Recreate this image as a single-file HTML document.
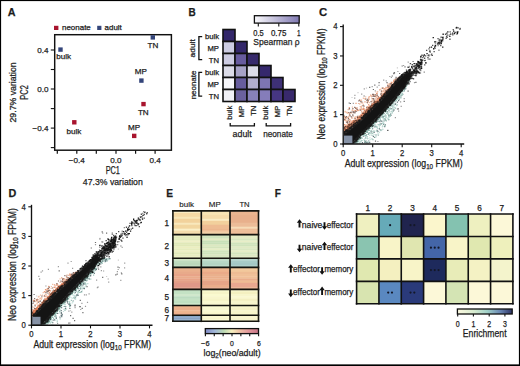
<!DOCTYPE html>
<html><head><meta charset="utf-8"><style>
html,body{margin:0;padding:0;background:#fff;}
#wrap{position:relative;width:520px;height:366px;overflow:hidden;background:#fff;}
canvas,svg{position:absolute;left:0;top:0;}
svg text{font-family:"Liberation Sans", sans-serif;fill:#1c1c1c;stroke:#1c1c1c;stroke-width:0.25px;}
</style></head><body><div id="wrap">
<svg width="520" height="366" viewBox="0 0 520 366">
<clipPath id="clipC"><rect x="343.8" y="18" width="126.2" height="125.5"/></clipPath>
<g clip-path="url(#clipC)">
<path fill="#3c3c3c" fill-opacity="0.5" d="M393.5 72.1h1.2v1.2h-1.2zM383.1 79.6h1.2v1.2h-1.2zM363.7 88.3h1.2v1.2h-1.2zM389.2 75.9h1.2v1.2h-1.2zM367.3 156.2h1.2v1.2h-1.2zM397.3 70.9h1.2v1.2h-1.2zM390.8 76.8h1.2v1.2h-1.2zM385.6 80.2h1.2v1.2h-1.2zM378.4 84.8h1.2v1.2h-1.2zM346.0 161.0h1.2v1.2h-1.2zM400.6 105.7h1.2v1.2h-1.2zM377.3 140.9h1.2v1.2h-1.2zM403.0 64.9h1.2v1.2h-1.2zM354.1 97.6h1.2v1.2h-1.2zM400.0 101.3h1.2v1.2h-1.2zM394.8 117.1h1.2v1.2h-1.2zM354.4 167.3h1.2v1.2h-1.2zM361.1 93.6h1.2v1.2h-1.2zM403.6 98.0h1.2v1.2h-1.2zM374.7 90.2h1.2v1.2h-1.2zM398.0 110.5h1.2v1.2h-1.2zM407.6 61.5h1.2v1.2h-1.2zM352.7 102.7h1.2v1.2h-1.2zM413.9 82.1h1.2v1.2h-1.2zM354.3 94.7h1.2v1.2h-1.2zM408.8 65.8h1.2v1.2h-1.2zM354.0 159.8h1.2v1.2h-1.2zM374.6 149.1h1.2v1.2h-1.2zM387.1 129.9h1.2v1.2h-1.2zM345.5 163.9h1.2v1.2h-1.2zM376.6 86.6h1.2v1.2h-1.2zM371.6 86.1h1.2v1.2h-1.2z"/>
<path fill="#3c3c3c" fill-opacity="0.75" d="M366.7 156.2h1.2v1.2h-1.2zM404.4 66.3h1.2v1.2h-1.2zM363.1 158.1h1.2v1.2h-1.2zM369.1 86.7h1.2v1.2h-1.2zM374.2 84.5h1.2v1.2h-1.2zM396.9 108.4h1.2v1.2h-1.2zM386.4 82.0h1.2v1.2h-1.2zM349.8 102.9h1.2v1.2h-1.2zM415.3 81.7h1.2v1.2h-1.2zM362.5 153.0h1.2v1.2h-1.2zM372.8 88.9h1.2v1.2h-1.2zM387.2 129.8h1.2v1.2h-1.2zM378.5 82.0h1.2v1.2h-1.2zM403.6 100.8h1.2v1.2h-1.2zM393.9 72.3h1.2v1.2h-1.2zM348.6 102.4h1.2v1.2h-1.2zM393.2 73.1h1.2v1.2h-1.2zM352.3 168.3h1.2v1.2h-1.2zM412.5 60.9h1.2v1.2h-1.2zM345.5 166.2h1.2v1.2h-1.2zM391.7 75.4h1.2v1.2h-1.2zM363.5 95.4h1.2v1.2h-1.2zM401.6 65.4h1.2v1.2h-1.2zM372.4 146.4h1.2v1.2h-1.2zM395.5 76.8h1.2v1.2h-1.2zM408.3 66.9h1.2v1.2h-1.2zM374.9 140.5h1.2v1.2h-1.2zM399.0 72.9h1.2v1.2h-1.2zM345.6 168.4h1.2v1.2h-1.2zM407.5 90.6h1.2v1.2h-1.2zM358.1 159.8h1.2v1.2h-1.2zM372.8 144.4h1.2v1.2h-1.2zM397.7 108.2h1.2v1.2h-1.2z"/>
<path fill="#3c3c3c" fill-opacity="0.25" d="M357.4 92.1h1.2v1.2h-1.2zM396.8 67.2h1.2v1.2h-1.2zM356.4 162.7h1.2v1.2h-1.2zM351.4 96.9h1.2v1.2h-1.2zM365.9 87.5h1.2v1.2h-1.2z"/>
<path fill="#e69a78" d="M342.9 127.6h1.2v1.2h-1.2zM368.2 98.2h1.2v1.2h-1.2zM395.7 80.9h1.2v1.2h-1.2zM393.0 80.9h1.2v1.2h-1.2zM343.4 127.9h1.2v1.2h-1.2zM394.7 80.5h1.2v1.2h-1.2zM373.2 94.4h1.2v1.2h-1.2zM352.5 121.5h1.2v1.2h-1.2zM389.2 83.4h1.2v1.2h-1.2zM378.9 100.2h1.2v1.2h-1.2zM366.0 107.0h1.2v1.2h-1.2zM374.9 98.4h1.2v1.2h-1.2zM346.3 129.4h1.2v1.2h-1.2zM351.8 109.5h1.2v1.2h-1.2zM355.1 109.9h1.2v1.2h-1.2zM372.6 94.7h1.2v1.2h-1.2zM383.3 90.8h1.2v1.2h-1.2zM381.9 96.8h1.2v1.2h-1.2zM360.8 106.3h1.2v1.2h-1.2zM354.3 124.0h1.2v1.2h-1.2zM368.3 106.5h1.2v1.2h-1.2zM362.5 108.7h1.2v1.2h-1.2zM344.1 119.6h1.2v1.2h-1.2zM396.8 80.1h1.2v1.2h-1.2zM367.5 106.9h1.2v1.2h-1.2zM396.6 80.1h1.2v1.2h-1.2zM365.6 113.5h1.2v1.2h-1.2zM385.3 90.3h1.2v1.2h-1.2zM385.4 93.1h1.2v1.2h-1.2zM363.4 110.7h1.2v1.2h-1.2zM359.3 120.2h1.2v1.2h-1.2zM368.4 105.3h1.2v1.2h-1.2zM346.8 120.7h1.2v1.2h-1.2zM363.5 108.2h1.2v1.2h-1.2zM375.0 103.3h1.2v1.2h-1.2zM343.2 117.0h1.2v1.2h-1.2zM362.9 113.1h1.2v1.2h-1.2zM368.1 103.9h1.2v1.2h-1.2zM351.3 124.1h1.2v1.2h-1.2zM371.4 100.4h1.2v1.2h-1.2zM354.9 107.3h1.2v1.2h-1.2zM384.7 92.7h1.2v1.2h-1.2zM361.0 118.4h1.2v1.2h-1.2zM359.8 106.0h1.2v1.2h-1.2zM371.2 105.6h1.2v1.2h-1.2zM379.8 98.8h1.2v1.2h-1.2zM384.8 88.2h1.2v1.2h-1.2zM345.2 119.6h1.2v1.2h-1.2zM358.3 102.9h1.2v1.2h-1.2zM385.4 86.8h1.2v1.2h-1.2zM384.9 90.5h1.2v1.2h-1.2zM354.5 110.3h1.2v1.2h-1.2zM360.5 109.3h1.2v1.2h-1.2zM376.0 94.6h1.2v1.2h-1.2zM362.0 108.5h1.2v1.2h-1.2zM389.8 86.9h1.2v1.2h-1.2zM390.3 87.2h1.2v1.2h-1.2zM394.8 79.2h1.2v1.2h-1.2zM348.7 107.1h1.2v1.2h-1.2zM354.8 121.4h1.2v1.2h-1.2zM367.1 107.8h1.2v1.2h-1.2zM357.1 110.1h1.2v1.2h-1.2zM350.9 125.5h1.2v1.2h-1.2zM352.7 122.1h1.2v1.2h-1.2zM389.5 86.1h1.2v1.2h-1.2zM367.0 101.6h1.2v1.2h-1.2zM364.7 109.5h1.2v1.2h-1.2zM352.7 124.2h1.2v1.2h-1.2zM347.2 116.8h1.2v1.2h-1.2zM390.9 85.6h1.2v1.2h-1.2zM372.0 103.4h1.2v1.2h-1.2zM346.7 127.4h1.2v1.2h-1.2zM376.0 92.9h1.2v1.2h-1.2zM348.9 126.8h1.2v1.2h-1.2zM375.2 103.4h1.2v1.2h-1.2zM353.6 124.6h1.2v1.2h-1.2zM359.5 108.4h1.2v1.2h-1.2zM390.8 81.8h1.2v1.2h-1.2zM363.2 116.5h1.2v1.2h-1.2zM384.2 88.8h1.2v1.2h-1.2zM349.1 115.0h1.2v1.2h-1.2zM376.6 95.4h1.2v1.2h-1.2zM393.0 79.8h1.2v1.2h-1.2zM387.5 91.1h1.2v1.2h-1.2zM392.5 84.7h1.2v1.2h-1.2zM352.1 124.4h1.2v1.2h-1.2zM387.1 86.6h1.2v1.2h-1.2zM349.1 119.0h1.2v1.2h-1.2zM364.4 101.3h1.2v1.2h-1.2zM345.4 124.5h1.2v1.2h-1.2zM343.9 124.0h1.2v1.2h-1.2zM376.8 100.3h1.2v1.2h-1.2zM343.9 116.1h1.2v1.2h-1.2zM345.6 126.8h1.2v1.2h-1.2zM374.7 96.0h1.2v1.2h-1.2zM387.0 89.1h1.2v1.2h-1.2zM388.5 87.1h1.2v1.2h-1.2zM387.6 84.9h1.2v1.2h-1.2zM381.5 90.6h1.2v1.2h-1.2zM355.9 108.5h1.2v1.2h-1.2zM378.9 99.1h1.2v1.2h-1.2zM347.0 126.3h1.2v1.2h-1.2zM394.7 81.7h1.2v1.2h-1.2zM351.5 120.5h1.2v1.2h-1.2zM395.7 80.0h1.2v1.2h-1.2zM383.6 88.0h1.2v1.2h-1.2zM350.4 122.7h1.2v1.2h-1.2zM358.0 119.5h1.2v1.2h-1.2zM348.4 112.5h1.2v1.2h-1.2zM354.5 111.0h1.2v1.2h-1.2zM388.4 85.1h1.2v1.2h-1.2zM363.7 109.3h1.2v1.2h-1.2zM387.4 83.6h1.2v1.2h-1.2zM382.4 93.3h1.2v1.2h-1.2zM394.7 79.4h1.2v1.2h-1.2zM397.8 78.4h1.2v1.2h-1.2zM345.5 126.2h1.2v1.2h-1.2zM356.6 120.0h1.2v1.2h-1.2zM386.9 90.2h1.2v1.2h-1.2zM370.9 95.6h1.2v1.2h-1.2zM364.3 112.0h1.2v1.2h-1.2zM357.5 121.0h1.2v1.2h-1.2zM387.7 87.9h1.2v1.2h-1.2zM354.4 119.7h1.2v1.2h-1.2zM393.2 80.8h1.2v1.2h-1.2zM360.3 99.7h1.2v1.2h-1.2zM349.6 119.7h1.2v1.2h-1.2zM376.5 98.7h1.2v1.2h-1.2zM393.2 81.6h1.2v1.2h-1.2zM358.7 115.5h1.2v1.2h-1.2zM344.8 117.6h1.2v1.2h-1.2zM376.7 92.5h1.2v1.2h-1.2zM364.7 112.5h1.2v1.2h-1.2zM360.9 108.5h1.2v1.2h-1.2zM389.2 88.2h1.2v1.2h-1.2zM356.5 107.2h1.2v1.2h-1.2zM349.2 121.0h1.2v1.2h-1.2zM381.6 93.6h1.2v1.2h-1.2zM351.3 117.5h1.2v1.2h-1.2zM395.2 81.4h1.2v1.2h-1.2zM361.1 111.3h1.2v1.2h-1.2zM382.7 87.4h1.2v1.2h-1.2zM358.2 109.5h1.2v1.2h-1.2zM391.0 84.4h1.2v1.2h-1.2zM357.6 116.5h1.2v1.2h-1.2zM394.2 82.1h1.2v1.2h-1.2zM397.3 79.0h1.2v1.2h-1.2zM382.4 94.9h1.2v1.2h-1.2zM343.1 131.2h1.2v1.2h-1.2zM355.5 116.3h1.2v1.2h-1.2zM390.2 84.4h1.2v1.2h-1.2zM343.4 117.6h1.2v1.2h-1.2zM395.5 80.9h1.2v1.2h-1.2zM362.1 102.4h1.2v1.2h-1.2zM345.6 116.3h1.2v1.2h-1.2zM387.2 86.9h1.2v1.2h-1.2zM369.1 105.6h1.2v1.2h-1.2zM346.8 123.4h1.2v1.2h-1.2zM363.0 107.5h1.2v1.2h-1.2zM374.5 104.7h1.2v1.2h-1.2zM354.1 121.8h1.2v1.2h-1.2zM383.3 89.7h1.2v1.2h-1.2zM368.7 96.2h1.2v1.2h-1.2zM362.0 114.5h1.2v1.2h-1.2zM369.4 109.9h1.2v1.2h-1.2zM348.9 122.8h1.2v1.2h-1.2zM366.6 106.0h1.2v1.2h-1.2zM379.1 89.2h1.2v1.2h-1.2zM386.8 87.1h1.2v1.2h-1.2zM378.1 101.4h1.2v1.2h-1.2zM398.7 76.7h1.2v1.2h-1.2zM370.6 108.1h1.2v1.2h-1.2zM370.7 108.5h1.2v1.2h-1.2zM378.5 99.8h1.2v1.2h-1.2z"/>
<path fill="#f2c0a6" d="M384.1 92.8h1.2v1.2h-1.2zM386.7 91.1h1.2v1.2h-1.2zM388.3 90.0h1.2v1.2h-1.2zM389.1 83.8h1.2v1.2h-1.2zM346.2 117.9h1.2v1.2h-1.2zM357.2 118.2h1.2v1.2h-1.2zM366.9 100.8h1.2v1.2h-1.2zM392.5 81.9h1.2v1.2h-1.2zM370.1 94.3h1.2v1.2h-1.2zM360.9 99.6h1.2v1.2h-1.2zM342.9 130.5h1.2v1.2h-1.2zM371.1 97.6h1.2v1.2h-1.2zM395.5 79.9h1.2v1.2h-1.2zM362.7 103.9h1.2v1.2h-1.2zM380.5 96.4h1.2v1.2h-1.2zM389.7 82.7h1.2v1.2h-1.2zM377.4 101.7h1.2v1.2h-1.2zM397.8 77.3h1.2v1.2h-1.2zM343.3 114.4h1.2v1.2h-1.2zM377.1 91.0h1.2v1.2h-1.2zM384.5 93.9h1.2v1.2h-1.2zM344.7 124.8h1.2v1.2h-1.2zM343.8 127.6h1.2v1.2h-1.2zM390.6 83.0h1.2v1.2h-1.2zM347.4 119.6h1.2v1.2h-1.2zM345.8 111.7h1.2v1.2h-1.2zM383.4 89.7h1.2v1.2h-1.2zM346.3 129.8h1.2v1.2h-1.2zM377.8 99.3h1.2v1.2h-1.2zM344.5 127.7h1.2v1.2h-1.2zM390.2 83.2h1.2v1.2h-1.2zM373.2 101.5h1.2v1.2h-1.2zM365.1 96.3h1.2v1.2h-1.2zM350.1 120.0h1.2v1.2h-1.2zM381.9 93.2h1.2v1.2h-1.2zM371.6 98.6h1.2v1.2h-1.2zM363.8 115.8h1.2v1.2h-1.2zM353.7 118.4h1.2v1.2h-1.2zM377.7 98.1h1.2v1.2h-1.2zM386.5 91.7h1.2v1.2h-1.2zM373.9 93.9h1.2v1.2h-1.2zM360.6 115.4h1.2v1.2h-1.2zM386.7 91.5h1.2v1.2h-1.2zM352.0 117.3h1.2v1.2h-1.2zM385.3 90.6h1.2v1.2h-1.2zM393.5 80.0h1.2v1.2h-1.2zM378.8 100.7h1.2v1.2h-1.2zM398.4 77.6h1.2v1.2h-1.2zM394.7 79.9h1.2v1.2h-1.2zM376.2 100.9h1.2v1.2h-1.2zM348.6 114.5h1.2v1.2h-1.2zM361.2 109.3h1.2v1.2h-1.2zM356.2 122.6h1.2v1.2h-1.2zM359.9 106.0h1.2v1.2h-1.2zM394.5 80.8h1.2v1.2h-1.2zM396.2 80.5h1.2v1.2h-1.2zM358.0 120.9h1.2v1.2h-1.2zM382.2 94.1h1.2v1.2h-1.2zM380.0 98.5h1.2v1.2h-1.2zM373.6 106.1h1.2v1.2h-1.2zM355.9 102.7h1.2v1.2h-1.2zM376.1 99.1h1.2v1.2h-1.2zM395.4 78.4h1.2v1.2h-1.2zM353.0 121.7h1.2v1.2h-1.2zM362.3 113.7h1.2v1.2h-1.2zM360.0 115.4h1.2v1.2h-1.2zM367.9 110.2h1.2v1.2h-1.2zM394.2 81.9h1.2v1.2h-1.2zM346.4 121.3h1.2v1.2h-1.2zM390.8 83.7h1.2v1.2h-1.2zM384.3 94.0h1.2v1.2h-1.2zM364.7 109.5h1.2v1.2h-1.2zM367.7 108.2h1.2v1.2h-1.2zM382.8 94.8h1.2v1.2h-1.2zM373.6 104.5h1.2v1.2h-1.2zM375.7 101.8h1.2v1.2h-1.2zM371.2 103.9h1.2v1.2h-1.2zM388.3 89.9h1.2v1.2h-1.2zM372.2 101.3h1.2v1.2h-1.2zM375.4 91.4h1.2v1.2h-1.2zM387.7 85.0h1.2v1.2h-1.2zM370.0 95.2h1.2v1.2h-1.2zM383.9 95.1h1.2v1.2h-1.2zM372.6 104.0h1.2v1.2h-1.2zM351.9 121.9h1.2v1.2h-1.2zM374.2 100.3h1.2v1.2h-1.2zM353.5 109.8h1.2v1.2h-1.2zM367.6 101.1h1.2v1.2h-1.2zM343.0 125.3h1.2v1.2h-1.2zM389.9 85.2h1.2v1.2h-1.2zM392.1 81.8h1.2v1.2h-1.2zM343.4 125.9h1.2v1.2h-1.2zM351.8 106.6h1.2v1.2h-1.2zM355.1 102.8h1.2v1.2h-1.2zM348.4 128.2h1.2v1.2h-1.2zM380.0 93.5h1.2v1.2h-1.2zM384.0 94.6h1.2v1.2h-1.2zM346.2 120.3h1.2v1.2h-1.2zM366.9 102.6h1.2v1.2h-1.2zM392.9 83.4h1.2v1.2h-1.2zM356.6 120.6h1.2v1.2h-1.2zM385.6 88.2h1.2v1.2h-1.2zM344.3 126.2h1.2v1.2h-1.2zM347.7 116.0h1.2v1.2h-1.2zM388.3 88.6h1.2v1.2h-1.2zM361.0 107.7h1.2v1.2h-1.2zM361.1 105.4h1.2v1.2h-1.2zM344.7 110.7h1.2v1.2h-1.2zM391.3 86.2h1.2v1.2h-1.2zM356.9 117.4h1.2v1.2h-1.2zM344.7 119.3h1.2v1.2h-1.2zM359.2 103.5h1.2v1.2h-1.2zM351.1 112.6h1.2v1.2h-1.2zM369.8 105.8h1.2v1.2h-1.2zM381.1 98.1h1.2v1.2h-1.2zM376.0 101.4h1.2v1.2h-1.2zM394.8 79.3h1.2v1.2h-1.2zM395.1 80.3h1.2v1.2h-1.2zM364.0 115.0h1.2v1.2h-1.2zM346.4 120.4h1.2v1.2h-1.2zM348.4 121.1h1.2v1.2h-1.2zM378.9 96.8h1.2v1.2h-1.2zM371.4 105.8h1.2v1.2h-1.2zM370.8 101.2h1.2v1.2h-1.2zM395.9 79.0h1.2v1.2h-1.2zM347.5 109.0h1.2v1.2h-1.2zM344.3 111.2h1.2v1.2h-1.2zM392.1 83.2h1.2v1.2h-1.2zM377.8 97.2h1.2v1.2h-1.2zM397.1 77.6h1.2v1.2h-1.2zM362.7 97.6h1.2v1.2h-1.2zM393.1 83.9h1.2v1.2h-1.2zM364.5 108.7h1.2v1.2h-1.2zM364.8 98.2h1.2v1.2h-1.2zM346.7 112.7h1.2v1.2h-1.2zM372.1 99.5h1.2v1.2h-1.2zM380.8 91.9h1.2v1.2h-1.2zM383.2 93.5h1.2v1.2h-1.2zM391.0 85.4h1.2v1.2h-1.2zM354.4 116.6h1.2v1.2h-1.2zM376.0 96.1h1.2v1.2h-1.2zM391.6 84.4h1.2v1.2h-1.2zM385.3 87.4h1.2v1.2h-1.2zM355.2 120.8h1.2v1.2h-1.2zM388.8 88.4h1.2v1.2h-1.2zM343.2 131.2h1.2v1.2h-1.2zM360.9 106.8h1.2v1.2h-1.2zM351.7 109.8h1.2v1.2h-1.2zM389.7 84.1h1.2v1.2h-1.2zM383.6 88.6h1.2v1.2h-1.2zM376.2 97.1h1.2v1.2h-1.2zM370.1 107.7h1.2v1.2h-1.2zM343.7 125.8h1.2v1.2h-1.2zM347.1 123.2h1.2v1.2h-1.2zM343.6 119.4h1.2v1.2h-1.2zM382.1 91.2h1.2v1.2h-1.2zM363.1 97.8h1.2v1.2h-1.2zM345.4 111.4h1.2v1.2h-1.2zM376.5 101.0h1.2v1.2h-1.2zM377.5 95.8h1.2v1.2h-1.2zM398.9 77.9h1.2v1.2h-1.2zM368.6 106.2h1.2v1.2h-1.2zM359.3 120.0h1.2v1.2h-1.2zM394.2 82.8h1.2v1.2h-1.2zM388.2 84.7h1.2v1.2h-1.2zM387.9 85.0h1.2v1.2h-1.2zM387.9 86.5h1.2v1.2h-1.2zM344.5 129.2h1.2v1.2h-1.2zM350.0 121.6h1.2v1.2h-1.2zM367.3 108.9h1.2v1.2h-1.2zM371.2 105.1h1.2v1.2h-1.2zM389.6 83.4h1.2v1.2h-1.2zM347.0 111.7h1.2v1.2h-1.2zM392.1 84.7h1.2v1.2h-1.2zM347.8 109.0h1.2v1.2h-1.2zM392.3 84.7h1.2v1.2h-1.2zM380.9 96.6h1.2v1.2h-1.2zM354.1 117.0h1.2v1.2h-1.2zM354.5 117.6h1.2v1.2h-1.2zM361.7 112.7h1.2v1.2h-1.2zM394.1 79.1h1.2v1.2h-1.2zM355.2 116.9h1.2v1.2h-1.2zM368.5 98.8h1.2v1.2h-1.2zM350.5 124.1h1.2v1.2h-1.2zM380.1 88.8h1.2v1.2h-1.2zM383.3 92.8h1.2v1.2h-1.2zM368.0 96.7h1.2v1.2h-1.2zM398.9 77.2h1.2v1.2h-1.2zM345.5 121.2h1.2v1.2h-1.2zM383.4 93.7h1.2v1.2h-1.2zM375.6 97.5h1.2v1.2h-1.2zM351.2 126.5h1.2v1.2h-1.2zM349.6 112.4h1.2v1.2h-1.2zM394.1 82.2h1.2v1.2h-1.2zM344.1 116.9h1.2v1.2h-1.2zM364.4 113.1h1.2v1.2h-1.2zM391.3 85.8h1.2v1.2h-1.2zM385.7 89.2h1.2v1.2h-1.2zM361.1 116.8h1.2v1.2h-1.2zM382.3 93.1h1.2v1.2h-1.2zM391.5 85.3h1.2v1.2h-1.2zM379.1 98.4h1.2v1.2h-1.2zM381.2 87.6h1.2v1.2h-1.2zM349.2 120.5h1.2v1.2h-1.2zM348.2 117.4h1.2v1.2h-1.2zM348.5 124.3h1.2v1.2h-1.2zM345.3 116.3h1.2v1.2h-1.2zM392.8 82.2h1.2v1.2h-1.2zM371.8 107.5h1.2v1.2h-1.2zM345.4 127.0h1.2v1.2h-1.2zM360.7 102.3h1.2v1.2h-1.2zM377.2 101.5h1.2v1.2h-1.2zM368.9 102.0h1.2v1.2h-1.2zM364.1 98.2h1.2v1.2h-1.2zM398.5 76.9h1.2v1.2h-1.2zM344.8 119.2h1.2v1.2h-1.2zM370.0 109.8h1.2v1.2h-1.2zM343.8 118.3h1.2v1.2h-1.2z"/>
<path fill="#8a7068" d="M378.0 98.3h1.2v1.2h-1.2zM385.6 90.1h1.2v1.2h-1.2zM357.1 115.7h1.2v1.2h-1.2zM354.5 117.9h1.2v1.2h-1.2zM372.9 101.7h1.2v1.2h-1.2zM352.2 114.2h1.2v1.2h-1.2zM343.2 115.1h1.2v1.2h-1.2zM384.7 94.2h1.2v1.2h-1.2zM349.2 113.6h1.2v1.2h-1.2zM375.2 102.1h1.2v1.2h-1.2zM366.2 107.3h1.2v1.2h-1.2zM344.8 127.4h1.2v1.2h-1.2zM365.3 98.5h1.2v1.2h-1.2zM352.3 108.1h1.2v1.2h-1.2zM353.0 112.1h1.2v1.2h-1.2zM342.9 115.7h1.2v1.2h-1.2zM372.0 93.8h1.2v1.2h-1.2zM348.2 111.9h1.2v1.2h-1.2zM351.3 111.5h1.2v1.2h-1.2zM380.8 93.3h1.2v1.2h-1.2zM354.0 120.3h1.2v1.2h-1.2zM395.6 80.8h1.2v1.2h-1.2zM372.3 97.9h1.2v1.2h-1.2zM348.9 108.4h1.2v1.2h-1.2zM366.3 99.9h1.2v1.2h-1.2zM389.5 87.0h1.2v1.2h-1.2zM367.4 108.8h1.2v1.2h-1.2zM377.3 97.9h1.2v1.2h-1.2zM373.6 95.6h1.2v1.2h-1.2zM354.4 111.5h1.2v1.2h-1.2zM382.0 87.6h1.2v1.2h-1.2zM388.2 86.4h1.2v1.2h-1.2zM394.8 78.6h1.2v1.2h-1.2zM397.7 77.2h1.2v1.2h-1.2zM366.6 101.8h1.2v1.2h-1.2zM380.3 93.6h1.2v1.2h-1.2zM373.3 99.2h1.2v1.2h-1.2zM389.8 87.1h1.2v1.2h-1.2zM375.0 94.3h1.2v1.2h-1.2zM345.1 117.0h1.2v1.2h-1.2zM370.9 103.6h1.2v1.2h-1.2zM347.9 117.7h1.2v1.2h-1.2zM352.4 115.4h1.2v1.2h-1.2zM386.4 89.8h1.2v1.2h-1.2zM376.8 94.5h1.2v1.2h-1.2zM394.5 82.6h1.2v1.2h-1.2zM390.6 83.0h1.2v1.2h-1.2zM364.4 110.0h1.2v1.2h-1.2zM360.2 101.0h1.2v1.2h-1.2zM387.0 85.2h1.2v1.2h-1.2zM363.7 115.9h1.2v1.2h-1.2zM373.0 94.1h1.2v1.2h-1.2zM348.8 121.2h1.2v1.2h-1.2zM353.6 124.6h1.2v1.2h-1.2zM367.6 100.1h1.2v1.2h-1.2zM370.5 101.1h1.2v1.2h-1.2zM394.1 82.8h1.2v1.2h-1.2zM361.6 116.9h1.2v1.2h-1.2zM394.1 80.7h1.2v1.2h-1.2zM380.8 90.6h1.2v1.2h-1.2zM360.0 119.1h1.2v1.2h-1.2zM373.1 98.1h1.2v1.2h-1.2zM355.2 107.7h1.2v1.2h-1.2zM369.7 109.7h1.2v1.2h-1.2zM396.1 78.3h1.2v1.2h-1.2zM396.0 80.5h1.2v1.2h-1.2zM397.0 79.7h1.2v1.2h-1.2zM346.2 121.7h1.2v1.2h-1.2zM374.3 95.8h1.2v1.2h-1.2zM360.6 117.4h1.2v1.2h-1.2zM354.5 121.9h1.2v1.2h-1.2zM358.3 100.3h1.2v1.2h-1.2zM388.6 87.7h1.2v1.2h-1.2zM347.1 122.2h1.2v1.2h-1.2zM351.3 125.8h1.2v1.2h-1.2zM399.1 76.6h1.2v1.2h-1.2zM354.3 112.4h1.2v1.2h-1.2zM387.1 90.9h1.2v1.2h-1.2zM396.8 78.5h1.2v1.2h-1.2zM355.6 110.8h1.2v1.2h-1.2zM348.7 108.1h1.2v1.2h-1.2zM368.4 110.7h1.2v1.2h-1.2zM372.4 95.8h1.2v1.2h-1.2zM375.7 101.6h1.2v1.2h-1.2zM389.4 87.8h1.2v1.2h-1.2zM385.1 90.3h1.2v1.2h-1.2zM373.7 100.3h1.2v1.2h-1.2zM391.0 84.6h1.2v1.2h-1.2zM389.6 83.4h1.2v1.2h-1.2zM375.9 103.5h1.2v1.2h-1.2zM356.7 108.8h1.2v1.2h-1.2zM379.4 97.8h1.2v1.2h-1.2zM366.8 109.1h1.2v1.2h-1.2zM350.0 111.8h1.2v1.2h-1.2zM352.7 111.1h1.2v1.2h-1.2zM398.4 78.0h1.2v1.2h-1.2zM344.1 118.9h1.2v1.2h-1.2zM358.9 99.5h1.2v1.2h-1.2zM349.5 115.2h1.2v1.2h-1.2zM384.7 91.7h1.2v1.2h-1.2zM362.4 105.0h1.2v1.2h-1.2zM359.7 109.6h1.2v1.2h-1.2zM363.4 105.6h1.2v1.2h-1.2zM388.1 88.8h1.2v1.2h-1.2zM371.6 107.4h1.2v1.2h-1.2zM372.7 93.7h1.2v1.2h-1.2zM347.8 119.4h1.2v1.2h-1.2zM350.8 116.3h1.2v1.2h-1.2zM357.0 119.4h1.2v1.2h-1.2zM396.3 78.6h1.2v1.2h-1.2zM346.8 121.2h1.2v1.2h-1.2zM382.7 95.9h1.2v1.2h-1.2zM371.7 103.9h1.2v1.2h-1.2zM394.7 80.1h1.2v1.2h-1.2zM369.8 108.4h1.2v1.2h-1.2zM392.7 84.0h1.2v1.2h-1.2zM345.8 127.7h1.2v1.2h-1.2zM397.9 77.9h1.2v1.2h-1.2zM377.8 96.2h1.2v1.2h-1.2zM388.4 85.4h1.2v1.2h-1.2zM361.3 101.4h1.2v1.2h-1.2zM345.8 116.0h1.2v1.2h-1.2zM354.3 111.2h1.2v1.2h-1.2zM397.3 78.0h1.2v1.2h-1.2zM374.5 102.3h1.2v1.2h-1.2zM367.1 98.7h1.2v1.2h-1.2zM354.1 106.8h1.2v1.2h-1.2zM366.7 112.0h1.2v1.2h-1.2z"/>
<path fill="#de7c56" d="M358.2 116.8h1.3v1.3h-1.3zM381.8 96.3h1.3v1.3h-1.3zM379.0 97.7h1.3v1.3h-1.3zM363.3 112.1h1.3v1.3h-1.3zM392.3 85.1h1.3v1.3h-1.3zM350.9 124.5h1.3v1.3h-1.3zM362.7 112.7h1.3v1.3h-1.3zM351.0 121.9h1.3v1.3h-1.3zM352.5 121.4h1.3v1.3h-1.3zM350.3 126.2h1.3v1.3h-1.3zM383.0 93.7h1.3v1.3h-1.3zM344.1 129.5h1.3v1.3h-1.3zM384.5 94.1h1.3v1.3h-1.3zM350.0 127.2h1.3v1.3h-1.3zM384.6 92.0h1.3v1.3h-1.3zM392.0 84.8h1.3v1.3h-1.3zM350.9 126.9h1.3v1.3h-1.3zM357.2 118.0h1.3v1.3h-1.3zM371.1 107.1h1.3v1.3h-1.3zM374.5 103.4h1.3v1.3h-1.3zM345.7 127.4h1.3v1.3h-1.3zM361.0 114.9h1.3v1.3h-1.3zM365.9 111.2h1.3v1.3h-1.3zM387.7 89.4h1.3v1.3h-1.3zM352.0 122.2h1.3v1.3h-1.3zM382.9 94.0h1.3v1.3h-1.3zM350.5 126.7h1.3v1.3h-1.3zM352.2 125.8h1.3v1.3h-1.3zM375.7 102.4h1.3v1.3h-1.3zM343.3 128.4h1.3v1.3h-1.3zM367.1 112.0h1.3v1.3h-1.3zM357.7 121.0h1.3v1.3h-1.3zM355.3 120.5h1.3v1.3h-1.3zM377.8 98.2h1.3v1.3h-1.3zM366.2 112.0h1.3v1.3h-1.3zM374.8 102.6h1.3v1.3h-1.3zM365.5 111.5h1.3v1.3h-1.3zM379.5 97.7h1.3v1.3h-1.3zM352.1 121.3h1.3v1.3h-1.3zM346.8 125.3h1.3v1.3h-1.3zM375.1 100.4h1.3v1.3h-1.3zM370.8 106.1h1.3v1.3h-1.3zM386.4 91.4h1.3v1.3h-1.3zM371.3 104.2h1.3v1.3h-1.3zM389.5 87.4h1.3v1.3h-1.3zM385.8 92.5h1.3v1.3h-1.3zM364.7 114.8h1.3v1.3h-1.3zM349.4 124.5h1.3v1.3h-1.3zM386.5 91.4h1.3v1.3h-1.3zM354.6 123.6h1.3v1.3h-1.3zM386.1 92.5h1.3v1.3h-1.3zM385.1 92.6h1.3v1.3h-1.3zM353.2 120.3h1.3v1.3h-1.3zM358.0 117.4h1.3v1.3h-1.3zM369.6 107.3h1.3v1.3h-1.3zM372.2 104.1h1.3v1.3h-1.3zM359.9 118.7h1.3v1.3h-1.3zM354.2 123.4h1.3v1.3h-1.3zM381.2 97.5h1.3v1.3h-1.3zM390.1 87.5h1.3v1.3h-1.3zM369.8 110.0h1.3v1.3h-1.3zM360.7 118.2h1.3v1.3h-1.3zM352.2 124.8h1.3v1.3h-1.3zM374.4 103.6h1.3v1.3h-1.3zM377.7 100.8h1.3v1.3h-1.3zM355.1 122.7h1.3v1.3h-1.3zM353.2 123.7h1.3v1.3h-1.3zM347.7 128.7h1.3v1.3h-1.3zM388.4 89.8h1.3v1.3h-1.3zM368.0 107.5h1.3v1.3h-1.3zM367.2 108.7h1.3v1.3h-1.3zM383.1 94.4h1.3v1.3h-1.3zM352.9 121.6h1.3v1.3h-1.3zM360.9 116.3h1.3v1.3h-1.3zM382.6 95.0h1.3v1.3h-1.3zM377.4 100.3h1.3v1.3h-1.3zM368.0 110.8h1.3v1.3h-1.3zM362.4 116.3h1.3v1.3h-1.3zM386.2 91.1h1.3v1.3h-1.3zM344.4 131.8h1.3v1.3h-1.3zM369.6 109.0h1.3v1.3h-1.3zM393.3 83.9h1.3v1.3h-1.3zM372.0 107.6h1.3v1.3h-1.3zM360.8 118.5h1.3v1.3h-1.3zM354.5 121.7h1.3v1.3h-1.3zM371.5 108.1h1.3v1.3h-1.3zM377.8 98.7h1.3v1.3h-1.3zM343.7 131.4h1.3v1.3h-1.3zM348.0 123.8h1.3v1.3h-1.3zM391.7 85.4h1.3v1.3h-1.3zM361.2 117.8h1.3v1.3h-1.3zM361.8 113.3h1.3v1.3h-1.3zM348.3 125.5h1.3v1.3h-1.3zM345.7 128.1h1.3v1.3h-1.3zM353.4 123.9h1.3v1.3h-1.3zM358.6 117.2h1.3v1.3h-1.3zM348.7 125.8h1.3v1.3h-1.3zM352.3 120.7h1.3v1.3h-1.3zM372.3 105.1h1.3v1.3h-1.3zM345.7 128.4h1.3v1.3h-1.3zM348.0 124.1h1.3v1.3h-1.3zM348.3 127.4h1.3v1.3h-1.3zM394.5 82.5h1.3v1.3h-1.3zM389.2 87.5h1.3v1.3h-1.3zM378.1 98.5h1.3v1.3h-1.3zM347.6 126.3h1.3v1.3h-1.3zM367.5 108.8h1.3v1.3h-1.3zM393.4 83.7h1.3v1.3h-1.3zM358.3 118.6h1.3v1.3h-1.3zM357.4 118.6h1.3v1.3h-1.3zM376.7 101.9h1.3v1.3h-1.3zM362.4 114.1h1.3v1.3h-1.3zM351.7 125.5h1.3v1.3h-1.3zM390.9 85.9h1.3v1.3h-1.3zM374.6 105.0h1.3v1.3h-1.3zM355.5 122.2h1.3v1.3h-1.3zM389.3 88.0h1.3v1.3h-1.3zM394.4 82.7h1.3v1.3h-1.3zM364.5 112.5h1.3v1.3h-1.3zM343.8 129.6h1.3v1.3h-1.3zM379.5 97.6h1.3v1.3h-1.3zM375.1 100.9h1.3v1.3h-1.3zM352.4 121.0h1.3v1.3h-1.3zM343.0 130.6h1.3v1.3h-1.3zM353.6 122.4h1.3v1.3h-1.3zM366.8 110.2h1.3v1.3h-1.3zM369.1 108.5h1.3v1.3h-1.3zM366.3 109.6h1.3v1.3h-1.3zM352.8 123.7h1.3v1.3h-1.3zM365.9 111.2h1.3v1.3h-1.3zM385.9 92.9h1.3v1.3h-1.3zM371.9 107.2h1.3v1.3h-1.3zM365.7 110.8h1.3v1.3h-1.3zM363.9 115.6h1.3v1.3h-1.3zM388.3 88.3h1.3v1.3h-1.3zM346.7 129.1h1.3v1.3h-1.3zM386.5 91.0h1.3v1.3h-1.3zM370.2 107.2h1.3v1.3h-1.3zM369.8 108.8h1.3v1.3h-1.3zM375.3 104.4h1.3v1.3h-1.3zM357.7 118.0h1.3v1.3h-1.3zM364.1 111.4h1.3v1.3h-1.3zM386.0 91.4h1.3v1.3h-1.3zM345.3 130.0h1.3v1.3h-1.3zM361.9 113.3h1.3v1.3h-1.3zM392.5 84.5h1.3v1.3h-1.3zM371.3 108.0h1.3v1.3h-1.3zM375.9 100.6h1.3v1.3h-1.3zM383.7 94.1h1.3v1.3h-1.3zM357.7 116.9h1.3v1.3h-1.3zM389.5 88.3h1.3v1.3h-1.3zM360.4 118.1h1.3v1.3h-1.3zM379.3 100.2h1.3v1.3h-1.3zM364.4 110.6h1.3v1.3h-1.3zM354.0 124.5h1.3v1.3h-1.3zM382.3 95.0h1.3v1.3h-1.3zM367.8 110.2h1.3v1.3h-1.3zM357.9 119.2h1.3v1.3h-1.3zM353.1 120.1h1.3v1.3h-1.3zM362.9 116.8h1.3v1.3h-1.3zM347.8 124.3h1.3v1.3h-1.3zM380.6 95.5h1.3v1.3h-1.3zM375.0 101.8h1.3v1.3h-1.3zM357.7 121.3h1.3v1.3h-1.3zM345.3 130.6h1.3v1.3h-1.3zM366.9 111.2h1.3v1.3h-1.3zM347.0 125.9h1.3v1.3h-1.3zM387.8 90.4h1.3v1.3h-1.3zM365.5 111.4h1.3v1.3h-1.3zM343.0 131.2h1.3v1.3h-1.3zM366.1 109.1h1.3v1.3h-1.3zM357.8 119.3h1.3v1.3h-1.3zM382.3 95.6h1.3v1.3h-1.3zM360.6 117.8h1.3v1.3h-1.3zM344.3 129.8h1.3v1.3h-1.3zM386.1 91.4h1.3v1.3h-1.3zM373.4 105.7h1.3v1.3h-1.3zM377.5 102.1h1.3v1.3h-1.3zM360.4 117.5h1.3v1.3h-1.3zM366.1 111.9h1.3v1.3h-1.3zM343.7 130.1h1.3v1.3h-1.3zM368.6 109.0h1.3v1.3h-1.3zM377.7 99.6h1.3v1.3h-1.3zM362.4 113.5h1.3v1.3h-1.3zM391.7 85.9h1.3v1.3h-1.3zM355.2 120.9h1.3v1.3h-1.3zM382.3 95.4h1.3v1.3h-1.3zM376.3 101.9h1.3v1.3h-1.3zM357.8 118.5h1.3v1.3h-1.3zM345.0 130.8h1.3v1.3h-1.3zM380.7 97.1h1.3v1.3h-1.3zM364.2 115.2h1.3v1.3h-1.3zM393.6 83.4h1.3v1.3h-1.3zM360.3 114.9h1.3v1.3h-1.3zM360.9 113.8h1.3v1.3h-1.3zM374.7 103.8h1.3v1.3h-1.3zM343.9 129.8h1.3v1.3h-1.3zM381.2 98.1h1.3v1.3h-1.3zM379.4 99.1h1.3v1.3h-1.3zM387.9 89.2h1.3v1.3h-1.3zM389.5 88.0h1.3v1.3h-1.3zM386.3 90.9h1.3v1.3h-1.3zM379.5 96.9h1.3v1.3h-1.3zM389.5 87.9h1.3v1.3h-1.3zM370.0 107.2h1.3v1.3h-1.3zM395.1 82.0h1.3v1.3h-1.3zM370.4 107.2h1.3v1.3h-1.3zM342.9 127.2h1.3v1.3h-1.3zM376.9 101.3h1.3v1.3h-1.3zM393.8 83.2h1.3v1.3h-1.3zM381.4 95.2h1.3v1.3h-1.3zM378.8 97.4h1.3v1.3h-1.3zM392.6 84.4h1.3v1.3h-1.3zM388.7 89.6h1.3v1.3h-1.3zM360.9 117.6h1.3v1.3h-1.3zM387.5 89.9h1.3v1.3h-1.3zM391.6 85.2h1.3v1.3h-1.3zM353.2 122.6h1.3v1.3h-1.3zM343.6 132.4h1.3v1.3h-1.3zM377.3 100.4h1.3v1.3h-1.3zM347.9 129.3h1.3v1.3h-1.3zM378.6 100.9h1.3v1.3h-1.3zM362.6 112.8h1.3v1.3h-1.3zM358.9 117.8h1.3v1.3h-1.3zM359.8 118.1h1.3v1.3h-1.3zM365.3 110.7h1.3v1.3h-1.3zM377.5 98.5h1.3v1.3h-1.3zM364.4 112.6h1.3v1.3h-1.3zM358.8 117.9h1.3v1.3h-1.3zM343.0 128.3h1.3v1.3h-1.3zM343.0 130.7h1.3v1.3h-1.3zM389.4 88.9h1.3v1.3h-1.3zM362.1 117.5h1.3v1.3h-1.3zM383.8 94.3h1.3v1.3h-1.3zM391.6 86.0h1.3v1.3h-1.3zM367.4 109.3h1.3v1.3h-1.3zM372.2 107.0h1.3v1.3h-1.3zM369.3 109.8h1.3v1.3h-1.3zM345.0 125.8h1.3v1.3h-1.3zM383.8 92.8h1.3v1.3h-1.3zM385.7 92.1h1.3v1.3h-1.3zM382.2 95.4h1.3v1.3h-1.3zM349.6 127.5h1.3v1.3h-1.3zM390.9 86.5h1.3v1.3h-1.3zM363.1 115.2h1.3v1.3h-1.3zM385.4 91.5h1.3v1.3h-1.3zM386.5 92.0h1.3v1.3h-1.3zM379.3 98.7h1.3v1.3h-1.3zM347.6 126.4h1.3v1.3h-1.3zM384.9 92.8h1.3v1.3h-1.3zM344.0 128.8h1.3v1.3h-1.3zM375.8 101.5h1.3v1.3h-1.3zM345.6 129.2h1.3v1.3h-1.3zM343.1 127.6h1.3v1.3h-1.3zM365.7 111.4h1.3v1.3h-1.3zM366.2 111.4h1.3v1.3h-1.3zM392.1 85.5h1.3v1.3h-1.3zM380.4 97.5h1.3v1.3h-1.3zM364.4 111.8h1.3v1.3h-1.3zM372.9 102.9h1.3v1.3h-1.3zM383.5 95.1h1.3v1.3h-1.3zM358.0 120.8h1.3v1.3h-1.3zM379.8 99.4h1.3v1.3h-1.3zM374.7 102.0h1.3v1.3h-1.3zM355.3 119.5h1.3v1.3h-1.3zM352.9 122.8h1.3v1.3h-1.3zM347.1 128.2h1.3v1.3h-1.3zM360.7 114.8h1.3v1.3h-1.3zM352.9 120.6h1.3v1.3h-1.3zM359.2 117.2h1.3v1.3h-1.3zM382.8 94.5h1.3v1.3h-1.3zM378.6 97.6h1.3v1.3h-1.3zM350.6 122.7h1.3v1.3h-1.3zM347.1 129.4h1.3v1.3h-1.3zM353.5 121.8h1.3v1.3h-1.3zM356.7 120.2h1.3v1.3h-1.3zM342.9 130.3h1.3v1.3h-1.3zM370.0 109.1h1.3v1.3h-1.3zM380.9 96.0h1.3v1.3h-1.3zM346.9 126.4h1.3v1.3h-1.3zM384.4 92.4h1.3v1.3h-1.3zM371.7 103.7h1.3v1.3h-1.3zM375.4 102.4h1.3v1.3h-1.3zM394.8 82.3h1.3v1.3h-1.3zM347.2 125.2h1.3v1.3h-1.3zM386.1 92.2h1.3v1.3h-1.3zM364.8 112.5h1.3v1.3h-1.3zM343.0 130.0h1.3v1.3h-1.3zM362.1 116.4h1.3v1.3h-1.3zM391.4 86.0h1.3v1.3h-1.3zM361.8 114.8h1.3v1.3h-1.3zM358.7 118.4h1.3v1.3h-1.3z"/>
<path fill="#ea9a78" d="M348.3 129.0h1.3v1.3h-1.3zM374.5 103.6h1.3v1.3h-1.3zM362.3 116.3h1.3v1.3h-1.3zM374.9 104.0h1.3v1.3h-1.3zM353.0 124.0h1.3v1.3h-1.3zM346.8 127.7h1.3v1.3h-1.3zM352.7 123.8h1.3v1.3h-1.3zM373.4 103.3h1.3v1.3h-1.3zM352.4 120.5h1.3v1.3h-1.3zM391.3 85.4h1.3v1.3h-1.3zM366.9 109.6h1.3v1.3h-1.3zM347.9 125.8h1.3v1.3h-1.3zM345.5 125.6h1.3v1.3h-1.3zM389.9 87.7h1.3v1.3h-1.3zM361.5 115.7h1.3v1.3h-1.3zM352.7 123.6h1.3v1.3h-1.3zM365.6 111.0h1.3v1.3h-1.3zM357.8 118.3h1.3v1.3h-1.3zM348.7 127.8h1.3v1.3h-1.3zM378.1 99.5h1.3v1.3h-1.3zM363.7 111.5h1.3v1.3h-1.3zM348.9 128.5h1.3v1.3h-1.3zM355.2 119.4h1.3v1.3h-1.3zM369.4 107.0h1.3v1.3h-1.3zM358.7 117.3h1.3v1.3h-1.3zM374.8 102.4h1.3v1.3h-1.3zM392.3 84.7h1.3v1.3h-1.3zM353.3 120.8h1.3v1.3h-1.3zM350.0 125.8h1.3v1.3h-1.3zM390.8 86.1h1.3v1.3h-1.3zM357.2 117.5h1.3v1.3h-1.3zM382.5 94.0h1.3v1.3h-1.3zM345.6 125.4h1.3v1.3h-1.3zM376.6 100.0h1.3v1.3h-1.3zM355.3 120.5h1.3v1.3h-1.3zM381.6 95.8h1.3v1.3h-1.3zM357.6 119.7h1.3v1.3h-1.3zM367.4 109.0h1.3v1.3h-1.3zM373.6 102.5h1.3v1.3h-1.3zM366.1 113.2h1.3v1.3h-1.3zM372.3 103.2h1.3v1.3h-1.3zM394.2 83.0h1.3v1.3h-1.3zM369.1 106.7h1.3v1.3h-1.3zM347.1 125.6h1.3v1.3h-1.3zM358.9 119.2h1.3v1.3h-1.3zM382.5 94.6h1.3v1.3h-1.3zM390.7 86.6h1.3v1.3h-1.3zM381.2 95.4h1.3v1.3h-1.3zM362.3 116.0h1.3v1.3h-1.3zM372.6 103.4h1.3v1.3h-1.3zM381.3 97.0h1.3v1.3h-1.3zM345.4 127.4h1.3v1.3h-1.3zM383.9 94.2h1.3v1.3h-1.3zM343.6 127.0h1.3v1.3h-1.3zM389.4 86.8h1.3v1.3h-1.3zM348.1 129.0h1.3v1.3h-1.3zM360.9 117.7h1.3v1.3h-1.3zM368.9 110.4h1.3v1.3h-1.3zM359.1 116.3h1.3v1.3h-1.3zM382.2 96.8h1.3v1.3h-1.3zM351.2 121.5h1.3v1.3h-1.3zM345.5 128.4h1.3v1.3h-1.3zM373.6 103.1h1.3v1.3h-1.3zM383.6 93.7h1.3v1.3h-1.3zM376.4 102.0h1.3v1.3h-1.3zM390.4 86.3h1.3v1.3h-1.3zM354.4 124.0h1.3v1.3h-1.3zM357.1 119.0h1.3v1.3h-1.3zM385.7 91.8h1.3v1.3h-1.3zM353.9 123.6h1.3v1.3h-1.3zM345.0 130.1h1.3v1.3h-1.3zM383.4 94.3h1.3v1.3h-1.3zM362.4 115.7h1.3v1.3h-1.3zM346.9 124.9h1.3v1.3h-1.3zM356.6 120.4h1.3v1.3h-1.3zM354.2 119.7h1.3v1.3h-1.3zM373.8 105.6h1.3v1.3h-1.3zM369.2 106.0h1.3v1.3h-1.3zM389.6 86.7h1.3v1.3h-1.3zM381.7 95.2h1.3v1.3h-1.3zM371.9 107.9h1.3v1.3h-1.3zM352.7 122.8h1.3v1.3h-1.3zM344.6 129.5h1.3v1.3h-1.3zM351.2 125.2h1.3v1.3h-1.3zM346.8 125.6h1.3v1.3h-1.3zM387.2 90.4h1.3v1.3h-1.3zM384.0 94.2h1.3v1.3h-1.3zM367.7 109.0h1.3v1.3h-1.3zM382.5 95.6h1.3v1.3h-1.3zM372.0 103.5h1.3v1.3h-1.3zM356.7 117.8h1.3v1.3h-1.3zM389.3 87.9h1.3v1.3h-1.3zM371.5 105.2h1.3v1.3h-1.3zM364.2 111.0h1.3v1.3h-1.3zM391.6 86.0h1.3v1.3h-1.3zM360.6 116.0h1.3v1.3h-1.3zM366.6 108.7h1.3v1.3h-1.3zM373.3 102.8h1.3v1.3h-1.3zM382.4 95.4h1.3v1.3h-1.3zM377.4 98.5h1.3v1.3h-1.3zM348.8 123.9h1.3v1.3h-1.3zM343.1 132.5h1.3v1.3h-1.3zM381.0 97.6h1.3v1.3h-1.3zM351.7 123.5h1.3v1.3h-1.3zM357.9 120.0h1.3v1.3h-1.3zM383.2 94.2h1.3v1.3h-1.3zM361.8 114.8h1.3v1.3h-1.3zM391.8 85.5h1.3v1.3h-1.3zM353.4 122.5h1.3v1.3h-1.3zM383.5 93.2h1.3v1.3h-1.3zM354.8 119.5h1.3v1.3h-1.3zM386.5 91.9h1.3v1.3h-1.3zM362.0 113.0h1.3v1.3h-1.3zM350.9 122.4h1.3v1.3h-1.3zM394.1 83.0h1.3v1.3h-1.3zM358.7 115.8h1.3v1.3h-1.3zM360.5 114.0h1.3v1.3h-1.3zM367.5 108.6h1.3v1.3h-1.3zM391.3 86.3h1.3v1.3h-1.3zM391.5 85.6h1.3v1.3h-1.3z"/>
<path fill="#6e4434" d="M386.1 91.0h1.3v1.3h-1.3zM350.8 124.7h1.3v1.3h-1.3zM368.2 107.1h1.3v1.3h-1.3zM368.8 108.0h1.3v1.3h-1.3zM361.3 117.6h1.3v1.3h-1.3zM385.8 91.5h1.3v1.3h-1.3zM374.2 101.1h1.3v1.3h-1.3zM381.7 96.3h1.3v1.3h-1.3zM370.4 108.8h1.3v1.3h-1.3zM349.4 126.8h1.3v1.3h-1.3zM357.4 119.5h1.3v1.3h-1.3zM353.4 122.4h1.3v1.3h-1.3zM347.1 127.8h1.3v1.3h-1.3zM387.7 90.8h1.3v1.3h-1.3zM366.2 109.4h1.3v1.3h-1.3zM348.5 125.2h1.3v1.3h-1.3zM364.7 112.3h1.3v1.3h-1.3zM368.1 110.8h1.3v1.3h-1.3zM388.5 88.6h1.3v1.3h-1.3zM349.4 124.1h1.3v1.3h-1.3zM350.9 123.0h1.3v1.3h-1.3zM372.7 103.8h1.3v1.3h-1.3zM354.9 120.0h1.3v1.3h-1.3zM379.1 99.6h1.3v1.3h-1.3zM380.3 97.0h1.3v1.3h-1.3zM343.9 131.2h1.3v1.3h-1.3zM344.8 126.0h1.3v1.3h-1.3zM344.5 128.5h1.3v1.3h-1.3zM382.6 94.6h1.3v1.3h-1.3zM367.5 109.9h1.3v1.3h-1.3zM369.1 106.8h1.3v1.3h-1.3zM389.2 88.3h1.3v1.3h-1.3zM380.9 95.2h1.3v1.3h-1.3zM383.1 94.7h1.3v1.3h-1.3zM359.5 116.7h1.3v1.3h-1.3zM347.2 125.7h1.3v1.3h-1.3zM358.1 119.5h1.3v1.3h-1.3zM387.0 90.1h1.3v1.3h-1.3zM343.2 132.3h1.3v1.3h-1.3zM353.5 120.4h1.3v1.3h-1.3zM367.9 110.8h1.3v1.3h-1.3zM386.8 90.4h1.3v1.3h-1.3zM350.2 124.0h1.3v1.3h-1.3zM360.9 115.2h1.3v1.3h-1.3zM357.7 121.2h1.3v1.3h-1.3zM353.0 121.8h1.3v1.3h-1.3zM365.2 110.9h1.3v1.3h-1.3zM366.5 112.3h1.3v1.3h-1.3zM362.2 112.8h1.3v1.3h-1.3zM383.6 92.9h1.3v1.3h-1.3zM383.9 94.0h1.3v1.3h-1.3zM368.0 110.4h1.3v1.3h-1.3zM358.0 120.6h1.3v1.3h-1.3zM376.4 101.1h1.3v1.3h-1.3zM384.0 93.6h1.3v1.3h-1.3zM370.0 106.9h1.3v1.3h-1.3zM384.2 93.5h1.3v1.3h-1.3zM343.8 126.7h1.3v1.3h-1.3zM391.0 86.5h1.3v1.3h-1.3zM357.0 116.9h1.3v1.3h-1.3zM367.9 110.0h1.3v1.3h-1.3zM372.9 106.1h1.3v1.3h-1.3zM347.5 126.4h1.3v1.3h-1.3zM391.7 85.1h1.3v1.3h-1.3zM362.4 112.6h1.3v1.3h-1.3zM370.5 105.0h1.3v1.3h-1.3zM346.1 128.9h1.3v1.3h-1.3zM348.4 127.8h1.3v1.3h-1.3zM374.0 102.7h1.3v1.3h-1.3zM394.8 82.3h1.3v1.3h-1.3zM355.4 121.7h1.3v1.3h-1.3zM343.1 132.6h1.3v1.3h-1.3zM390.5 86.8h1.3v1.3h-1.3zM355.7 119.8h1.3v1.3h-1.3zM350.7 123.6h1.3v1.3h-1.3zM385.3 91.4h1.3v1.3h-1.3zM390.9 85.8h1.3v1.3h-1.3zM368.4 109.2h1.3v1.3h-1.3zM352.4 122.2h1.3v1.3h-1.3zM377.3 100.8h1.3v1.3h-1.3zM374.8 104.6h1.3v1.3h-1.3zM388.3 88.9h1.3v1.3h-1.3zM363.2 114.7h1.3v1.3h-1.3zM353.5 121.1h1.3v1.3h-1.3zM374.1 101.4h1.3v1.3h-1.3zM382.3 96.0h1.3v1.3h-1.3zM372.5 104.6h1.3v1.3h-1.3zM390.8 85.7h1.3v1.3h-1.3zM386.2 92.0h1.3v1.3h-1.3zM384.1 92.8h1.3v1.3h-1.3zM368.3 107.5h1.3v1.3h-1.3zM373.0 105.8h1.3v1.3h-1.3zM394.9 82.1h1.3v1.3h-1.3zM363.4 113.0h1.3v1.3h-1.3zM376.6 102.8h1.3v1.3h-1.3zM367.4 109.2h1.3v1.3h-1.3zM375.4 103.4h1.3v1.3h-1.3zM353.5 122.7h1.3v1.3h-1.3zM386.8 90.7h1.3v1.3h-1.3zM369.9 106.0h1.3v1.3h-1.3zM372.6 106.5h1.3v1.3h-1.3zM342.9 132.9h1.3v1.3h-1.3zM343.4 127.7h1.3v1.3h-1.3zM348.2 123.9h1.3v1.3h-1.3zM375.8 102.5h1.3v1.3h-1.3zM359.4 116.3h1.3v1.3h-1.3zM388.4 89.8h1.3v1.3h-1.3zM363.5 116.1h1.3v1.3h-1.3zM346.5 126.2h1.3v1.3h-1.3zM364.0 114.0h1.3v1.3h-1.3zM379.2 99.5h1.3v1.3h-1.3zM363.0 115.0h1.3v1.3h-1.3zM387.1 89.3h1.3v1.3h-1.3zM371.5 104.9h1.3v1.3h-1.3z"/>
<path fill="#62767a" d="M403.5 90.4h1.2v1.2h-1.2zM398.8 98.6h1.2v1.2h-1.2zM395.0 103.2h1.2v1.2h-1.2zM397.0 97.5h1.2v1.2h-1.2zM388.4 110.1h1.2v1.2h-1.2zM361.9 142.1h1.2v1.2h-1.2zM353.9 143.9h1.2v1.2h-1.2zM364.7 141.1h1.2v1.2h-1.2zM374.3 126.2h1.2v1.2h-1.2zM389.9 114.4h1.2v1.2h-1.2zM406.2 83.7h1.2v1.2h-1.2zM373.9 136.9h1.2v1.2h-1.2zM352.6 154.0h1.2v1.2h-1.2zM398.4 95.2h1.2v1.2h-1.2zM359.3 152.4h1.2v1.2h-1.2zM383.9 119.0h1.2v1.2h-1.2zM403.7 88.2h1.2v1.2h-1.2zM367.9 133.7h1.2v1.2h-1.2zM380.5 123.4h1.2v1.2h-1.2zM382.9 116.0h1.2v1.2h-1.2zM408.3 79.7h1.2v1.2h-1.2zM403.4 87.0h1.2v1.2h-1.2zM352.5 145.2h1.2v1.2h-1.2zM407.0 82.7h1.2v1.2h-1.2zM390.3 114.7h1.2v1.2h-1.2zM392.5 110.5h1.2v1.2h-1.2zM368.7 132.0h1.2v1.2h-1.2zM408.7 78.6h1.2v1.2h-1.2zM383.4 120.4h1.2v1.2h-1.2zM352.8 154.5h1.2v1.2h-1.2zM401.8 93.3h1.2v1.2h-1.2zM365.4 140.4h1.2v1.2h-1.2zM364.2 141.8h1.2v1.2h-1.2zM359.1 144.0h1.2v1.2h-1.2zM391.3 105.4h1.2v1.2h-1.2zM404.2 88.6h1.2v1.2h-1.2zM365.6 142.0h1.2v1.2h-1.2zM408.2 79.6h1.2v1.2h-1.2zM381.3 120.9h1.2v1.2h-1.2zM407.9 79.8h1.2v1.2h-1.2zM371.7 124.6h1.2v1.2h-1.2zM372.8 135.8h1.2v1.2h-1.2zM387.1 106.2h1.2v1.2h-1.2zM391.2 104.4h1.2v1.2h-1.2zM392.4 102.6h1.2v1.2h-1.2zM396.8 101.6h1.2v1.2h-1.2zM358.8 146.3h1.2v1.2h-1.2zM381.4 116.4h1.2v1.2h-1.2zM400.4 91.0h1.2v1.2h-1.2zM409.0 77.4h1.2v1.2h-1.2zM385.0 109.3h1.2v1.2h-1.2zM384.8 110.0h1.2v1.2h-1.2zM358.1 151.4h1.2v1.2h-1.2zM399.6 96.0h1.2v1.2h-1.2zM368.0 140.2h1.2v1.2h-1.2zM401.8 88.5h1.2v1.2h-1.2zM376.4 129.8h1.2v1.2h-1.2zM377.8 118.0h1.2v1.2h-1.2zM406.4 82.3h1.2v1.2h-1.2zM397.7 96.4h1.2v1.2h-1.2zM365.7 129.5h1.2v1.2h-1.2zM364.6 135.2h1.2v1.2h-1.2zM401.7 90.8h1.2v1.2h-1.2zM356.9 143.2h1.2v1.2h-1.2zM407.9 81.4h1.2v1.2h-1.2zM386.9 111.3h1.2v1.2h-1.2zM362.4 132.4h1.2v1.2h-1.2zM379.6 123.6h1.2v1.2h-1.2zM375.4 134.4h1.2v1.2h-1.2zM393.1 99.1h1.2v1.2h-1.2zM387.3 108.2h1.2v1.2h-1.2zM363.5 148.7h1.2v1.2h-1.2zM408.3 79.6h1.2v1.2h-1.2zM397.8 96.2h1.2v1.2h-1.2zM379.9 129.5h1.2v1.2h-1.2zM369.1 141.7h1.2v1.2h-1.2zM381.2 120.4h1.2v1.2h-1.2zM376.7 118.5h1.2v1.2h-1.2zM400.1 96.3h1.2v1.2h-1.2zM366.4 130.1h1.2v1.2h-1.2zM407.7 81.6h1.2v1.2h-1.2zM371.9 127.0h1.2v1.2h-1.2zM368.2 129.8h1.2v1.2h-1.2zM354.6 154.1h1.2v1.2h-1.2zM395.8 97.5h1.2v1.2h-1.2zM397.4 95.0h1.2v1.2h-1.2zM383.3 112.8h1.2v1.2h-1.2zM356.3 147.7h1.2v1.2h-1.2zM354.1 155.2h1.2v1.2h-1.2zM383.0 123.7h1.2v1.2h-1.2zM363.8 131.5h1.2v1.2h-1.2zM397.7 94.8h1.2v1.2h-1.2zM360.6 134.3h1.2v1.2h-1.2zM404.2 87.0h1.2v1.2h-1.2zM400.1 95.6h1.2v1.2h-1.2zM360.8 149.8h1.2v1.2h-1.2zM392.0 106.6h1.2v1.2h-1.2zM354.3 149.7h1.2v1.2h-1.2zM358.8 143.3h1.2v1.2h-1.2zM359.8 137.3h1.2v1.2h-1.2zM372.0 128.1h1.2v1.2h-1.2zM378.0 116.0h1.2v1.2h-1.2zM366.4 142.2h1.2v1.2h-1.2zM370.4 130.3h1.2v1.2h-1.2zM377.3 130.8h1.2v1.2h-1.2zM365.0 137.4h1.2v1.2h-1.2zM403.7 89.3h1.2v1.2h-1.2zM408.2 80.8h1.2v1.2h-1.2zM357.3 139.4h1.2v1.2h-1.2zM356.6 149.8h1.2v1.2h-1.2zM365.3 144.3h1.2v1.2h-1.2zM384.4 118.4h1.2v1.2h-1.2zM384.3 115.5h1.2v1.2h-1.2zM370.4 131.6h1.2v1.2h-1.2zM396.8 95.3h1.2v1.2h-1.2zM391.3 108.0h1.2v1.2h-1.2zM377.3 116.6h1.2v1.2h-1.2zM399.6 96.2h1.2v1.2h-1.2zM402.1 93.7h1.2v1.2h-1.2zM373.5 131.7h1.2v1.2h-1.2zM398.0 99.9h1.2v1.2h-1.2zM355.1 149.5h1.2v1.2h-1.2zM372.8 121.6h1.2v1.2h-1.2zM355.8 143.2h1.2v1.2h-1.2zM374.4 124.4h1.2v1.2h-1.2zM406.4 82.5h1.2v1.2h-1.2zM384.7 124.2h1.2v1.2h-1.2zM363.9 131.9h1.2v1.2h-1.2zM354.5 152.8h1.2v1.2h-1.2zM377.8 134.3h1.2v1.2h-1.2zM359.9 141.6h1.2v1.2h-1.2zM351.5 144.7h1.2v1.2h-1.2zM369.0 125.7h1.2v1.2h-1.2zM377.6 120.7h1.2v1.2h-1.2zM381.8 116.3h1.2v1.2h-1.2zM406.1 84.2h1.2v1.2h-1.2zM384.1 126.0h1.2v1.2h-1.2zM384.5 119.6h1.2v1.2h-1.2zM390.5 105.0h1.2v1.2h-1.2zM381.7 122.9h1.2v1.2h-1.2zM366.8 130.5h1.2v1.2h-1.2zM408.4 79.5h1.2v1.2h-1.2zM356.6 144.2h1.2v1.2h-1.2zM365.4 134.7h1.2v1.2h-1.2zM378.8 128.2h1.2v1.2h-1.2zM354.6 154.0h1.2v1.2h-1.2zM389.7 107.7h1.2v1.2h-1.2zM405.7 84.3h1.2v1.2h-1.2zM376.7 120.2h1.2v1.2h-1.2zM375.4 125.9h1.2v1.2h-1.2zM379.9 119.9h1.2v1.2h-1.2zM388.1 119.1h1.2v1.2h-1.2zM389.2 108.7h1.2v1.2h-1.2zM400.3 94.4h1.2v1.2h-1.2zM398.4 92.6h1.2v1.2h-1.2zM405.1 88.1h1.2v1.2h-1.2zM354.8 143.1h1.2v1.2h-1.2zM368.2 132.6h1.2v1.2h-1.2zM357.2 140.3h1.2v1.2h-1.2zM362.7 135.6h1.2v1.2h-1.2zM405.1 84.8h1.2v1.2h-1.2zM396.6 97.0h1.2v1.2h-1.2zM371.2 125.3h1.2v1.2h-1.2zM400.5 94.7h1.2v1.2h-1.2zM353.6 157.0h1.2v1.2h-1.2zM406.0 84.7h1.2v1.2h-1.2zM355.9 140.1h1.2v1.2h-1.2zM366.4 145.9h1.2v1.2h-1.2zM367.5 142.5h1.2v1.2h-1.2zM394.6 100.2h1.2v1.2h-1.2zM390.0 113.3h1.2v1.2h-1.2zM359.9 152.3h1.2v1.2h-1.2zM379.3 121.0h1.2v1.2h-1.2zM398.3 96.9h1.2v1.2h-1.2zM389.3 115.2h1.2v1.2h-1.2zM400.5 90.5h1.2v1.2h-1.2zM393.2 100.3h1.2v1.2h-1.2zM408.5 78.6h1.2v1.2h-1.2zM379.6 117.5h1.2v1.2h-1.2zM358.3 143.2h1.2v1.2h-1.2zM359.6 152.5h1.2v1.2h-1.2zM355.9 153.3h1.2v1.2h-1.2zM389.5 105.1h1.2v1.2h-1.2zM366.5 131.8h1.2v1.2h-1.2zM394.4 98.8h1.2v1.2h-1.2zM354.4 142.5h1.2v1.2h-1.2zM357.2 144.0h1.2v1.2h-1.2zM394.6 103.9h1.2v1.2h-1.2zM354.4 153.8h1.2v1.2h-1.2zM393.3 109.5h1.2v1.2h-1.2zM393.1 108.9h1.2v1.2h-1.2zM378.7 115.5h1.2v1.2h-1.2zM361.4 134.4h1.2v1.2h-1.2zM398.1 100.1h1.2v1.2h-1.2zM390.3 105.3h1.2v1.2h-1.2zM386.7 108.3h1.2v1.2h-1.2zM380.2 129.7h1.2v1.2h-1.2zM388.1 114.5h1.2v1.2h-1.2zM402.0 90.4h1.2v1.2h-1.2zM399.4 91.9h1.2v1.2h-1.2zM360.5 134.4h1.2v1.2h-1.2zM380.0 113.7h1.2v1.2h-1.2zM356.1 153.4h1.2v1.2h-1.2zM367.4 141.9h1.2v1.2h-1.2z"/>
<path fill="#9cc4ba" d="M389.1 115.1h1.2v1.2h-1.2zM399.2 97.1h1.2v1.2h-1.2zM385.4 117.0h1.2v1.2h-1.2zM394.2 98.6h1.2v1.2h-1.2zM384.3 125.1h1.2v1.2h-1.2zM360.9 140.1h1.2v1.2h-1.2zM389.1 105.6h1.2v1.2h-1.2zM385.7 115.4h1.2v1.2h-1.2zM361.6 134.1h1.2v1.2h-1.2zM365.1 147.1h1.2v1.2h-1.2zM403.1 90.2h1.2v1.2h-1.2zM356.9 151.8h1.2v1.2h-1.2zM353.4 143.0h1.2v1.2h-1.2zM353.1 157.2h1.2v1.2h-1.2zM372.1 132.7h1.2v1.2h-1.2zM377.9 120.7h1.2v1.2h-1.2zM390.4 102.1h1.2v1.2h-1.2zM393.3 104.3h1.2v1.2h-1.2zM389.8 115.3h1.2v1.2h-1.2zM399.6 97.1h1.2v1.2h-1.2zM394.8 100.1h1.2v1.2h-1.2zM352.1 157.3h1.2v1.2h-1.2zM373.2 123.9h1.2v1.2h-1.2zM353.3 153.9h1.2v1.2h-1.2zM394.8 97.8h1.2v1.2h-1.2zM376.9 127.7h1.2v1.2h-1.2zM386.2 112.8h1.2v1.2h-1.2zM397.9 96.8h1.2v1.2h-1.2zM371.4 138.3h1.2v1.2h-1.2zM400.4 91.9h1.2v1.2h-1.2zM356.4 138.1h1.2v1.2h-1.2zM367.2 130.0h1.2v1.2h-1.2zM407.3 82.0h1.2v1.2h-1.2zM406.5 82.3h1.2v1.2h-1.2zM388.9 108.0h1.2v1.2h-1.2zM370.7 143.6h1.2v1.2h-1.2zM384.6 125.4h1.2v1.2h-1.2zM382.9 116.7h1.2v1.2h-1.2zM366.5 131.1h1.2v1.2h-1.2zM404.3 87.4h1.2v1.2h-1.2zM367.1 138.0h1.2v1.2h-1.2zM352.8 152.9h1.2v1.2h-1.2zM356.7 141.7h1.2v1.2h-1.2zM360.8 140.4h1.2v1.2h-1.2zM393.8 107.1h1.2v1.2h-1.2zM400.8 90.4h1.2v1.2h-1.2zM352.7 151.5h1.2v1.2h-1.2zM366.5 141.2h1.2v1.2h-1.2zM387.4 118.3h1.2v1.2h-1.2zM398.7 92.3h1.2v1.2h-1.2zM369.9 127.5h1.2v1.2h-1.2zM387.8 105.9h1.2v1.2h-1.2zM357.6 150.4h1.2v1.2h-1.2zM362.5 145.9h1.2v1.2h-1.2zM382.0 125.6h1.2v1.2h-1.2zM403.2 89.3h1.2v1.2h-1.2zM395.2 97.8h1.2v1.2h-1.2zM400.3 97.3h1.2v1.2h-1.2zM376.3 126.7h1.2v1.2h-1.2zM367.6 133.9h1.2v1.2h-1.2zM389.7 108.4h1.2v1.2h-1.2zM375.8 130.6h1.2v1.2h-1.2zM358.8 153.6h1.2v1.2h-1.2zM360.6 150.6h1.2v1.2h-1.2zM406.4 82.6h1.2v1.2h-1.2zM385.4 108.2h1.2v1.2h-1.2zM396.6 104.2h1.2v1.2h-1.2zM395.7 100.1h1.2v1.2h-1.2zM395.7 98.9h1.2v1.2h-1.2zM357.4 152.6h1.2v1.2h-1.2zM365.5 135.4h1.2v1.2h-1.2zM388.7 108.8h1.2v1.2h-1.2zM375.8 120.6h1.2v1.2h-1.2zM379.8 119.1h1.2v1.2h-1.2zM383.0 122.7h1.2v1.2h-1.2zM379.3 123.9h1.2v1.2h-1.2zM351.9 153.2h1.2v1.2h-1.2zM354.8 141.0h1.2v1.2h-1.2zM405.6 85.5h1.2v1.2h-1.2zM401.8 94.1h1.2v1.2h-1.2zM384.1 118.1h1.2v1.2h-1.2zM405.4 85.5h1.2v1.2h-1.2zM353.1 150.4h1.2v1.2h-1.2zM401.6 90.8h1.2v1.2h-1.2zM352.0 156.6h1.2v1.2h-1.2zM353.9 140.6h1.2v1.2h-1.2zM359.4 142.0h1.2v1.2h-1.2zM372.4 139.0h1.2v1.2h-1.2zM359.2 135.8h1.2v1.2h-1.2zM406.8 82.5h1.2v1.2h-1.2zM394.9 107.6h1.2v1.2h-1.2zM401.2 90.0h1.2v1.2h-1.2zM374.4 136.6h1.2v1.2h-1.2zM401.4 88.9h1.2v1.2h-1.2zM369.1 129.7h1.2v1.2h-1.2zM358.0 151.1h1.2v1.2h-1.2zM389.1 106.0h1.2v1.2h-1.2zM388.2 116.1h1.2v1.2h-1.2zM405.7 84.2h1.2v1.2h-1.2zM387.5 113.2h1.2v1.2h-1.2zM355.4 143.4h1.2v1.2h-1.2zM363.6 132.1h1.2v1.2h-1.2zM358.9 151.0h1.2v1.2h-1.2zM382.2 125.6h1.2v1.2h-1.2zM386.9 113.2h1.2v1.2h-1.2zM362.2 134.0h1.2v1.2h-1.2zM359.0 135.9h1.2v1.2h-1.2zM355.7 153.7h1.2v1.2h-1.2zM356.0 154.8h1.2v1.2h-1.2zM396.6 96.6h1.2v1.2h-1.2zM388.6 109.2h1.2v1.2h-1.2zM377.6 124.0h1.2v1.2h-1.2zM397.8 94.1h1.2v1.2h-1.2zM404.3 87.2h1.2v1.2h-1.2zM373.4 121.6h1.2v1.2h-1.2zM370.5 133.0h1.2v1.2h-1.2zM391.3 105.4h1.2v1.2h-1.2zM365.7 146.5h1.2v1.2h-1.2zM380.1 123.8h1.2v1.2h-1.2zM409.1 77.6h1.2v1.2h-1.2zM352.9 143.3h1.2v1.2h-1.2zM380.6 129.4h1.2v1.2h-1.2zM373.6 130.5h1.2v1.2h-1.2zM384.6 115.0h1.2v1.2h-1.2zM369.5 125.8h1.2v1.2h-1.2zM390.9 101.5h1.2v1.2h-1.2zM382.1 128.8h1.2v1.2h-1.2zM364.8 135.2h1.2v1.2h-1.2zM385.7 120.4h1.2v1.2h-1.2zM354.5 153.6h1.2v1.2h-1.2zM391.7 112.2h1.2v1.2h-1.2zM365.9 134.1h1.2v1.2h-1.2zM408.5 80.2h1.2v1.2h-1.2zM401.6 90.9h1.2v1.2h-1.2zM366.7 136.3h1.2v1.2h-1.2zM371.7 126.9h1.2v1.2h-1.2zM374.3 125.5h1.2v1.2h-1.2zM373.6 123.1h1.2v1.2h-1.2zM406.5 84.0h1.2v1.2h-1.2zM369.0 132.6h1.2v1.2h-1.2zM381.8 116.7h1.2v1.2h-1.2zM356.8 137.7h1.2v1.2h-1.2zM407.4 82.5h1.2v1.2h-1.2zM404.6 86.4h1.2v1.2h-1.2zM376.5 126.6h1.2v1.2h-1.2zM356.8 142.6h1.2v1.2h-1.2zM382.6 117.6h1.2v1.2h-1.2zM353.2 144.2h1.2v1.2h-1.2zM391.1 110.8h1.2v1.2h-1.2zM371.2 123.4h1.2v1.2h-1.2zM359.4 145.3h1.2v1.2h-1.2zM408.7 77.9h1.2v1.2h-1.2zM383.0 122.6h1.2v1.2h-1.2zM384.7 114.2h1.2v1.2h-1.2zM402.4 88.2h1.2v1.2h-1.2zM362.2 134.3h1.2v1.2h-1.2zM398.1 94.0h1.2v1.2h-1.2zM403.7 88.0h1.2v1.2h-1.2zM407.7 80.5h1.2v1.2h-1.2zM360.7 147.7h1.2v1.2h-1.2zM394.3 102.5h1.2v1.2h-1.2zM373.2 130.5h1.2v1.2h-1.2zM351.5 150.6h1.2v1.2h-1.2zM364.2 145.1h1.2v1.2h-1.2zM396.9 94.6h1.2v1.2h-1.2zM403.0 87.0h1.2v1.2h-1.2zM363.9 140.0h1.2v1.2h-1.2zM389.6 114.0h1.2v1.2h-1.2zM370.1 130.0h1.2v1.2h-1.2zM361.6 137.6h1.2v1.2h-1.2zM408.4 79.5h1.2v1.2h-1.2zM391.6 102.8h1.2v1.2h-1.2zM385.7 119.7h1.2v1.2h-1.2zM364.4 141.3h1.2v1.2h-1.2zM397.2 98.5h1.2v1.2h-1.2zM373.9 120.3h1.2v1.2h-1.2zM351.8 146.5h1.2v1.2h-1.2zM360.9 137.2h1.2v1.2h-1.2zM355.5 149.4h1.2v1.2h-1.2zM393.8 99.5h1.2v1.2h-1.2zM360.1 147.8h1.2v1.2h-1.2zM372.3 131.1h1.2v1.2h-1.2zM372.1 122.5h1.2v1.2h-1.2zM371.5 134.8h1.2v1.2h-1.2zM400.3 93.3h1.2v1.2h-1.2zM401.3 94.8h1.2v1.2h-1.2z"/>
<path fill="#c4e0da" d="M376.0 121.5h1.2v1.2h-1.2zM367.9 140.3h1.2v1.2h-1.2zM357.2 141.7h1.2v1.2h-1.2zM352.9 157.4h1.2v1.2h-1.2zM371.7 127.1h1.2v1.2h-1.2zM398.8 98.2h1.2v1.2h-1.2zM401.0 89.9h1.2v1.2h-1.2zM392.6 108.0h1.2v1.2h-1.2zM402.9 87.2h1.2v1.2h-1.2zM360.7 147.8h1.2v1.2h-1.2zM370.1 130.1h1.2v1.2h-1.2zM390.3 105.8h1.2v1.2h-1.2zM360.4 150.5h1.2v1.2h-1.2zM366.4 137.7h1.2v1.2h-1.2zM377.7 134.2h1.2v1.2h-1.2zM393.0 105.9h1.2v1.2h-1.2zM397.1 96.5h1.2v1.2h-1.2zM358.2 146.9h1.2v1.2h-1.2zM392.3 107.6h1.2v1.2h-1.2zM383.5 123.4h1.2v1.2h-1.2zM406.5 82.7h1.2v1.2h-1.2zM359.5 142.2h1.2v1.2h-1.2zM388.8 103.9h1.2v1.2h-1.2zM355.9 152.7h1.2v1.2h-1.2zM356.3 145.4h1.2v1.2h-1.2zM379.4 124.8h1.2v1.2h-1.2zM363.4 138.9h1.2v1.2h-1.2zM396.5 96.7h1.2v1.2h-1.2zM382.4 115.2h1.2v1.2h-1.2zM379.2 119.9h1.2v1.2h-1.2zM365.3 143.1h1.2v1.2h-1.2zM382.1 123.0h1.2v1.2h-1.2zM392.3 103.6h1.2v1.2h-1.2zM356.1 150.9h1.2v1.2h-1.2zM383.6 118.7h1.2v1.2h-1.2zM356.8 144.9h1.2v1.2h-1.2zM368.3 132.4h1.2v1.2h-1.2zM399.5 96.2h1.2v1.2h-1.2zM354.6 148.7h1.2v1.2h-1.2zM364.4 138.1h1.2v1.2h-1.2zM359.4 138.9h1.2v1.2h-1.2zM403.6 86.1h1.2v1.2h-1.2zM375.5 135.8h1.2v1.2h-1.2zM386.8 108.3h1.2v1.2h-1.2zM369.9 130.3h1.2v1.2h-1.2zM383.8 120.3h1.2v1.2h-1.2zM407.8 82.0h1.2v1.2h-1.2zM394.1 106.8h1.2v1.2h-1.2zM390.5 103.9h1.2v1.2h-1.2zM407.8 80.9h1.2v1.2h-1.2zM357.9 141.3h1.2v1.2h-1.2zM393.0 105.9h1.2v1.2h-1.2zM378.0 133.6h1.2v1.2h-1.2zM386.0 111.1h1.2v1.2h-1.2zM369.7 132.1h1.2v1.2h-1.2zM399.9 95.3h1.2v1.2h-1.2zM372.5 130.5h1.2v1.2h-1.2zM368.0 132.0h1.2v1.2h-1.2zM381.9 129.0h1.2v1.2h-1.2zM377.1 132.2h1.2v1.2h-1.2zM368.7 126.8h1.2v1.2h-1.2zM357.6 153.3h1.2v1.2h-1.2zM406.5 84.9h1.2v1.2h-1.2zM359.7 135.8h1.2v1.2h-1.2zM406.8 81.7h1.2v1.2h-1.2zM378.6 125.1h1.2v1.2h-1.2zM363.8 131.9h1.2v1.2h-1.2zM360.0 142.0h1.2v1.2h-1.2zM381.7 126.3h1.2v1.2h-1.2zM362.6 150.7h1.2v1.2h-1.2zM388.6 109.3h1.2v1.2h-1.2zM386.0 107.8h1.2v1.2h-1.2zM396.0 105.0h1.2v1.2h-1.2zM371.7 128.8h1.2v1.2h-1.2zM375.9 130.5h1.2v1.2h-1.2zM373.7 122.8h1.2v1.2h-1.2zM400.8 92.3h1.2v1.2h-1.2zM365.3 136.1h1.2v1.2h-1.2zM359.5 152.0h1.2v1.2h-1.2zM351.9 144.1h1.2v1.2h-1.2zM391.9 107.3h1.2v1.2h-1.2zM380.3 130.0h1.2v1.2h-1.2zM367.6 141.2h1.2v1.2h-1.2zM392.1 110.6h1.2v1.2h-1.2zM388.5 118.7h1.2v1.2h-1.2zM384.0 115.3h1.2v1.2h-1.2zM390.4 112.8h1.2v1.2h-1.2zM375.3 126.4h1.2v1.2h-1.2zM408.1 80.8h1.2v1.2h-1.2zM402.7 87.5h1.2v1.2h-1.2zM389.7 108.6h1.2v1.2h-1.2zM399.7 93.6h1.2v1.2h-1.2zM358.6 140.0h1.2v1.2h-1.2zM351.7 142.9h1.2v1.2h-1.2zM358.2 144.5h1.2v1.2h-1.2zM360.4 139.6h1.2v1.2h-1.2zM362.2 144.8h1.2v1.2h-1.2zM355.0 140.9h1.2v1.2h-1.2zM406.7 84.1h1.2v1.2h-1.2zM357.6 139.5h1.2v1.2h-1.2zM364.1 130.6h1.2v1.2h-1.2zM385.5 115.5h1.2v1.2h-1.2zM360.7 149.7h1.2v1.2h-1.2zM379.5 118.0h1.2v1.2h-1.2zM367.9 146.4h1.2v1.2h-1.2zM376.2 121.5h1.2v1.2h-1.2zM388.5 116.7h1.2v1.2h-1.2zM407.7 81.3h1.2v1.2h-1.2zM391.4 105.6h1.2v1.2h-1.2zM405.3 86.9h1.2v1.2h-1.2zM369.4 145.3h1.2v1.2h-1.2zM408.1 80.2h1.2v1.2h-1.2zM396.6 98.6h1.2v1.2h-1.2zM378.9 126.5h1.2v1.2h-1.2zM367.7 126.5h1.2v1.2h-1.2zM389.1 106.6h1.2v1.2h-1.2zM359.5 141.0h1.2v1.2h-1.2zM362.0 133.3h1.2v1.2h-1.2zM358.0 144.4h1.2v1.2h-1.2zM390.4 111.0h1.2v1.2h-1.2zM388.3 111.6h1.2v1.2h-1.2zM352.6 150.9h1.2v1.2h-1.2zM392.3 106.4h1.2v1.2h-1.2zM405.5 84.8h1.2v1.2h-1.2zM401.1 93.3h1.2v1.2h-1.2zM390.9 108.9h1.2v1.2h-1.2zM402.7 88.8h1.2v1.2h-1.2zM388.9 111.2h1.2v1.2h-1.2zM379.8 124.7h1.2v1.2h-1.2zM369.9 130.1h1.2v1.2h-1.2zM393.3 104.9h1.2v1.2h-1.2zM375.3 124.7h1.2v1.2h-1.2zM377.3 127.9h1.2v1.2h-1.2zM402.2 90.7h1.2v1.2h-1.2zM370.7 124.1h1.2v1.2h-1.2zM375.1 134.0h1.2v1.2h-1.2zM378.9 131.8h1.2v1.2h-1.2zM375.5 136.4h1.2v1.2h-1.2zM356.6 150.1h1.2v1.2h-1.2zM387.5 117.3h1.2v1.2h-1.2zM376.7 126.5h1.2v1.2h-1.2zM363.4 132.7h1.2v1.2h-1.2zM409.4 76.4h1.2v1.2h-1.2zM364.8 147.2h1.2v1.2h-1.2zM373.5 134.0h1.2v1.2h-1.2zM399.3 92.9h1.2v1.2h-1.2zM354.3 155.1h1.2v1.2h-1.2zM366.0 129.6h1.2v1.2h-1.2zM362.0 139.9h1.2v1.2h-1.2zM354.4 142.1h1.2v1.2h-1.2zM408.8 78.1h1.2v1.2h-1.2zM381.9 121.5h1.2v1.2h-1.2zM401.9 92.4h1.2v1.2h-1.2zM381.7 114.2h1.2v1.2h-1.2zM352.0 145.9h1.2v1.2h-1.2zM355.6 150.0h1.2v1.2h-1.2zM403.2 90.3h1.2v1.2h-1.2zM379.3 117.8h1.2v1.2h-1.2zM405.0 87.0h1.2v1.2h-1.2zM387.6 117.5h1.2v1.2h-1.2zM365.1 136.0h1.2v1.2h-1.2zM392.3 109.0h1.2v1.2h-1.2zM369.3 137.2h1.2v1.2h-1.2zM369.5 139.1h1.2v1.2h-1.2zM366.7 130.1h1.2v1.2h-1.2zM357.2 145.4h1.2v1.2h-1.2zM369.2 134.7h1.2v1.2h-1.2zM397.4 96.0h1.2v1.2h-1.2zM382.7 119.3h1.2v1.2h-1.2zM406.7 84.4h1.2v1.2h-1.2z"/>
<path fill="#b2d6cc" d="M378.2 117.3h1.3v1.3h-1.3zM378.0 116.0h1.3v1.3h-1.3zM393.6 98.2h1.3v1.3h-1.3zM371.4 125.6h1.3v1.3h-1.3zM353.0 144.7h1.3v1.3h-1.3zM374.1 120.7h1.3v1.3h-1.3zM360.0 136.0h1.3v1.3h-1.3zM381.8 114.6h1.3v1.3h-1.3zM379.4 116.7h1.3v1.3h-1.3zM398.3 92.2h1.3v1.3h-1.3zM374.1 122.7h1.3v1.3h-1.3zM399.6 91.1h1.3v1.3h-1.3zM387.8 105.2h1.3v1.3h-1.3zM378.3 118.2h1.3v1.3h-1.3zM354.9 140.1h1.3v1.3h-1.3zM365.2 131.5h1.3v1.3h-1.3zM368.2 126.3h1.3v1.3h-1.3zM392.0 100.5h1.3v1.3h-1.3zM395.0 96.7h1.3v1.3h-1.3zM352.7 144.2h1.3v1.3h-1.3zM363.1 134.6h1.3v1.3h-1.3zM377.5 117.7h1.3v1.3h-1.3zM372.2 123.6h1.3v1.3h-1.3zM366.3 127.8h1.3v1.3h-1.3zM351.7 145.0h1.3v1.3h-1.3zM388.8 105.6h1.3v1.3h-1.3zM381.3 113.9h1.3v1.3h-1.3zM370.5 126.3h1.3v1.3h-1.3zM385.5 108.4h1.3v1.3h-1.3zM353.7 142.1h1.3v1.3h-1.3zM398.5 92.1h1.3v1.3h-1.3zM363.7 133.1h1.3v1.3h-1.3zM365.7 131.4h1.3v1.3h-1.3zM355.0 142.9h1.3v1.3h-1.3zM369.6 125.6h1.3v1.3h-1.3zM358.9 137.2h1.3v1.3h-1.3zM356.2 138.8h1.3v1.3h-1.3zM396.0 96.4h1.3v1.3h-1.3zM392.4 101.1h1.3v1.3h-1.3zM399.7 90.9h1.3v1.3h-1.3zM370.4 124.5h1.3v1.3h-1.3zM376.4 118.4h1.3v1.3h-1.3z"/>
<path fill="#8cbcb0" d="M387.2 106.4h1.3v1.3h-1.3zM357.8 137.9h1.3v1.3h-1.3zM362.4 133.4h1.3v1.3h-1.3zM364.2 130.8h1.3v1.3h-1.3zM356.7 141.3h1.3v1.3h-1.3zM380.2 114.1h1.3v1.3h-1.3zM376.1 118.2h1.3v1.3h-1.3zM358.7 136.9h1.3v1.3h-1.3zM352.4 143.9h1.3v1.3h-1.3zM381.3 113.9h1.3v1.3h-1.3zM355.4 142.7h1.3v1.3h-1.3zM386.5 107.4h1.3v1.3h-1.3zM374.9 120.3h1.3v1.3h-1.3zM399.0 91.8h1.3v1.3h-1.3zM354.5 143.8h1.3v1.3h-1.3zM390.6 102.2h1.3v1.3h-1.3zM367.9 129.7h1.3v1.3h-1.3zM363.4 134.0h1.3v1.3h-1.3zM383.9 110.3h1.3v1.3h-1.3zM354.5 141.0h1.3v1.3h-1.3zM399.3 91.4h1.3v1.3h-1.3zM399.2 91.4h1.3v1.3h-1.3zM382.8 113.1h1.3v1.3h-1.3zM390.7 102.0h1.3v1.3h-1.3zM401.0 89.0h1.3v1.3h-1.3zM357.7 140.4h1.3v1.3h-1.3zM353.6 143.7h1.3v1.3h-1.3zM351.9 143.9h1.3v1.3h-1.3zM358.9 136.2h1.3v1.3h-1.3zM398.0 93.2h1.3v1.3h-1.3zM358.2 137.6h1.3v1.3h-1.3zM376.2 118.2h1.3v1.3h-1.3zM387.6 107.8h1.3v1.3h-1.3zM355.8 139.6h1.3v1.3h-1.3zM375.2 121.4h1.3v1.3h-1.3zM352.7 143.8h1.3v1.3h-1.3zM385.3 110.2h1.3v1.3h-1.3zM378.7 117.2h1.3v1.3h-1.3zM355.1 139.4h1.3v1.3h-1.3zM367.5 126.9h1.3v1.3h-1.3zM380.0 113.9h1.3v1.3h-1.3zM398.3 93.0h1.3v1.3h-1.3zM357.7 137.9h1.3v1.3h-1.3zM377.3 117.7h1.3v1.3h-1.3zM356.8 140.3h1.3v1.3h-1.3zM379.3 116.4h1.3v1.3h-1.3zM365.6 131.5h1.3v1.3h-1.3zM357.7 138.5h1.3v1.3h-1.3zM381.5 113.7h1.3v1.3h-1.3zM365.6 130.4h1.3v1.3h-1.3zM396.6 94.5h1.3v1.3h-1.3zM385.9 108.9h1.3v1.3h-1.3zM393.6 99.7h1.3v1.3h-1.3zM360.1 136.8h1.3v1.3h-1.3zM374.2 121.8h1.3v1.3h-1.3zM384.2 110.1h1.3v1.3h-1.3zM391.4 101.3h1.3v1.3h-1.3zM391.9 100.6h1.3v1.3h-1.3zM392.3 99.8h1.3v1.3h-1.3zM367.7 127.8h1.3v1.3h-1.3zM376.9 117.6h1.3v1.3h-1.3zM382.5 111.6h1.3v1.3h-1.3zM397.5 93.6h1.3v1.3h-1.3zM355.9 138.5h1.3v1.3h-1.3zM390.3 101.9h1.3v1.3h-1.3zM383.1 110.6h1.3v1.3h-1.3zM373.9 121.6h1.3v1.3h-1.3zM396.1 95.5h1.3v1.3h-1.3zM385.0 111.3h1.3v1.3h-1.3zM393.3 99.2h1.3v1.3h-1.3zM361.5 133.4h1.3v1.3h-1.3zM357.2 137.3h1.3v1.3h-1.3z"/>
<path fill="#3e5652" d="M372.4 122.5h1.3v1.3h-1.3zM398.9 91.9h1.3v1.3h-1.3zM370.2 124.4h1.3v1.3h-1.3zM392.1 101.7h1.3v1.3h-1.3zM393.0 100.2h1.3v1.3h-1.3zM372.5 125.0h1.3v1.3h-1.3zM374.7 120.6h1.3v1.3h-1.3zM371.7 125.6h1.3v1.3h-1.3zM384.9 110.3h1.3v1.3h-1.3zM381.7 112.9h1.3v1.3h-1.3zM386.1 108.0h1.3v1.3h-1.3zM390.8 103.3h1.3v1.3h-1.3zM385.1 108.5h1.3v1.3h-1.3zM371.5 123.2h1.3v1.3h-1.3zM379.4 114.2h1.3v1.3h-1.3zM356.4 140.7h1.3v1.3h-1.3zM392.1 101.2h1.3v1.3h-1.3zM376.4 117.6h1.3v1.3h-1.3zM387.1 106.7h1.3v1.3h-1.3zM396.5 94.6h1.3v1.3h-1.3zM368.9 127.3h1.3v1.3h-1.3zM352.0 142.8h1.3v1.3h-1.3zM384.9 110.8h1.3v1.3h-1.3zM395.9 96.4h1.3v1.3h-1.3zM400.4 89.7h1.3v1.3h-1.3zM394.5 97.1h1.3v1.3h-1.3zM375.8 118.2h1.3v1.3h-1.3zM390.4 102.6h1.3v1.3h-1.3zM383.1 111.0h1.3v1.3h-1.3zM353.2 145.1h1.3v1.3h-1.3zM399.4 91.2h1.3v1.3h-1.3zM385.4 107.8h1.3v1.3h-1.3zM367.6 128.5h1.3v1.3h-1.3zM394.1 98.4h1.3v1.3h-1.3zM364.4 132.8h1.3v1.3h-1.3zM356.8 137.5h1.3v1.3h-1.3zM372.0 125.6h1.3v1.3h-1.3zM366.8 127.4h1.3v1.3h-1.3zM377.2 118.7h1.3v1.3h-1.3zM365.2 129.0h1.3v1.3h-1.3zM355.3 140.6h1.3v1.3h-1.3zM355.3 141.6h1.3v1.3h-1.3zM380.4 113.3h1.3v1.3h-1.3zM364.9 130.8h1.3v1.3h-1.3zM389.7 104.0h1.3v1.3h-1.3zM375.7 121.2h1.3v1.3h-1.3zM368.2 127.9h1.3v1.3h-1.3zM359.9 137.5h1.3v1.3h-1.3zM392.8 99.4h1.3v1.3h-1.3zM358.5 138.3h1.3v1.3h-1.3zM390.3 103.1h1.3v1.3h-1.3zM354.1 141.1h1.3v1.3h-1.3zM385.3 108.0h1.3v1.3h-1.3zM368.4 127.8h1.3v1.3h-1.3zM381.2 113.4h1.3v1.3h-1.3zM361.7 133.5h1.3v1.3h-1.3zM361.8 133.6h1.3v1.3h-1.3z"/>
<polygon fill="#141414" points="340.3,136.4 343.3,135.0 350.0,130.1 360.3,121.6 370.6,111.6 380.3,101.6 388.3,92.6 395.8,83.6 401.0,78.1 406.0,74.1 410.0,71.6 410.0,75.4 409.0,78.4 406.0,83.4 401.0,89.4 393.7,98.4 385.0,108.4 375.8,118.4 364.0,130.4 352.3,142.4 349.3,147.0 340.3,147.0"/>
<path fill="#1a1a1a" fill-opacity="0.75" d="M401.9 88.2h1.4v1.4h-1.4zM372.0 121.7h1.4v1.4h-1.4zM369.1 110.9h1.4v1.4h-1.4zM389.0 103.4h1.4v1.4h-1.4zM353.8 141.7h1.4v1.4h-1.4zM367.2 111.8h1.4v1.4h-1.4zM392.6 98.4h1.4v1.4h-1.4zM369.5 109.3h1.4v1.4h-1.4zM394.6 81.9h1.4v1.4h-1.4zM362.4 117.4h1.4v1.4h-1.4zM385.9 91.4h1.4v1.4h-1.4zM387.6 92.5h1.4v1.4h-1.4zM405.6 82.0h1.4v1.4h-1.4zM401.6 77.0h1.4v1.4h-1.4zM401.3 88.6h1.4v1.4h-1.4zM398.3 90.8h1.4v1.4h-1.4zM354.2 139.5h1.4v1.4h-1.4zM352.3 142.9h1.4v1.4h-1.4zM354.3 140.4h1.4v1.4h-1.4zM344.3 132.3h1.4v1.4h-1.4zM362.4 117.6h1.4v1.4h-1.4zM347.4 131.1h1.4v1.4h-1.4zM367.3 126.9h1.4v1.4h-1.4zM346.0 143.5h1.4v1.4h-1.4zM390.1 86.7h1.4v1.4h-1.4zM404.2 84.5h1.4v1.4h-1.4zM395.5 95.1h1.4v1.4h-1.4zM350.2 129.0h1.4v1.4h-1.4zM392.4 97.9h1.4v1.4h-1.4zM395.0 97.3h1.4v1.4h-1.4zM358.3 121.2h1.4v1.4h-1.4zM377.5 103.3h1.4v1.4h-1.4zM358.8 121.6h1.4v1.4h-1.4zM382.0 97.1h1.4v1.4h-1.4zM372.0 122.9h1.4v1.4h-1.4zM381.1 111.5h1.4v1.4h-1.4zM360.9 119.9h1.4v1.4h-1.4zM348.6 142.2h1.4v1.4h-1.4zM362.0 132.7h1.4v1.4h-1.4zM387.9 89.4h1.4v1.4h-1.4zM348.0 130.6h1.4v1.4h-1.4zM402.9 75.7h1.4v1.4h-1.4zM395.3 81.7h1.4v1.4h-1.4zM367.9 127.1h1.4v1.4h-1.4zM389.9 86.9h1.4v1.4h-1.4zM381.5 110.9h1.4v1.4h-1.4zM383.6 108.7h1.4v1.4h-1.4zM366.9 126.8h1.4v1.4h-1.4zM360.4 118.6h1.4v1.4h-1.4zM363.3 114.8h1.4v1.4h-1.4zM362.3 131.8h1.4v1.4h-1.4zM395.8 80.1h1.4v1.4h-1.4zM345.8 143.2h1.4v1.4h-1.4zM362.0 117.6h1.4v1.4h-1.4zM344.1 131.5h1.4v1.4h-1.4zM360.0 119.4h1.4v1.4h-1.4zM364.6 115.1h1.4v1.4h-1.4zM408.9 70.2h1.4v1.4h-1.4zM397.0 81.5h1.4v1.4h-1.4zM360.0 134.4h1.4v1.4h-1.4zM359.0 136.3h1.4v1.4h-1.4zM395.2 94.8h1.4v1.4h-1.4zM386.0 93.9h1.4v1.4h-1.4zM399.1 77.3h1.4v1.4h-1.4zM397.1 94.8h1.4v1.4h-1.4zM395.6 95.2h1.4v1.4h-1.4zM356.3 136.4h1.4v1.4h-1.4zM365.9 127.4h1.4v1.4h-1.4zM399.2 77.7h1.4v1.4h-1.4zM370.4 123.2h1.4v1.4h-1.4zM384.3 108.8h1.4v1.4h-1.4zM389.3 90.0h1.4v1.4h-1.4zM386.3 105.1h1.4v1.4h-1.4zM355.1 138.5h1.4v1.4h-1.4zM355.2 137.7h1.4v1.4h-1.4zM351.4 126.1h1.4v1.4h-1.4zM356.2 138.4h1.4v1.4h-1.4zM400.1 90.8h1.4v1.4h-1.4zM348.8 128.8h1.4v1.4h-1.4zM357.7 137.8h1.4v1.4h-1.4zM382.7 111.0h1.4v1.4h-1.4zM373.1 106.8h1.4v1.4h-1.4zM404.5 85.6h1.4v1.4h-1.4zM350.4 143.9h1.4v1.4h-1.4zM363.7 115.8h1.4v1.4h-1.4zM387.3 90.7h1.4v1.4h-1.4zM368.5 111.7h1.4v1.4h-1.4zM383.5 94.1h1.4v1.4h-1.4zM373.9 119.8h1.4v1.4h-1.4zM380.7 113.8h1.4v1.4h-1.4zM390.9 87.0h1.4v1.4h-1.4zM406.5 80.4h1.4v1.4h-1.4zM390.4 100.8h1.4v1.4h-1.4zM372.4 107.2h1.4v1.4h-1.4zM403.8 74.0h1.4v1.4h-1.4zM386.4 105.5h1.4v1.4h-1.4zM366.1 127.1h1.4v1.4h-1.4zM385.1 106.7h1.4v1.4h-1.4zM363.3 132.2h1.4v1.4h-1.4zM358.7 121.3h1.4v1.4h-1.4zM346.7 131.7h1.4v1.4h-1.4zM390.8 99.8h1.4v1.4h-1.4zM364.4 130.2h1.4v1.4h-1.4zM394.0 84.4h1.4v1.4h-1.4zM402.3 75.8h1.4v1.4h-1.4zM385.9 93.4h1.4v1.4h-1.4zM401.4 75.6h1.4v1.4h-1.4zM348.3 144.0h1.4v1.4h-1.4zM394.4 95.6h1.4v1.4h-1.4zM392.6 84.8h1.4v1.4h-1.4zM352.1 140.9h1.4v1.4h-1.4zM406.4 72.0h1.4v1.4h-1.4zM374.1 118.6h1.4v1.4h-1.4zM405.6 83.5h1.4v1.4h-1.4zM355.3 139.9h1.4v1.4h-1.4zM380.7 99.0h1.4v1.4h-1.4zM387.0 105.5h1.4v1.4h-1.4zM361.6 117.7h1.4v1.4h-1.4zM364.3 116.5h1.4v1.4h-1.4zM351.9 141.8h1.4v1.4h-1.4zM403.6 85.2h1.4v1.4h-1.4zM364.6 129.6h1.4v1.4h-1.4zM407.1 71.2h1.4v1.4h-1.4zM374.6 104.6h1.4v1.4h-1.4zM363.3 131.2h1.4v1.4h-1.4zM353.2 139.9h1.4v1.4h-1.4zM368.1 126.7h1.4v1.4h-1.4zM353.0 125.5h1.4v1.4h-1.4zM357.2 121.0h1.4v1.4h-1.4zM359.2 134.5h1.4v1.4h-1.4zM358.0 136.6h1.4v1.4h-1.4zM387.3 90.7h1.4v1.4h-1.4zM393.6 98.1h1.4v1.4h-1.4zM385.5 92.3h1.4v1.4h-1.4zM376.8 117.2h1.4v1.4h-1.4zM350.7 128.0h1.4v1.4h-1.4zM400.0 75.7h1.4v1.4h-1.4zM402.3 74.0h1.4v1.4h-1.4zM367.1 126.7h1.4v1.4h-1.4zM345.9 130.9h1.4v1.4h-1.4zM358.2 120.6h1.4v1.4h-1.4zM373.5 120.3h1.4v1.4h-1.4zM350.2 126.7h1.4v1.4h-1.4zM391.4 85.0h1.4v1.4h-1.4zM354.5 125.1h1.4v1.4h-1.4zM396.2 81.9h1.4v1.4h-1.4zM377.6 115.4h1.4v1.4h-1.4zM398.3 78.0h1.4v1.4h-1.4zM400.3 88.4h1.4v1.4h-1.4zM388.3 103.3h1.4v1.4h-1.4zM361.4 132.2h1.4v1.4h-1.4zM363.7 128.8h1.4v1.4h-1.4zM404.2 73.3h1.4v1.4h-1.4zM347.2 141.5h1.4v1.4h-1.4zM396.5 94.7h1.4v1.4h-1.4zM345.7 141.5h1.4v1.4h-1.4zM392.1 98.8h1.4v1.4h-1.4zM406.2 82.5h1.4v1.4h-1.4zM392.9 100.2h1.4v1.4h-1.4zM396.1 94.9h1.4v1.4h-1.4zM406.6 73.0h1.4v1.4h-1.4zM359.6 119.8h1.4v1.4h-1.4zM398.1 92.9h1.4v1.4h-1.4zM351.8 141.5h1.4v1.4h-1.4zM346.2 129.9h1.4v1.4h-1.4zM368.4 126.8h1.4v1.4h-1.4zM360.6 133.1h1.4v1.4h-1.4zM389.2 90.1h1.4v1.4h-1.4zM402.9 87.1h1.4v1.4h-1.4zM386.3 91.3h1.4v1.4h-1.4zM359.9 121.2h1.4v1.4h-1.4zM366.2 113.6h1.4v1.4h-1.4zM360.8 118.3h1.4v1.4h-1.4zM396.7 94.0h1.4v1.4h-1.4zM374.5 103.9h1.4v1.4h-1.4zM402.0 74.5h1.4v1.4h-1.4zM396.9 92.4h1.4v1.4h-1.4zM382.6 110.2h1.4v1.4h-1.4zM402.1 86.4h1.4v1.4h-1.4zM345.4 129.8h1.4v1.4h-1.4zM351.5 143.4h1.4v1.4h-1.4zM382.8 108.8h1.4v1.4h-1.4zM354.5 140.6h1.4v1.4h-1.4zM397.1 78.9h1.4v1.4h-1.4zM368.1 112.8h1.4v1.4h-1.4zM369.1 109.9h1.4v1.4h-1.4zM404.3 74.1h1.4v1.4h-1.4zM384.4 108.2h1.4v1.4h-1.4zM370.2 110.2h1.4v1.4h-1.4zM394.4 97.0h1.4v1.4h-1.4zM359.2 133.5h1.4v1.4h-1.4zM403.0 75.6h1.4v1.4h-1.4zM389.2 88.7h1.4v1.4h-1.4zM343.6 143.1h1.4v1.4h-1.4zM363.3 117.8h1.4v1.4h-1.4zM364.8 114.4h1.4v1.4h-1.4zM394.8 95.9h1.4v1.4h-1.4zM383.1 96.3h1.4v1.4h-1.4zM402.3 73.8h1.4v1.4h-1.4zM386.2 105.4h1.4v1.4h-1.4zM371.1 109.8h1.4v1.4h-1.4zM392.2 84.3h1.4v1.4h-1.4zM398.1 77.3h1.4v1.4h-1.4zM392.9 99.5h1.4v1.4h-1.4zM376.2 104.7h1.4v1.4h-1.4zM405.0 82.6h1.4v1.4h-1.4zM397.1 92.2h1.4v1.4h-1.4zM406.4 72.1h1.4v1.4h-1.4zM345.0 130.0h1.4v1.4h-1.4zM400.6 89.8h1.4v1.4h-1.4zM354.4 139.4h1.4v1.4h-1.4zM377.2 115.5h1.4v1.4h-1.4zM352.5 142.0h1.4v1.4h-1.4zM358.6 120.7h1.4v1.4h-1.4zM360.4 133.1h1.4v1.4h-1.4zM343.4 141.3h1.4v1.4h-1.4zM397.8 92.1h1.4v1.4h-1.4zM386.7 90.6h1.4v1.4h-1.4zM409.3 68.7h1.4v1.4h-1.4zM370.8 109.0h1.4v1.4h-1.4zM399.2 90.6h1.4v1.4h-1.4zM364.0 130.6h1.4v1.4h-1.4zM406.8 81.7h1.4v1.4h-1.4zM401.4 88.8h1.4v1.4h-1.4zM384.3 107.8h1.4v1.4h-1.4zM396.7 93.4h1.4v1.4h-1.4zM348.8 127.3h1.4v1.4h-1.4zM373.9 104.9h1.4v1.4h-1.4zM380.2 99.5h1.4v1.4h-1.4zM354.6 138.9h1.4v1.4h-1.4zM379.3 115.6h1.4v1.4h-1.4zM398.9 78.6h1.4v1.4h-1.4zM358.7 119.4h1.4v1.4h-1.4zM360.8 131.7h1.4v1.4h-1.4zM366.1 128.8h1.4v1.4h-1.4zM358.1 135.9h1.4v1.4h-1.4zM406.1 70.4h1.4v1.4h-1.4zM362.7 131.4h1.4v1.4h-1.4zM404.9 74.2h1.4v1.4h-1.4zM404.5 73.6h1.4v1.4h-1.4zM390.4 88.0h1.4v1.4h-1.4zM380.0 99.6h1.4v1.4h-1.4zM381.0 96.9h1.4v1.4h-1.4zM403.8 84.4h1.4v1.4h-1.4zM380.8 112.2h1.4v1.4h-1.4zM372.0 122.1h1.4v1.4h-1.4zM358.4 134.7h1.4v1.4h-1.4zM405.2 73.8h1.4v1.4h-1.4zM349.0 142.3h1.4v1.4h-1.4zM393.7 83.6h1.4v1.4h-1.4zM368.4 125.4h1.4v1.4h-1.4zM381.5 98.8h1.4v1.4h-1.4zM361.2 119.8h1.4v1.4h-1.4zM343.6 133.1h1.4v1.4h-1.4zM386.2 93.7h1.4v1.4h-1.4zM390.2 101.7h1.4v1.4h-1.4zM404.8 71.7h1.4v1.4h-1.4zM400.1 76.7h1.4v1.4h-1.4zM352.6 140.7h1.4v1.4h-1.4zM365.6 114.2h1.4v1.4h-1.4zM394.3 96.9h1.4v1.4h-1.4zM356.6 123.4h1.4v1.4h-1.4zM356.4 138.8h1.4v1.4h-1.4zM400.6 75.1h1.4v1.4h-1.4zM370.9 124.5h1.4v1.4h-1.4zM405.2 85.2h1.4v1.4h-1.4zM380.2 112.9h1.4v1.4h-1.4zM368.3 126.9h1.4v1.4h-1.4zM368.8 124.7h1.4v1.4h-1.4zM377.8 114.6h1.4v1.4h-1.4zM375.5 103.7h1.4v1.4h-1.4zM407.0 79.2h1.4v1.4h-1.4zM352.1 143.8h1.4v1.4h-1.4zM363.8 115.5h1.4v1.4h-1.4zM344.5 141.4h1.4v1.4h-1.4zM347.5 143.2h1.4v1.4h-1.4zM396.6 94.4h1.4v1.4h-1.4zM363.2 130.0h1.4v1.4h-1.4zM381.6 97.1h1.4v1.4h-1.4zM370.6 107.7h1.4v1.4h-1.4zM395.9 79.5h1.4v1.4h-1.4zM403.6 72.4h1.4v1.4h-1.4zM349.0 129.3h1.4v1.4h-1.4zM400.0 89.5h1.4v1.4h-1.4zM349.7 143.2h1.4v1.4h-1.4zM343.3 141.2h1.4v1.4h-1.4zM347.3 141.9h1.4v1.4h-1.4zM398.6 91.9h1.4v1.4h-1.4zM346.6 142.5h1.4v1.4h-1.4zM381.8 112.0h1.4v1.4h-1.4zM348.2 142.5h1.4v1.4h-1.4zM363.3 131.2h1.4v1.4h-1.4zM382.1 97.7h1.4v1.4h-1.4zM354.5 138.9h1.4v1.4h-1.4zM401.7 76.2h1.4v1.4h-1.4zM393.8 82.7h1.4v1.4h-1.4zM387.5 106.6h1.4v1.4h-1.4zM367.1 111.9h1.4v1.4h-1.4zM388.8 89.8h1.4v1.4h-1.4zM384.2 95.0h1.4v1.4h-1.4zM386.6 93.2h1.4v1.4h-1.4zM382.7 97.5h1.4v1.4h-1.4zM350.0 141.8h1.4v1.4h-1.4zM347.6 130.3h1.4v1.4h-1.4zM368.3 112.1h1.4v1.4h-1.4zM408.6 69.8h1.4v1.4h-1.4zM349.0 128.6h1.4v1.4h-1.4zM385.2 92.0h1.4v1.4h-1.4zM360.6 119.9h1.4v1.4h-1.4zM398.7 92.6h1.4v1.4h-1.4zM380.8 111.1h1.4v1.4h-1.4zM377.7 101.4h1.4v1.4h-1.4zM375.5 103.2h1.4v1.4h-1.4zM348.9 141.3h1.4v1.4h-1.4zM381.1 97.0h1.4v1.4h-1.4zM391.2 102.0h1.4v1.4h-1.4zM345.0 132.7h1.4v1.4h-1.4zM390.5 103.1h1.4v1.4h-1.4zM386.6 107.0h1.4v1.4h-1.4zM368.8 125.2h1.4v1.4h-1.4zM402.9 74.6h1.4v1.4h-1.4zM374.9 105.4h1.4v1.4h-1.4zM345.3 130.5h1.4v1.4h-1.4zM387.6 90.4h1.4v1.4h-1.4zM355.2 124.7h1.4v1.4h-1.4zM408.1 71.1h1.4v1.4h-1.4zM344.7 132.7h1.4v1.4h-1.4zM390.9 85.5h1.4v1.4h-1.4zM399.8 75.6h1.4v1.4h-1.4zM390.4 100.7h1.4v1.4h-1.4zM367.2 112.2h1.4v1.4h-1.4zM367.9 125.0h1.4v1.4h-1.4zM400.0 89.4h1.4v1.4h-1.4zM366.2 113.3h1.4v1.4h-1.4zM376.7 116.0h1.4v1.4h-1.4zM365.8 113.0h1.4v1.4h-1.4zM349.9 128.3h1.4v1.4h-1.4zM352.0 141.4h1.4v1.4h-1.4zM363.7 128.9h1.4v1.4h-1.4zM371.7 109.5h1.4v1.4h-1.4zM356.8 123.3h1.4v1.4h-1.4zM356.0 138.1h1.4v1.4h-1.4zM355.6 124.0h1.4v1.4h-1.4zM370.4 109.8h1.4v1.4h-1.4zM397.6 94.2h1.4v1.4h-1.4zM405.2 73.3h1.4v1.4h-1.4zM384.7 107.5h1.4v1.4h-1.4zM356.3 121.5h1.4v1.4h-1.4zM391.2 87.1h1.4v1.4h-1.4zM377.4 102.1h1.4v1.4h-1.4zM344.7 131.1h1.4v1.4h-1.4zM346.5 143.8h1.4v1.4h-1.4zM385.5 92.8h1.4v1.4h-1.4zM370.4 108.8h1.4v1.4h-1.4zM393.2 84.8h1.4v1.4h-1.4zM400.5 88.6h1.4v1.4h-1.4zM408.9 77.5h1.4v1.4h-1.4zM346.2 132.0h1.4v1.4h-1.4zM395.4 94.5h1.4v1.4h-1.4zM403.1 72.5h1.4v1.4h-1.4zM391.8 87.1h1.4v1.4h-1.4zM384.2 110.1h1.4v1.4h-1.4zM366.9 113.3h1.4v1.4h-1.4zM395.7 82.5h1.4v1.4h-1.4zM370.2 124.6h1.4v1.4h-1.4zM357.7 120.0h1.4v1.4h-1.4zM392.3 100.0h1.4v1.4h-1.4zM368.4 124.8h1.4v1.4h-1.4zM365.4 115.8h1.4v1.4h-1.4zM387.6 104.8h1.4v1.4h-1.4zM393.5 85.3h1.4v1.4h-1.4zM383.3 108.6h1.4v1.4h-1.4zM356.4 137.2h1.4v1.4h-1.4zM401.2 89.4h1.4v1.4h-1.4zM371.7 106.6h1.4v1.4h-1.4zM375.3 104.3h1.4v1.4h-1.4zM357.8 136.6h1.4v1.4h-1.4zM408.6 78.4h1.4v1.4h-1.4zM374.1 105.8h1.4v1.4h-1.4zM359.3 133.6h1.4v1.4h-1.4zM347.2 142.2h1.4v1.4h-1.4zM378.2 116.8h1.4v1.4h-1.4zM386.1 105.2h1.4v1.4h-1.4zM374.8 118.3h1.4v1.4h-1.4zM373.2 121.1h1.4v1.4h-1.4zM384.0 96.4h1.4v1.4h-1.4zM358.0 122.4h1.4v1.4h-1.4zM359.3 119.4h1.4v1.4h-1.4zM402.5 88.2h1.4v1.4h-1.4zM364.0 115.4h1.4v1.4h-1.4zM366.1 129.1h1.4v1.4h-1.4zM349.6 126.9h1.4v1.4h-1.4zM402.0 73.5h1.4v1.4h-1.4zM347.5 141.9h1.4v1.4h-1.4zM356.2 121.5h1.4v1.4h-1.4zM346.7 141.9h1.4v1.4h-1.4zM374.4 106.7h1.4v1.4h-1.4zM366.6 125.8h1.4v1.4h-1.4zM376.1 103.3h1.4v1.4h-1.4zM356.9 136.4h1.4v1.4h-1.4zM343.9 142.9h1.4v1.4h-1.4zM364.3 113.9h1.4v1.4h-1.4zM390.4 86.8h1.4v1.4h-1.4zM404.2 72.5h1.4v1.4h-1.4zM346.4 129.6h1.4v1.4h-1.4zM368.1 124.7h1.4v1.4h-1.4zM385.9 105.7h1.4v1.4h-1.4zM345.1 130.2h1.4v1.4h-1.4zM345.5 131.1h1.4v1.4h-1.4zM359.3 121.1h1.4v1.4h-1.4zM379.5 101.5h1.4v1.4h-1.4zM389.9 88.6h1.4v1.4h-1.4zM400.9 74.6h1.4v1.4h-1.4zM363.5 131.7h1.4v1.4h-1.4zM351.9 141.8h1.4v1.4h-1.4zM351.5 142.2h1.4v1.4h-1.4zM393.9 96.8h1.4v1.4h-1.4zM393.7 83.6h1.4v1.4h-1.4zM345.0 142.8h1.4v1.4h-1.4zM401.4 76.1h1.4v1.4h-1.4zM382.7 95.8h1.4v1.4h-1.4zM406.9 80.9h1.4v1.4h-1.4zM401.4 87.6h1.4v1.4h-1.4zM391.3 102.2h1.4v1.4h-1.4zM398.4 93.6h1.4v1.4h-1.4zM397.4 78.7h1.4v1.4h-1.4zM384.4 109.6h1.4v1.4h-1.4zM369.9 108.4h1.4v1.4h-1.4zM408.4 69.1h1.4v1.4h-1.4zM388.2 105.0h1.4v1.4h-1.4zM376.6 104.6h1.4v1.4h-1.4zM403.3 86.5h1.4v1.4h-1.4zM378.1 102.5h1.4v1.4h-1.4zM368.0 125.5h1.4v1.4h-1.4zM366.5 114.3h1.4v1.4h-1.4zM364.5 130.3h1.4v1.4h-1.4zM366.2 126.6h1.4v1.4h-1.4zM369.1 125.7h1.4v1.4h-1.4zM401.3 77.0h1.4v1.4h-1.4zM357.1 137.9h1.4v1.4h-1.4zM361.6 117.1h1.4v1.4h-1.4zM359.2 121.2h1.4v1.4h-1.4zM348.2 128.7h1.4v1.4h-1.4zM383.5 96.0h1.4v1.4h-1.4zM345.9 141.4h1.4v1.4h-1.4zM346.0 131.0h1.4v1.4h-1.4zM391.9 84.5h1.4v1.4h-1.4zM387.1 91.8h1.4v1.4h-1.4zM400.6 77.2h1.4v1.4h-1.4zM394.4 98.5h1.4v1.4h-1.4zM391.0 101.1h1.4v1.4h-1.4zM398.9 90.8h1.4v1.4h-1.4zM381.8 96.5h1.4v1.4h-1.4zM401.7 75.8h1.4v1.4h-1.4zM407.0 72.3h1.4v1.4h-1.4zM384.6 93.8h1.4v1.4h-1.4zM367.6 127.4h1.4v1.4h-1.4zM374.8 105.7h1.4v1.4h-1.4zM392.2 86.0h1.4v1.4h-1.4zM363.7 115.1h1.4v1.4h-1.4zM363.3 129.2h1.4v1.4h-1.4zM363.1 130.5h1.4v1.4h-1.4zM389.0 104.7h1.4v1.4h-1.4zM372.7 122.5h1.4v1.4h-1.4zM366.0 115.3h1.4v1.4h-1.4zM350.9 142.5h1.4v1.4h-1.4zM373.1 106.3h1.4v1.4h-1.4zM402.0 88.2h1.4v1.4h-1.4zM381.1 96.9h1.4v1.4h-1.4zM365.5 113.4h1.4v1.4h-1.4zM385.2 95.1h1.4v1.4h-1.4zM405.1 84.4h1.4v1.4h-1.4zM382.3 96.5h1.4v1.4h-1.4zM362.4 116.9h1.4v1.4h-1.4zM359.1 120.4h1.4v1.4h-1.4zM406.5 71.4h1.4v1.4h-1.4zM408.1 71.0h1.4v1.4h-1.4zM361.4 132.5h1.4v1.4h-1.4zM401.5 75.4h1.4v1.4h-1.4zM371.2 121.6h1.4v1.4h-1.4zM382.7 109.3h1.4v1.4h-1.4zM362.6 131.6h1.4v1.4h-1.4zM361.4 118.4h1.4v1.4h-1.4zM362.4 130.8h1.4v1.4h-1.4zM401.2 75.6h1.4v1.4h-1.4zM391.7 99.8h1.4v1.4h-1.4zM344.6 143.7h1.4v1.4h-1.4zM395.6 96.4h1.4v1.4h-1.4zM394.6 96.0h1.4v1.4h-1.4zM352.2 125.7h1.4v1.4h-1.4zM404.4 73.9h1.4v1.4h-1.4zM390.9 85.4h1.4v1.4h-1.4zM402.9 75.3h1.4v1.4h-1.4zM385.4 93.0h1.4v1.4h-1.4zM394.1 81.8h1.4v1.4h-1.4zM360.9 117.6h1.4v1.4h-1.4zM362.6 118.5h1.4v1.4h-1.4zM364.4 113.8h1.4v1.4h-1.4zM347.2 142.5h1.4v1.4h-1.4zM390.1 102.9h1.4v1.4h-1.4zM400.3 77.1h1.4v1.4h-1.4zM401.3 88.8h1.4v1.4h-1.4zM398.1 93.3h1.4v1.4h-1.4zM362.6 132.5h1.4v1.4h-1.4zM355.8 136.9h1.4v1.4h-1.4zM383.2 108.8h1.4v1.4h-1.4zM395.5 82.4h1.4v1.4h-1.4zM351.9 125.3h1.4v1.4h-1.4zM353.3 123.6h1.4v1.4h-1.4zM402.7 73.8h1.4v1.4h-1.4zM399.9 77.7h1.4v1.4h-1.4zM393.6 96.8h1.4v1.4h-1.4zM354.1 123.1h1.4v1.4h-1.4zM376.3 116.6h1.4v1.4h-1.4zM367.1 111.1h1.4v1.4h-1.4zM367.4 112.3h1.4v1.4h-1.4zM382.0 96.4h1.4v1.4h-1.4zM405.6 82.8h1.4v1.4h-1.4zM358.3 134.3h1.4v1.4h-1.4zM351.1 128.2h1.4v1.4h-1.4zM379.1 99.0h1.4v1.4h-1.4zM398.0 92.7h1.4v1.4h-1.4zM353.2 124.1h1.4v1.4h-1.4zM380.5 113.9h1.4v1.4h-1.4zM343.4 134.1h1.4v1.4h-1.4zM347.9 143.8h1.4v1.4h-1.4zM383.8 109.8h1.4v1.4h-1.4zM399.7 78.0h1.4v1.4h-1.4zM399.4 91.5h1.4v1.4h-1.4zM391.7 84.4h1.4v1.4h-1.4zM406.7 80.6h1.4v1.4h-1.4zM358.8 120.4h1.4v1.4h-1.4zM366.6 127.8h1.4v1.4h-1.4zM389.0 88.0h1.4v1.4h-1.4zM350.5 143.8h1.4v1.4h-1.4zM376.8 116.7h1.4v1.4h-1.4zM388.6 103.2h1.4v1.4h-1.4zM385.5 107.0h1.4v1.4h-1.4zM406.3 73.1h1.4v1.4h-1.4zM406.1 72.4h1.4v1.4h-1.4zM353.0 140.9h1.4v1.4h-1.4zM405.2 71.7h1.4v1.4h-1.4zM393.8 98.5h1.4v1.4h-1.4zM408.2 78.6h1.4v1.4h-1.4zM376.3 103.2h1.4v1.4h-1.4zM350.0 142.2h1.4v1.4h-1.4zM371.5 122.7h1.4v1.4h-1.4zM364.6 115.4h1.4v1.4h-1.4zM398.1 77.3h1.4v1.4h-1.4zM361.3 117.8h1.4v1.4h-1.4zM354.4 140.5h1.4v1.4h-1.4zM349.3 128.7h1.4v1.4h-1.4zM357.6 121.1h1.4v1.4h-1.4zM381.0 110.9h1.4v1.4h-1.4zM354.5 140.6h1.4v1.4h-1.4zM352.9 124.1h1.4v1.4h-1.4zM359.3 133.4h1.4v1.4h-1.4zM374.1 121.1h1.4v1.4h-1.4zM394.0 97.2h1.4v1.4h-1.4zM401.3 75.7h1.4v1.4h-1.4zM407.5 80.7h1.4v1.4h-1.4zM378.6 115.3h1.4v1.4h-1.4zM374.2 105.8h1.4v1.4h-1.4zM385.4 94.9h1.4v1.4h-1.4zM371.7 107.5h1.4v1.4h-1.4zM395.6 80.1h1.4v1.4h-1.4zM372.7 106.9h1.4v1.4h-1.4zM354.3 140.5h1.4v1.4h-1.4zM355.7 139.6h1.4v1.4h-1.4zM406.6 73.2h1.4v1.4h-1.4zM384.8 109.3h1.4v1.4h-1.4zM408.0 79.4h1.4v1.4h-1.4zM346.7 129.1h1.4v1.4h-1.4zM349.0 128.3h1.4v1.4h-1.4zM394.4 84.1h1.4v1.4h-1.4zM371.8 120.6h1.4v1.4h-1.4zM384.5 110.0h1.4v1.4h-1.4zM392.5 86.2h1.4v1.4h-1.4zM369.0 112.3h1.4v1.4h-1.4zM346.6 131.5h1.4v1.4h-1.4zM383.6 110.4h1.4v1.4h-1.4zM367.0 111.7h1.4v1.4h-1.4zM348.6 143.3h1.4v1.4h-1.4zM387.2 92.0h1.4v1.4h-1.4zM378.9 114.3h1.4v1.4h-1.4zM396.4 93.4h1.4v1.4h-1.4zM353.0 126.5h1.4v1.4h-1.4zM400.6 75.8h1.4v1.4h-1.4zM350.3 127.5h1.4v1.4h-1.4zM402.3 88.7h1.4v1.4h-1.4zM396.1 95.3h1.4v1.4h-1.4zM389.4 104.3h1.4v1.4h-1.4zM359.4 135.9h1.4v1.4h-1.4zM384.1 95.3h1.4v1.4h-1.4zM392.0 84.9h1.4v1.4h-1.4zM381.6 96.3h1.4v1.4h-1.4zM381.0 113.2h1.4v1.4h-1.4zM348.7 129.6h1.4v1.4h-1.4zM352.8 124.3h1.4v1.4h-1.4zM367.1 126.4h1.4v1.4h-1.4zM374.0 120.5h1.4v1.4h-1.4zM372.6 121.4h1.4v1.4h-1.4zM359.8 120.0h1.4v1.4h-1.4zM408.3 79.1h1.4v1.4h-1.4zM366.9 112.8h1.4v1.4h-1.4zM392.5 85.3h1.4v1.4h-1.4zM399.1 92.1h1.4v1.4h-1.4zM401.4 89.5h1.4v1.4h-1.4zM354.4 124.9h1.4v1.4h-1.4zM346.8 143.8h1.4v1.4h-1.4zM385.8 108.4h1.4v1.4h-1.4zM357.5 120.5h1.4v1.4h-1.4zM348.2 141.7h1.4v1.4h-1.4zM355.3 138.8h1.4v1.4h-1.4zM404.4 71.8h1.4v1.4h-1.4zM353.5 142.3h1.4v1.4h-1.4zM361.8 117.5h1.4v1.4h-1.4zM402.0 87.0h1.4v1.4h-1.4zM367.6 110.9h1.4v1.4h-1.4zM363.0 117.9h1.4v1.4h-1.4zM372.1 121.4h1.4v1.4h-1.4zM354.7 139.8h1.4v1.4h-1.4zM377.3 116.5h1.4v1.4h-1.4zM357.8 122.5h1.4v1.4h-1.4zM396.2 79.4h1.4v1.4h-1.4zM366.1 113.1h1.4v1.4h-1.4zM396.6 94.5h1.4v1.4h-1.4zM362.2 133.4h1.4v1.4h-1.4zM405.1 83.0h1.4v1.4h-1.4zM402.4 86.8h1.4v1.4h-1.4zM386.9 92.5h1.4v1.4h-1.4zM346.6 142.6h1.4v1.4h-1.4zM395.4 82.4h1.4v1.4h-1.4zM397.1 78.5h1.4v1.4h-1.4zM374.9 119.6h1.4v1.4h-1.4zM396.6 80.0h1.4v1.4h-1.4zM401.8 74.1h1.4v1.4h-1.4zM384.5 108.6h1.4v1.4h-1.4zM408.2 77.7h1.4v1.4h-1.4zM406.4 82.0h1.4v1.4h-1.4zM399.2 90.7h1.4v1.4h-1.4zM380.7 113.9h1.4v1.4h-1.4zM383.0 94.6h1.4v1.4h-1.4zM401.7 74.2h1.4v1.4h-1.4zM358.8 119.8h1.4v1.4h-1.4zM347.6 131.1h1.4v1.4h-1.4zM399.5 78.3h1.4v1.4h-1.4zM390.6 101.0h1.4v1.4h-1.4zM360.4 134.4h1.4v1.4h-1.4zM351.9 141.9h1.4v1.4h-1.4zM354.1 124.9h1.4v1.4h-1.4zM349.5 141.7h1.4v1.4h-1.4zM393.7 98.9h1.4v1.4h-1.4zM390.9 101.5h1.4v1.4h-1.4zM359.6 121.0h1.4v1.4h-1.4zM356.3 124.0h1.4v1.4h-1.4zM387.8 90.6h1.4v1.4h-1.4zM391.9 101.0h1.4v1.4h-1.4zM406.1 70.5h1.4v1.4h-1.4zM355.5 138.7h1.4v1.4h-1.4zM370.9 123.3h1.4v1.4h-1.4zM407.7 70.5h1.4v1.4h-1.4zM408.5 70.4h1.4v1.4h-1.4zM372.7 121.3h1.4v1.4h-1.4zM378.9 115.4h1.4v1.4h-1.4zM370.5 123.1h1.4v1.4h-1.4zM401.7 88.1h1.4v1.4h-1.4zM398.2 79.1h1.4v1.4h-1.4zM378.6 115.2h1.4v1.4h-1.4zM406.8 70.9h1.4v1.4h-1.4zM394.8 96.3h1.4v1.4h-1.4zM347.1 141.2h1.4v1.4h-1.4zM389.4 88.8h1.4v1.4h-1.4zM391.9 84.4h1.4v1.4h-1.4z"/>
<path fill="#1a1a1a" d="M393.2 99.4h1.4v1.4h-1.4zM381.1 112.4h1.4v1.4h-1.4zM351.0 141.6h1.4v1.4h-1.4zM362.8 132.8h1.4v1.4h-1.4zM387.1 92.3h1.4v1.4h-1.4zM400.6 90.2h1.4v1.4h-1.4zM384.4 109.8h1.4v1.4h-1.4zM366.0 114.7h1.4v1.4h-1.4zM363.0 130.4h1.4v1.4h-1.4zM401.2 89.1h1.4v1.4h-1.4zM355.7 140.0h1.4v1.4h-1.4zM343.9 131.1h1.4v1.4h-1.4zM384.4 108.7h1.4v1.4h-1.4zM403.7 86.8h1.4v1.4h-1.4zM369.6 111.5h1.4v1.4h-1.4zM389.2 89.1h1.4v1.4h-1.4zM350.3 127.5h1.4v1.4h-1.4zM345.7 143.1h1.4v1.4h-1.4zM375.1 104.6h1.4v1.4h-1.4zM403.2 87.4h1.4v1.4h-1.4zM381.8 111.5h1.4v1.4h-1.4zM350.8 142.2h1.4v1.4h-1.4zM374.0 105.1h1.4v1.4h-1.4zM344.2 130.8h1.4v1.4h-1.4zM363.6 117.4h1.4v1.4h-1.4zM362.5 131.1h1.4v1.4h-1.4zM346.0 142.3h1.4v1.4h-1.4zM383.8 109.6h1.4v1.4h-1.4zM344.5 141.6h1.4v1.4h-1.4zM397.9 91.8h1.4v1.4h-1.4zM370.9 123.5h1.4v1.4h-1.4zM392.0 100.1h1.4v1.4h-1.4zM386.5 93.5h1.4v1.4h-1.4zM376.1 117.4h1.4v1.4h-1.4zM394.7 82.8h1.4v1.4h-1.4zM372.8 121.4h1.4v1.4h-1.4zM408.5 77.2h1.4v1.4h-1.4zM364.7 128.4h1.4v1.4h-1.4zM352.0 142.2h1.4v1.4h-1.4zM361.7 133.6h1.4v1.4h-1.4zM372.6 107.7h1.4v1.4h-1.4zM356.8 122.4h1.4v1.4h-1.4zM384.0 93.4h1.4v1.4h-1.4zM380.5 111.4h1.4v1.4h-1.4zM365.6 113.2h1.4v1.4h-1.4zM354.9 122.9h1.4v1.4h-1.4zM407.7 78.6h1.4v1.4h-1.4zM388.3 90.0h1.4v1.4h-1.4zM400.9 88.5h1.4v1.4h-1.4zM408.3 69.9h1.4v1.4h-1.4zM358.5 136.5h1.4v1.4h-1.4zM346.6 130.4h1.4v1.4h-1.4zM356.9 138.5h1.4v1.4h-1.4zM404.1 86.0h1.4v1.4h-1.4zM367.7 111.5h1.4v1.4h-1.4zM401.3 75.5h1.4v1.4h-1.4zM383.2 109.5h1.4v1.4h-1.4zM354.9 122.5h1.4v1.4h-1.4zM362.2 117.9h1.4v1.4h-1.4zM373.7 105.2h1.4v1.4h-1.4zM381.7 112.3h1.4v1.4h-1.4zM393.8 98.4h1.4v1.4h-1.4zM384.5 107.2h1.4v1.4h-1.4zM370.8 108.8h1.4v1.4h-1.4zM388.2 91.3h1.4v1.4h-1.4zM353.3 140.9h1.4v1.4h-1.4zM395.6 94.4h1.4v1.4h-1.4zM368.6 110.7h1.4v1.4h-1.4zM379.7 100.7h1.4v1.4h-1.4zM362.1 133.0h1.4v1.4h-1.4zM365.4 128.0h1.4v1.4h-1.4zM385.9 92.7h1.4v1.4h-1.4zM388.6 103.4h1.4v1.4h-1.4zM369.7 125.2h1.4v1.4h-1.4zM368.8 111.7h1.4v1.4h-1.4zM343.8 141.8h1.4v1.4h-1.4zM401.9 87.0h1.4v1.4h-1.4zM381.2 112.3h1.4v1.4h-1.4zM362.4 131.6h1.4v1.4h-1.4zM382.2 112.1h1.4v1.4h-1.4zM399.5 89.7h1.4v1.4h-1.4zM397.3 93.0h1.4v1.4h-1.4zM366.1 127.6h1.4v1.4h-1.4zM395.0 97.1h1.4v1.4h-1.4zM396.9 79.3h1.4v1.4h-1.4zM359.7 134.5h1.4v1.4h-1.4zM374.2 104.3h1.4v1.4h-1.4zM379.4 98.6h1.4v1.4h-1.4zM368.5 112.2h1.4v1.4h-1.4zM349.3 127.7h1.4v1.4h-1.4zM403.0 75.5h1.4v1.4h-1.4zM345.6 131.1h1.4v1.4h-1.4zM375.3 102.9h1.4v1.4h-1.4zM401.3 87.1h1.4v1.4h-1.4zM370.3 122.9h1.4v1.4h-1.4zM367.4 113.3h1.4v1.4h-1.4zM392.1 86.0h1.4v1.4h-1.4zM372.0 120.6h1.4v1.4h-1.4zM375.3 119.2h1.4v1.4h-1.4zM359.8 133.7h1.4v1.4h-1.4zM395.6 81.9h1.4v1.4h-1.4zM394.9 96.1h1.4v1.4h-1.4zM372.9 105.8h1.4v1.4h-1.4zM365.0 115.0h1.4v1.4h-1.4zM398.5 77.8h1.4v1.4h-1.4zM403.1 87.0h1.4v1.4h-1.4zM385.9 91.2h1.4v1.4h-1.4zM362.8 116.0h1.4v1.4h-1.4zM368.8 125.4h1.4v1.4h-1.4zM401.4 89.9h1.4v1.4h-1.4zM352.2 126.2h1.4v1.4h-1.4zM400.5 88.1h1.4v1.4h-1.4zM362.6 116.6h1.4v1.4h-1.4zM348.5 144.3h1.4v1.4h-1.4zM390.2 87.8h1.4v1.4h-1.4zM391.6 86.3h1.4v1.4h-1.4zM375.4 119.6h1.4v1.4h-1.4zM381.4 97.9h1.4v1.4h-1.4zM356.7 123.6h1.4v1.4h-1.4zM391.8 86.4h1.4v1.4h-1.4zM371.8 107.2h1.4v1.4h-1.4zM379.5 112.5h1.4v1.4h-1.4zM388.3 103.1h1.4v1.4h-1.4zM394.6 97.3h1.4v1.4h-1.4zM374.4 120.4h1.4v1.4h-1.4zM354.5 125.3h1.4v1.4h-1.4zM393.0 99.9h1.4v1.4h-1.4zM386.0 93.0h1.4v1.4h-1.4zM409.1 70.4h1.4v1.4h-1.4zM388.7 91.1h1.4v1.4h-1.4zM376.5 116.7h1.4v1.4h-1.4zM347.5 141.8h1.4v1.4h-1.4zM401.4 86.9h1.4v1.4h-1.4zM395.0 80.9h1.4v1.4h-1.4zM404.3 84.5h1.4v1.4h-1.4zM345.4 129.6h1.4v1.4h-1.4zM347.8 143.4h1.4v1.4h-1.4zM359.5 120.4h1.4v1.4h-1.4zM376.9 102.4h1.4v1.4h-1.4zM379.7 98.6h1.4v1.4h-1.4zM404.5 72.0h1.4v1.4h-1.4zM363.2 129.3h1.4v1.4h-1.4zM389.3 102.8h1.4v1.4h-1.4zM357.0 122.0h1.4v1.4h-1.4zM361.1 131.4h1.4v1.4h-1.4zM385.0 106.3h1.4v1.4h-1.4zM367.5 112.6h1.4v1.4h-1.4zM392.2 99.8h1.4v1.4h-1.4zM401.0 74.7h1.4v1.4h-1.4zM343.7 132.6h1.4v1.4h-1.4zM361.7 116.7h1.4v1.4h-1.4zM397.0 80.0h1.4v1.4h-1.4zM349.4 141.7h1.4v1.4h-1.4zM388.2 89.6h1.4v1.4h-1.4zM364.6 114.0h1.4v1.4h-1.4zM406.7 73.1h1.4v1.4h-1.4zM401.1 88.7h1.4v1.4h-1.4zM344.0 142.3h1.4v1.4h-1.4zM367.7 111.7h1.4v1.4h-1.4zM397.3 78.6h1.4v1.4h-1.4zM399.7 91.8h1.4v1.4h-1.4zM353.1 124.1h1.4v1.4h-1.4zM393.4 99.6h1.4v1.4h-1.4zM391.0 88.2h1.4v1.4h-1.4zM375.1 119.0h1.4v1.4h-1.4zM389.7 88.9h1.4v1.4h-1.4zM355.0 125.1h1.4v1.4h-1.4zM404.1 74.1h1.4v1.4h-1.4zM355.0 138.0h1.4v1.4h-1.4zM343.6 131.4h1.4v1.4h-1.4zM382.7 95.5h1.4v1.4h-1.4zM381.5 112.7h1.4v1.4h-1.4zM352.6 124.1h1.4v1.4h-1.4zM375.8 117.9h1.4v1.4h-1.4zM366.0 114.6h1.4v1.4h-1.4zM404.9 83.9h1.4v1.4h-1.4zM351.0 141.4h1.4v1.4h-1.4zM405.3 71.9h1.4v1.4h-1.4zM379.0 114.5h1.4v1.4h-1.4zM393.5 83.3h1.4v1.4h-1.4zM353.1 125.9h1.4v1.4h-1.4zM405.7 82.0h1.4v1.4h-1.4zM391.0 102.5h1.4v1.4h-1.4zM405.9 81.6h1.4v1.4h-1.4zM367.4 125.2h1.4v1.4h-1.4zM369.9 124.1h1.4v1.4h-1.4zM395.9 96.4h1.4v1.4h-1.4zM376.6 104.5h1.4v1.4h-1.4zM389.6 88.7h1.4v1.4h-1.4zM362.3 133.2h1.4v1.4h-1.4zM399.8 77.2h1.4v1.4h-1.4zM395.6 97.0h1.4v1.4h-1.4zM368.0 126.3h1.4v1.4h-1.4zM404.9 84.1h1.4v1.4h-1.4zM398.6 79.8h1.4v1.4h-1.4zM361.5 133.7h1.4v1.4h-1.4zM356.7 138.0h1.4v1.4h-1.4zM363.9 130.4h1.4v1.4h-1.4zM386.3 91.7h1.4v1.4h-1.4zM381.5 111.5h1.4v1.4h-1.4zM350.0 142.6h1.4v1.4h-1.4zM391.2 86.6h1.4v1.4h-1.4zM378.9 99.8h1.4v1.4h-1.4zM344.8 133.0h1.4v1.4h-1.4zM369.6 123.8h1.4v1.4h-1.4zM343.8 143.5h1.4v1.4h-1.4zM379.8 113.2h1.4v1.4h-1.4zM403.0 85.8h1.4v1.4h-1.4zM347.7 129.4h1.4v1.4h-1.4zM349.3 129.8h1.4v1.4h-1.4zM356.8 123.4h1.4v1.4h-1.4zM401.3 74.0h1.4v1.4h-1.4zM365.3 115.5h1.4v1.4h-1.4zM377.2 102.9h1.4v1.4h-1.4zM372.1 120.3h1.4v1.4h-1.4zM376.9 103.8h1.4v1.4h-1.4zM361.6 117.0h1.4v1.4h-1.4zM363.6 115.4h1.4v1.4h-1.4zM370.6 123.9h1.4v1.4h-1.4zM355.3 138.8h1.4v1.4h-1.4zM383.8 109.1h1.4v1.4h-1.4zM408.2 78.0h1.4v1.4h-1.4zM407.6 78.3h1.4v1.4h-1.4zM397.5 79.8h1.4v1.4h-1.4zM400.4 75.8h1.4v1.4h-1.4zM407.0 71.9h1.4v1.4h-1.4zM358.6 121.8h1.4v1.4h-1.4zM382.2 111.1h1.4v1.4h-1.4zM358.0 135.8h1.4v1.4h-1.4zM398.5 78.0h1.4v1.4h-1.4zM369.4 125.5h1.4v1.4h-1.4zM365.5 112.9h1.4v1.4h-1.4zM348.3 141.5h1.4v1.4h-1.4zM394.7 82.6h1.4v1.4h-1.4zM343.8 141.9h1.4v1.4h-1.4zM402.3 73.7h1.4v1.4h-1.4zM348.3 143.1h1.4v1.4h-1.4zM346.7 130.9h1.4v1.4h-1.4zM362.0 117.5h1.4v1.4h-1.4zM374.4 106.5h1.4v1.4h-1.4zM345.1 132.7h1.4v1.4h-1.4zM366.7 112.8h1.4v1.4h-1.4zM356.7 122.3h1.4v1.4h-1.4zM380.2 112.0h1.4v1.4h-1.4zM356.0 121.4h1.4v1.4h-1.4zM367.8 111.2h1.4v1.4h-1.4zM398.8 76.8h1.4v1.4h-1.4zM354.1 125.4h1.4v1.4h-1.4zM346.8 130.1h1.4v1.4h-1.4zM401.2 76.1h1.4v1.4h-1.4zM379.5 99.5h1.4v1.4h-1.4zM385.9 92.0h1.4v1.4h-1.4zM405.4 71.9h1.4v1.4h-1.4zM388.1 89.2h1.4v1.4h-1.4zM362.8 115.6h1.4v1.4h-1.4zM350.0 142.4h1.4v1.4h-1.4zM344.7 142.0h1.4v1.4h-1.4zM352.7 141.9h1.4v1.4h-1.4zM399.1 77.6h1.4v1.4h-1.4zM376.3 104.0h1.4v1.4h-1.4zM372.2 120.7h1.4v1.4h-1.4zM380.8 98.0h1.4v1.4h-1.4zM354.9 138.8h1.4v1.4h-1.4zM368.2 124.2h1.4v1.4h-1.4zM384.3 95.6h1.4v1.4h-1.4zM350.5 126.0h1.4v1.4h-1.4zM399.3 90.0h1.4v1.4h-1.4zM366.5 114.0h1.4v1.4h-1.4zM397.0 93.3h1.4v1.4h-1.4zM386.3 104.9h1.4v1.4h-1.4zM347.7 143.3h1.4v1.4h-1.4zM374.4 103.9h1.4v1.4h-1.4zM406.1 71.0h1.4v1.4h-1.4zM401.3 89.4h1.4v1.4h-1.4zM372.7 119.7h1.4v1.4h-1.4zM397.6 92.3h1.4v1.4h-1.4zM383.1 95.8h1.4v1.4h-1.4zM347.6 142.5h1.4v1.4h-1.4zM391.0 85.6h1.4v1.4h-1.4zM373.7 104.5h1.4v1.4h-1.4zM368.1 110.1h1.4v1.4h-1.4zM358.8 119.4h1.4v1.4h-1.4zM375.2 119.9h1.4v1.4h-1.4zM348.3 142.7h1.4v1.4h-1.4zM400.8 88.9h1.4v1.4h-1.4zM392.2 85.4h1.4v1.4h-1.4zM383.0 109.4h1.4v1.4h-1.4zM375.7 118.5h1.4v1.4h-1.4zM365.6 128.5h1.4v1.4h-1.4zM359.5 133.6h1.4v1.4h-1.4zM409.0 75.1h1.4v1.4h-1.4zM346.7 130.9h1.4v1.4h-1.4zM395.0 94.8h1.4v1.4h-1.4zM382.2 109.9h1.4v1.4h-1.4zM355.3 123.6h1.4v1.4h-1.4zM353.4 124.4h1.4v1.4h-1.4zM407.1 79.3h1.4v1.4h-1.4zM367.7 111.4h1.4v1.4h-1.4zM389.6 104.0h1.4v1.4h-1.4zM380.7 97.6h1.4v1.4h-1.4zM372.1 121.9h1.4v1.4h-1.4zM386.8 91.6h1.4v1.4h-1.4zM398.0 93.7h1.4v1.4h-1.4zM395.6 81.8h1.4v1.4h-1.4zM402.7 85.3h1.4v1.4h-1.4zM370.0 125.0h1.4v1.4h-1.4zM402.1 76.1h1.4v1.4h-1.4zM354.7 139.1h1.4v1.4h-1.4zM378.1 116.3h1.4v1.4h-1.4zM370.8 109.5h1.4v1.4h-1.4zM403.9 85.4h1.4v1.4h-1.4zM346.9 142.7h1.4v1.4h-1.4zM380.0 114.4h1.4v1.4h-1.4zM381.7 97.5h1.4v1.4h-1.4zM401.0 90.4h1.4v1.4h-1.4zM397.5 80.3h1.4v1.4h-1.4zM359.8 133.5h1.4v1.4h-1.4zM348.6 142.3h1.4v1.4h-1.4zM388.3 104.3h1.4v1.4h-1.4zM350.4 141.9h1.4v1.4h-1.4zM392.0 84.1h1.4v1.4h-1.4zM398.5 93.5h1.4v1.4h-1.4zM401.6 74.7h1.4v1.4h-1.4zM356.5 136.7h1.4v1.4h-1.4zM356.1 139.0h1.4v1.4h-1.4zM367.0 125.6h1.4v1.4h-1.4zM351.6 143.4h1.4v1.4h-1.4zM402.4 86.8h1.4v1.4h-1.4zM352.8 142.7h1.4v1.4h-1.4zM361.0 117.1h1.4v1.4h-1.4zM398.4 90.7h1.4v1.4h-1.4zM402.1 86.3h1.4v1.4h-1.4zM389.4 103.8h1.4v1.4h-1.4zM370.3 108.3h1.4v1.4h-1.4zM386.1 105.5h1.4v1.4h-1.4zM398.8 76.6h1.4v1.4h-1.4zM355.5 138.9h1.4v1.4h-1.4zM405.5 72.3h1.4v1.4h-1.4zM409.1 71.0h1.4v1.4h-1.4zM366.9 126.0h1.4v1.4h-1.4zM365.8 128.7h1.4v1.4h-1.4zM385.4 107.1h1.4v1.4h-1.4zM343.8 130.9h1.4v1.4h-1.4zM409.2 69.0h1.4v1.4h-1.4zM387.0 106.3h1.4v1.4h-1.4zM372.6 108.1h1.4v1.4h-1.4zM359.0 121.0h1.4v1.4h-1.4zM363.6 130.7h1.4v1.4h-1.4zM395.6 81.4h1.4v1.4h-1.4zM397.9 92.2h1.4v1.4h-1.4zM347.7 131.1h1.4v1.4h-1.4zM363.0 116.1h1.4v1.4h-1.4zM399.3 76.7h1.4v1.4h-1.4z"/>
<path fill="#1a1a1a" fill-opacity="0.5" d="M404.4 86.2h1.4v1.4h-1.4zM392.8 98.3h1.4v1.4h-1.4zM358.1 134.9h1.4v1.4h-1.4zM376.1 117.6h1.4v1.4h-1.4zM370.3 110.0h1.4v1.4h-1.4zM370.8 107.5h1.4v1.4h-1.4zM409.1 69.7h1.4v1.4h-1.4zM403.0 86.4h1.4v1.4h-1.4zM370.2 125.2h1.4v1.4h-1.4zM354.5 125.2h1.4v1.4h-1.4zM364.5 128.0h1.4v1.4h-1.4zM363.9 129.4h1.4v1.4h-1.4zM380.0 112.9h1.4v1.4h-1.4zM382.5 111.7h1.4v1.4h-1.4zM345.9 130.3h1.4v1.4h-1.4zM407.7 78.6h1.4v1.4h-1.4zM384.9 95.2h1.4v1.4h-1.4zM352.4 124.7h1.4v1.4h-1.4zM347.3 142.1h1.4v1.4h-1.4zM346.4 141.6h1.4v1.4h-1.4zM379.2 101.1h1.4v1.4h-1.4zM353.8 124.6h1.4v1.4h-1.4zM374.4 104.5h1.4v1.4h-1.4zM396.5 94.5h1.4v1.4h-1.4zM391.6 86.4h1.4v1.4h-1.4zM359.0 120.2h1.4v1.4h-1.4zM391.2 100.9h1.4v1.4h-1.4zM393.9 96.7h1.4v1.4h-1.4zM347.3 130.6h1.4v1.4h-1.4zM352.2 141.9h1.4v1.4h-1.4zM376.8 117.0h1.4v1.4h-1.4zM345.5 130.3h1.4v1.4h-1.4zM365.8 114.6h1.4v1.4h-1.4zM396.3 80.7h1.4v1.4h-1.4zM394.0 82.1h1.4v1.4h-1.4zM362.7 117.2h1.4v1.4h-1.4zM387.6 92.2h1.4v1.4h-1.4zM393.0 83.2h1.4v1.4h-1.4zM351.6 142.9h1.4v1.4h-1.4zM348.1 141.7h1.4v1.4h-1.4zM383.3 96.5h1.4v1.4h-1.4zM373.4 107.6h1.4v1.4h-1.4zM369.1 110.6h1.4v1.4h-1.4zM403.5 74.1h1.4v1.4h-1.4zM388.3 103.0h1.4v1.4h-1.4zM389.4 104.4h1.4v1.4h-1.4zM376.2 103.8h1.4v1.4h-1.4zM398.1 92.4h1.4v1.4h-1.4zM369.1 124.5h1.4v1.4h-1.4zM402.7 87.8h1.4v1.4h-1.4zM396.3 94.5h1.4v1.4h-1.4zM362.2 116.2h1.4v1.4h-1.4zM347.0 141.6h1.4v1.4h-1.4zM375.2 106.0h1.4v1.4h-1.4zM400.5 76.9h1.4v1.4h-1.4zM393.9 98.8h1.4v1.4h-1.4zM401.3 89.3h1.4v1.4h-1.4zM407.4 81.7h1.4v1.4h-1.4zM397.7 78.8h1.4v1.4h-1.4zM363.0 117.7h1.4v1.4h-1.4zM387.3 106.5h1.4v1.4h-1.4zM395.4 80.5h1.4v1.4h-1.4zM393.4 98.3h1.4v1.4h-1.4zM402.1 87.1h1.4v1.4h-1.4zM365.0 113.6h1.4v1.4h-1.4zM346.3 144.2h1.4v1.4h-1.4zM351.4 127.1h1.4v1.4h-1.4zM348.5 130.0h1.4v1.4h-1.4zM382.8 96.4h1.4v1.4h-1.4zM343.5 132.9h1.4v1.4h-1.4zM394.8 80.9h1.4v1.4h-1.4zM349.8 141.6h1.4v1.4h-1.4zM369.4 123.3h1.4v1.4h-1.4z"/>
<path fill="#141414" fill-opacity="0.5" d="M408.6 82.5h1.4v1.4h-1.4zM417.8 71.5h1.4v1.4h-1.4zM401.5 76.2h1.4v1.4h-1.4zM413.8 74.7h1.4v1.4h-1.4zM407.3 74.2h1.4v1.4h-1.4zM411.2 75.1h1.4v1.4h-1.4zM420.0 57.0h1.4v1.4h-1.4zM406.4 76.8h1.4v1.4h-1.4zM415.3 67.8h1.4v1.4h-1.4zM410.6 74.2h1.4v1.4h-1.4zM409.3 72.7h1.4v1.4h-1.4zM420.4 65.6h1.4v1.4h-1.4zM414.7 70.0h1.4v1.4h-1.4zM409.5 80.9h1.4v1.4h-1.4zM404.3 81.3h1.4v1.4h-1.4zM410.0 77.8h1.4v1.4h-1.4zM408.8 70.4h1.4v1.4h-1.4zM409.3 71.9h1.4v1.4h-1.4zM410.0 68.4h1.4v1.4h-1.4zM415.2 73.2h1.4v1.4h-1.4zM408.2 83.6h1.4v1.4h-1.4zM419.1 66.5h1.4v1.4h-1.4zM412.9 69.9h1.4v1.4h-1.4zM403.9 80.2h1.4v1.4h-1.4zM402.7 83.1h1.4v1.4h-1.4zM401.6 77.9h1.4v1.4h-1.4zM415.5 69.7h1.4v1.4h-1.4zM403.2 75.2h1.4v1.4h-1.4zM405.4 74.5h1.4v1.4h-1.4zM411.8 73.7h1.4v1.4h-1.4zM403.3 87.0h1.4v1.4h-1.4zM421.3 59.5h1.4v1.4h-1.4zM405.2 80.6h1.4v1.4h-1.4zM411.5 71.5h1.4v1.4h-1.4zM410.1 73.3h1.4v1.4h-1.4zM420.7 67.2h1.4v1.4h-1.4zM421.1 63.3h1.4v1.4h-1.4zM403.6 76.2h1.4v1.4h-1.4zM406.7 76.8h1.4v1.4h-1.4zM417.0 71.4h1.4v1.4h-1.4zM415.5 71.4h1.4v1.4h-1.4zM417.5 64.4h1.4v1.4h-1.4zM419.7 62.4h1.4v1.4h-1.4zM403.9 84.9h1.4v1.4h-1.4zM418.1 66.0h1.4v1.4h-1.4zM404.2 74.4h1.4v1.4h-1.4zM420.1 56.6h1.4v1.4h-1.4zM403.5 77.5h1.4v1.4h-1.4zM407.6 73.9h1.4v1.4h-1.4zM420.0 69.8h1.4v1.4h-1.4zM409.5 76.2h1.4v1.4h-1.4zM413.6 66.5h1.4v1.4h-1.4zM406.0 75.3h1.4v1.4h-1.4zM419.7 72.3h1.4v1.4h-1.4zM415.7 69.2h1.4v1.4h-1.4zM413.8 70.6h1.4v1.4h-1.4zM404.9 81.6h1.4v1.4h-1.4zM402.8 83.8h1.4v1.4h-1.4zM413.9 69.6h1.4v1.4h-1.4zM410.0 76.8h1.4v1.4h-1.4zM417.0 64.1h1.4v1.4h-1.4zM410.8 77.9h1.4v1.4h-1.4zM405.8 69.3h1.4v1.4h-1.4z"/>
<path fill="#141414" fill-opacity="0.75" d="M420.3 62.6h1.4v1.4h-1.4zM407.4 66.6h1.4v1.4h-1.4zM409.4 76.1h1.4v1.4h-1.4zM420.0 62.7h1.4v1.4h-1.4zM402.4 86.5h1.4v1.4h-1.4zM408.9 73.3h1.4v1.4h-1.4zM409.3 75.5h1.4v1.4h-1.4zM416.2 68.3h1.4v1.4h-1.4zM419.3 68.9h1.4v1.4h-1.4zM415.4 73.1h1.4v1.4h-1.4zM410.8 71.7h1.4v1.4h-1.4zM414.5 64.9h1.4v1.4h-1.4zM413.9 68.2h1.4v1.4h-1.4zM418.0 64.2h1.4v1.4h-1.4zM404.6 74.3h1.4v1.4h-1.4zM406.7 77.1h1.4v1.4h-1.4zM408.2 76.1h1.4v1.4h-1.4zM421.1 61.8h1.4v1.4h-1.4zM410.2 73.7h1.4v1.4h-1.4zM405.1 77.1h1.4v1.4h-1.4zM411.6 64.1h1.4v1.4h-1.4zM403.4 79.4h1.4v1.4h-1.4zM418.6 72.3h1.4v1.4h-1.4zM413.2 69.8h1.4v1.4h-1.4zM419.2 65.4h1.4v1.4h-1.4zM421.3 59.7h1.4v1.4h-1.4zM421.0 60.6h1.4v1.4h-1.4zM412.8 78.0h1.4v1.4h-1.4zM415.5 72.1h1.4v1.4h-1.4zM416.5 71.1h1.4v1.4h-1.4zM409.3 73.8h1.4v1.4h-1.4zM417.3 64.9h1.4v1.4h-1.4zM415.8 70.7h1.4v1.4h-1.4zM409.7 72.2h1.4v1.4h-1.4zM412.2 72.0h1.4v1.4h-1.4zM409.2 76.1h1.4v1.4h-1.4zM406.9 74.0h1.4v1.4h-1.4zM415.3 66.7h1.4v1.4h-1.4zM419.8 62.6h1.4v1.4h-1.4zM411.1 72.6h1.4v1.4h-1.4zM414.7 71.2h1.4v1.4h-1.4zM403.9 77.3h1.4v1.4h-1.4zM402.4 79.0h1.4v1.4h-1.4zM418.3 67.9h1.4v1.4h-1.4zM415.5 67.2h1.4v1.4h-1.4zM405.9 71.6h1.4v1.4h-1.4zM416.1 63.2h1.4v1.4h-1.4zM408.0 79.0h1.4v1.4h-1.4zM412.5 73.4h1.4v1.4h-1.4zM416.0 68.4h1.4v1.4h-1.4zM420.8 65.5h1.4v1.4h-1.4zM417.5 64.2h1.4v1.4h-1.4zM412.4 71.5h1.4v1.4h-1.4zM421.3 54.5h1.4v1.4h-1.4zM420.8 60.0h1.4v1.4h-1.4zM405.5 76.2h1.4v1.4h-1.4zM404.9 75.5h1.4v1.4h-1.4zM416.4 70.5h1.4v1.4h-1.4zM405.9 70.8h1.4v1.4h-1.4zM409.0 74.1h1.4v1.4h-1.4zM409.0 68.9h1.4v1.4h-1.4zM417.8 70.8h1.4v1.4h-1.4zM412.2 74.6h1.4v1.4h-1.4zM406.5 74.2h1.4v1.4h-1.4zM411.8 68.0h1.4v1.4h-1.4zM408.7 71.6h1.4v1.4h-1.4zM408.8 76.0h1.4v1.4h-1.4zM408.5 71.2h1.4v1.4h-1.4zM414.7 71.1h1.4v1.4h-1.4zM409.5 72.7h1.4v1.4h-1.4zM406.0 77.0h1.4v1.4h-1.4zM411.7 77.7h1.4v1.4h-1.4zM421.0 63.2h1.4v1.4h-1.4zM411.8 70.8h1.4v1.4h-1.4zM402.7 78.6h1.4v1.4h-1.4zM415.4 67.8h1.4v1.4h-1.4zM413.6 70.5h1.4v1.4h-1.4zM414.7 72.5h1.4v1.4h-1.4zM406.8 75.3h1.4v1.4h-1.4zM404.4 77.3h1.4v1.4h-1.4zM402.0 82.8h1.4v1.4h-1.4zM408.6 72.9h1.4v1.4h-1.4zM409.7 62.9h1.4v1.4h-1.4zM406.7 78.8h1.4v1.4h-1.4zM403.9 82.0h1.4v1.4h-1.4zM418.5 66.0h1.4v1.4h-1.4zM405.2 82.2h1.4v1.4h-1.4zM402.4 80.8h1.4v1.4h-1.4zM410.5 75.4h1.4v1.4h-1.4zM408.9 70.5h1.4v1.4h-1.4zM401.4 85.0h1.4v1.4h-1.4zM409.0 78.9h1.4v1.4h-1.4zM406.9 72.2h1.4v1.4h-1.4zM409.3 76.5h1.4v1.4h-1.4zM402.8 81.9h1.4v1.4h-1.4zM404.3 81.3h1.4v1.4h-1.4zM407.8 79.3h1.4v1.4h-1.4zM402.0 83.3h1.4v1.4h-1.4zM414.9 67.5h1.4v1.4h-1.4zM401.9 80.0h1.4v1.4h-1.4zM404.8 77.9h1.4v1.4h-1.4zM409.6 74.2h1.4v1.4h-1.4zM410.9 76.2h1.4v1.4h-1.4zM420.7 60.7h1.4v1.4h-1.4zM415.4 66.1h1.4v1.4h-1.4zM410.2 74.4h1.4v1.4h-1.4zM406.2 78.8h1.4v1.4h-1.4zM419.8 59.2h1.4v1.4h-1.4zM410.1 77.7h1.4v1.4h-1.4zM408.2 78.9h1.4v1.4h-1.4zM403.0 81.8h1.4v1.4h-1.4zM415.9 65.0h1.4v1.4h-1.4zM414.7 72.9h1.4v1.4h-1.4zM415.9 73.0h1.4v1.4h-1.4zM417.2 65.0h1.4v1.4h-1.4zM402.6 85.4h1.4v1.4h-1.4zM418.8 61.9h1.4v1.4h-1.4zM420.7 67.5h1.4v1.4h-1.4zM413.2 72.7h1.4v1.4h-1.4zM408.6 74.3h1.4v1.4h-1.4zM408.6 69.2h1.4v1.4h-1.4zM410.1 77.7h1.4v1.4h-1.4zM417.6 67.3h1.4v1.4h-1.4zM409.8 70.3h1.4v1.4h-1.4zM416.2 70.6h1.4v1.4h-1.4zM407.6 75.7h1.4v1.4h-1.4zM416.0 63.6h1.4v1.4h-1.4zM418.3 67.3h1.4v1.4h-1.4zM407.6 82.3h1.4v1.4h-1.4zM404.4 82.7h1.4v1.4h-1.4zM409.5 73.2h1.4v1.4h-1.4zM402.0 78.1h1.4v1.4h-1.4z"/>
<path fill="#141414" d="M408.1 76.0h1.4v1.4h-1.4zM420.9 61.6h1.4v1.4h-1.4zM420.8 67.5h1.4v1.4h-1.4zM408.2 76.4h1.4v1.4h-1.4zM414.1 69.7h1.4v1.4h-1.4zM408.4 75.8h1.4v1.4h-1.4zM402.7 81.9h1.4v1.4h-1.4zM413.4 70.5h1.4v1.4h-1.4zM409.6 74.4h1.4v1.4h-1.4zM413.0 72.2h1.4v1.4h-1.4zM410.2 72.9h1.4v1.4h-1.4zM419.6 63.8h1.4v1.4h-1.4zM408.7 78.1h1.4v1.4h-1.4zM416.6 70.4h1.4v1.4h-1.4zM404.9 79.8h1.4v1.4h-1.4zM411.1 66.1h1.4v1.4h-1.4zM402.9 85.3h1.4v1.4h-1.4zM407.5 74.0h1.4v1.4h-1.4zM404.6 79.9h1.4v1.4h-1.4zM420.3 59.0h1.4v1.4h-1.4zM415.4 63.2h1.4v1.4h-1.4zM413.3 69.7h1.4v1.4h-1.4zM420.2 55.8h1.4v1.4h-1.4zM408.4 78.1h1.4v1.4h-1.4zM404.5 78.6h1.4v1.4h-1.4zM403.7 79.6h1.4v1.4h-1.4zM401.6 85.2h1.4v1.4h-1.4zM411.2 71.3h1.4v1.4h-1.4zM410.9 74.4h1.4v1.4h-1.4zM413.2 69.3h1.4v1.4h-1.4zM409.9 72.6h1.4v1.4h-1.4zM405.0 79.7h1.4v1.4h-1.4zM416.5 70.9h1.4v1.4h-1.4zM411.3 72.7h1.4v1.4h-1.4zM413.9 70.2h1.4v1.4h-1.4zM408.7 73.1h1.4v1.4h-1.4zM419.8 62.1h1.4v1.4h-1.4zM401.8 87.4h1.4v1.4h-1.4zM417.9 65.1h1.4v1.4h-1.4zM419.8 63.5h1.4v1.4h-1.4zM401.8 83.5h1.4v1.4h-1.4zM413.4 71.9h1.4v1.4h-1.4zM405.2 72.0h1.4v1.4h-1.4zM415.2 74.9h1.4v1.4h-1.4zM418.1 71.9h1.4v1.4h-1.4zM413.5 62.9h1.4v1.4h-1.4zM414.5 71.2h1.4v1.4h-1.4zM401.9 84.4h1.4v1.4h-1.4zM415.0 68.2h1.4v1.4h-1.4zM406.7 83.2h1.4v1.4h-1.4zM408.9 74.4h1.4v1.4h-1.4zM415.5 66.8h1.4v1.4h-1.4zM402.4 77.2h1.4v1.4h-1.4zM416.1 70.3h1.4v1.4h-1.4zM401.9 85.6h1.4v1.4h-1.4zM406.3 77.3h1.4v1.4h-1.4zM409.9 75.9h1.4v1.4h-1.4zM411.3 66.7h1.4v1.4h-1.4zM403.4 77.3h1.4v1.4h-1.4zM407.7 76.4h1.4v1.4h-1.4zM418.5 64.7h1.4v1.4h-1.4zM416.1 72.2h1.4v1.4h-1.4zM413.3 65.5h1.4v1.4h-1.4zM417.2 62.3h1.4v1.4h-1.4zM419.3 62.8h1.4v1.4h-1.4z"/>
<path fill="#161616" fill-opacity="0.75" d="M429.2 58.5h1.3v1.3h-1.3zM439.3 43.1h1.3v1.3h-1.3zM440.1 44.9h1.3v1.3h-1.3zM422.2 56.9h1.3v1.3h-1.3zM449.5 31.2h1.3v1.3h-1.3zM433.5 50.9h1.3v1.3h-1.3zM442.0 38.5h1.3v1.3h-1.3zM456.0 26.7h1.3v1.3h-1.3zM424.1 59.9h1.3v1.3h-1.3zM445.9 35.8h1.3v1.3h-1.3zM433.0 48.3h1.3v1.3h-1.3zM425.2 62.2h1.3v1.3h-1.3zM452.6 29.0h1.3v1.3h-1.3zM438.1 42.7h1.3v1.3h-1.3zM417.2 60.8h1.3v1.3h-1.3zM427.5 55.0h1.3v1.3h-1.3zM423.6 54.7h1.3v1.3h-1.3zM428.4 48.3h1.3v1.3h-1.3zM438.4 39.5h1.3v1.3h-1.3zM440.5 36.6h1.3v1.3h-1.3zM434.0 46.6h1.3v1.3h-1.3zM417.5 66.5h1.3v1.3h-1.3zM440.8 41.7h1.3v1.3h-1.3zM416.3 64.1h1.3v1.3h-1.3zM439.4 41.7h1.3v1.3h-1.3zM432.0 44.7h1.3v1.3h-1.3zM423.7 53.9h1.3v1.3h-1.3zM429.3 50.3h1.3v1.3h-1.3zM445.9 36.0h1.3v1.3h-1.3zM449.3 38.6h1.3v1.3h-1.3zM424.0 57.6h1.3v1.3h-1.3zM430.7 54.3h1.3v1.3h-1.3zM457.5 27.2h1.3v1.3h-1.3zM440.9 41.7h1.3v1.3h-1.3zM427.3 57.0h1.3v1.3h-1.3zM431.7 54.8h1.3v1.3h-1.3zM446.2 32.6h1.3v1.3h-1.3zM437.4 37.9h1.3v1.3h-1.3zM420.7 63.7h1.3v1.3h-1.3zM419.0 66.5h1.3v1.3h-1.3zM420.4 68.0h1.3v1.3h-1.3zM440.8 39.7h1.3v1.3h-1.3zM425.0 55.3h1.3v1.3h-1.3zM442.0 40.1h1.3v1.3h-1.3zM446.5 36.8h1.3v1.3h-1.3zM428.2 54.3h1.3v1.3h-1.3zM441.6 39.6h1.3v1.3h-1.3zM429.5 51.5h1.3v1.3h-1.3zM422.2 59.4h1.3v1.3h-1.3zM439.3 38.8h1.3v1.3h-1.3zM426.0 49.7h1.3v1.3h-1.3zM436.9 43.1h1.3v1.3h-1.3zM436.8 43.4h1.3v1.3h-1.3zM456.3 33.5h1.3v1.3h-1.3zM429.1 46.8h1.3v1.3h-1.3zM442.3 38.7h1.3v1.3h-1.3zM439.3 39.8h1.3v1.3h-1.3zM424.1 64.3h1.3v1.3h-1.3zM445.5 37.8h1.3v1.3h-1.3zM452.2 34.1h1.3v1.3h-1.3zM444.9 33.6h1.3v1.3h-1.3z"/>
<path fill="#161616" d="M430.9 46.4h1.3v1.3h-1.3zM434.4 45.4h1.3v1.3h-1.3zM457.2 31.2h1.3v1.3h-1.3zM417.2 65.6h1.3v1.3h-1.3zM450.1 33.4h1.3v1.3h-1.3zM432.6 37.0h1.3v1.3h-1.3zM425.2 62.3h1.3v1.3h-1.3zM440.7 40.8h1.3v1.3h-1.3zM417.7 61.0h1.3v1.3h-1.3zM422.9 55.4h1.3v1.3h-1.3zM439.0 41.4h1.3v1.3h-1.3zM440.6 43.0h1.3v1.3h-1.3zM456.8 32.6h1.3v1.3h-1.3zM449.2 35.7h1.3v1.3h-1.3zM453.0 30.4h1.3v1.3h-1.3zM426.4 53.0h1.3v1.3h-1.3zM459.3 28.4h1.3v1.3h-1.3zM437.6 41.7h1.3v1.3h-1.3zM456.0 27.3h1.3v1.3h-1.3zM434.9 45.1h1.3v1.3h-1.3zM442.1 46.4h1.3v1.3h-1.3zM453.9 32.9h1.3v1.3h-1.3zM447.2 31.3h1.3v1.3h-1.3zM434.1 41.2h1.3v1.3h-1.3zM454.4 31.7h1.3v1.3h-1.3zM441.0 39.7h1.3v1.3h-1.3zM417.9 62.3h1.3v1.3h-1.3zM442.5 33.6h1.3v1.3h-1.3zM433.1 47.9h1.3v1.3h-1.3zM442.1 36.9h1.3v1.3h-1.3zM435.0 41.2h1.3v1.3h-1.3zM456.5 31.4h1.3v1.3h-1.3zM419.1 61.5h1.3v1.3h-1.3zM452.1 32.4h1.3v1.3h-1.3z"/>
<path fill="#161616" fill-opacity="0.5" d="M418.8 62.9h1.3v1.3h-1.3zM423.6 71.4h1.3v1.3h-1.3zM438.1 43.8h1.3v1.3h-1.3zM442.3 36.3h1.3v1.3h-1.3zM424.7 59.8h1.3v1.3h-1.3zM431.1 53.3h1.3v1.3h-1.3zM437.5 44.9h1.3v1.3h-1.3zM434.7 43.2h1.3v1.3h-1.3zM447.0 34.9h1.3v1.3h-1.3zM446.5 34.1h1.3v1.3h-1.3zM455.2 27.3h1.3v1.3h-1.3zM442.6 37.4h1.3v1.3h-1.3zM427.6 58.5h1.3v1.3h-1.3zM434.7 47.7h1.3v1.3h-1.3zM428.9 50.8h1.3v1.3h-1.3zM438.3 49.6h1.3v1.3h-1.3zM438.6 43.1h1.3v1.3h-1.3zM448.6 34.2h1.3v1.3h-1.3zM459.6 27.7h1.3v1.3h-1.3zM428.5 55.3h1.3v1.3h-1.3z"/>
</g>
<rect x="343.8" y="135.6" width="8.6" height="7.9" fill="#8692a6"/>
<clipPath id="clipD"><rect x="32.1" y="200" width="127.9" height="124.6"/></clipPath>
<g clip-path="url(#clipD)">
<path fill="#3c3c3c" fill-opacity="0.5" d="M79.6 306.0h1.2v1.2h-1.2zM97.6 286.4h1.2v1.2h-1.2zM107.2 238.1h1.2v1.2h-1.2zM88.5 293.3h1.2v1.2h-1.2zM55.6 345.0h1.2v1.2h-1.2zM80.1 308.9h1.2v1.2h-1.2zM33.8 338.2h1.2v1.2h-1.2zM40.5 271.6h1.2v1.2h-1.2zM45.4 341.1h1.2v1.2h-1.2zM67.4 262.6h1.2v1.2h-1.2zM47.8 268.7h1.2v1.2h-1.2zM100.2 266.2h1.2v1.2h-1.2zM57.8 266.1h1.2v1.2h-1.2zM57.0 322.9h1.2v1.2h-1.2zM121.6 240.6h1.2v1.2h-1.2zM111.9 247.4h1.2v1.2h-1.2zM96.0 279.6h1.2v1.2h-1.2zM116.8 271.1h1.2v1.2h-1.2zM97.0 286.8h1.2v1.2h-1.2zM117.6 268.9h1.2v1.2h-1.2zM84.9 305.8h1.2v1.2h-1.2zM66.4 326.1h1.2v1.2h-1.2zM72.0 267.7h1.2v1.2h-1.2zM43.5 350.7h1.2v1.2h-1.2zM45.3 285.4h1.2v1.2h-1.2zM70.6 260.9h1.2v1.2h-1.2zM111.7 232.2h1.2v1.2h-1.2zM107.6 278.4h1.2v1.2h-1.2zM38.2 275.8h1.2v1.2h-1.2zM69.5 322.4h1.2v1.2h-1.2zM118.7 267.1h1.2v1.2h-1.2zM96.8 287.1h1.2v1.2h-1.2zM38.4 353.0h1.2v1.2h-1.2zM108.1 281.5h1.2v1.2h-1.2zM36.5 345.0h1.2v1.2h-1.2zM83.9 294.2h1.2v1.2h-1.2zM74.5 304.2h1.2v1.2h-1.2zM44.7 338.4h1.2v1.2h-1.2zM47.3 344.7h1.2v1.2h-1.2zM120.2 279.7h1.2v1.2h-1.2zM40.7 341.6h1.2v1.2h-1.2zM68.3 310.6h1.2v1.2h-1.2zM120.8 272.3h1.2v1.2h-1.2zM124.1 262.6h1.2v1.2h-1.2zM38.5 353.8h1.2v1.2h-1.2zM41.9 270.3h1.2v1.2h-1.2zM74.5 307.0h1.2v1.2h-1.2zM112.4 245.0h1.2v1.2h-1.2zM100.8 270.1h1.2v1.2h-1.2zM58.7 328.4h1.2v1.2h-1.2zM71.2 311.6h1.2v1.2h-1.2zM94.9 244.0h1.2v1.2h-1.2zM98.0 268.8h1.2v1.2h-1.2zM102.1 232.5h1.2v1.2h-1.2zM86.9 301.7h1.2v1.2h-1.2zM124.0 267.2h1.2v1.2h-1.2zM40.1 344.3h1.2v1.2h-1.2zM103.0 270.4h1.2v1.2h-1.2zM101.2 241.2h1.2v1.2h-1.2zM85.7 294.2h1.2v1.2h-1.2zM121.6 246.8h1.2v1.2h-1.2zM81.3 302.8h1.2v1.2h-1.2zM56.8 334.7h1.2v1.2h-1.2z"/>
<path fill="#3c3c3c" fill-opacity="0.75" d="M86.4 286.0h1.2v1.2h-1.2zM97.5 267.4h1.2v1.2h-1.2zM81.6 307.7h1.2v1.2h-1.2zM121.0 240.6h1.2v1.2h-1.2zM39.0 278.4h1.2v1.2h-1.2zM90.7 247.4h1.2v1.2h-1.2zM94.9 241.9h1.2v1.2h-1.2zM33.5 293.9h1.2v1.2h-1.2zM79.3 306.0h1.2v1.2h-1.2zM82.3 312.0h1.2v1.2h-1.2zM116.6 273.6h1.2v1.2h-1.2zM115.2 274.2h1.2v1.2h-1.2zM74.4 305.3h1.2v1.2h-1.2zM99.3 238.4h1.2v1.2h-1.2zM69.3 307.9h1.2v1.2h-1.2zM79.7 299.7h1.2v1.2h-1.2zM56.7 343.4h1.2v1.2h-1.2zM106.0 232.5h1.2v1.2h-1.2zM58.6 270.3h1.2v1.2h-1.2zM121.2 273.3h1.2v1.2h-1.2zM45.8 354.4h1.2v1.2h-1.2zM99.2 246.6h1.2v1.2h-1.2zM70.0 315.0h1.2v1.2h-1.2zM85.4 260.0h1.2v1.2h-1.2zM81.9 265.3h1.2v1.2h-1.2zM56.6 331.1h1.2v1.2h-1.2zM117.4 266.5h1.2v1.2h-1.2zM77.1 270.0h1.2v1.2h-1.2zM42.7 338.0h1.2v1.2h-1.2zM101.6 231.3h1.2v1.2h-1.2zM74.0 320.0h1.2v1.2h-1.2zM120.3 245.4h1.2v1.2h-1.2zM60.9 328.2h1.2v1.2h-1.2zM37.4 345.1h1.2v1.2h-1.2zM60.6 331.8h1.2v1.2h-1.2zM102.1 276.8h1.2v1.2h-1.2zM102.1 241.4h1.2v1.2h-1.2zM68.3 322.6h1.2v1.2h-1.2zM72.5 317.8h1.2v1.2h-1.2z"/>
<path fill="#3c3c3c" fill-opacity="0.25" d="M117.8 259.6h1.2v1.2h-1.2zM50.8 342.0h1.2v1.2h-1.2zM117.8 248.6h1.2v1.2h-1.2zM36.1 295.4h1.2v1.2h-1.2zM106.0 275.9h1.2v1.2h-1.2zM99.4 237.7h1.2v1.2h-1.2zM69.9 310.1h1.2v1.2h-1.2zM41.7 338.7h1.2v1.2h-1.2z"/>
<path fill="#f2c0a6" d="M36.7 300.7h1.2v1.2h-1.2zM48.2 288.3h1.2v1.2h-1.2zM74.0 272.7h1.2v1.2h-1.2zM42.6 292.0h1.2v1.2h-1.2zM62.2 285.1h1.2v1.2h-1.2zM36.8 310.7h1.2v1.2h-1.2zM76.4 271.2h1.2v1.2h-1.2zM44.9 296.1h1.2v1.2h-1.2zM73.7 272.7h1.2v1.2h-1.2zM48.6 290.0h1.2v1.2h-1.2zM44.9 298.0h1.2v1.2h-1.2zM73.1 273.7h1.2v1.2h-1.2zM55.4 290.9h1.2v1.2h-1.2zM52.8 291.6h1.2v1.2h-1.2zM68.1 277.6h1.2v1.2h-1.2zM53.9 293.6h1.2v1.2h-1.2zM55.6 288.1h1.2v1.2h-1.2zM48.1 292.4h1.2v1.2h-1.2zM42.1 303.0h1.2v1.2h-1.2zM43.4 304.2h1.2v1.2h-1.2zM62.7 283.9h1.2v1.2h-1.2zM37.4 304.6h1.2v1.2h-1.2zM36.9 302.3h1.2v1.2h-1.2zM33.5 307.0h1.2v1.2h-1.2zM34.1 310.7h1.2v1.2h-1.2zM74.5 273.1h1.2v1.2h-1.2zM57.4 289.4h1.2v1.2h-1.2zM67.7 277.3h1.2v1.2h-1.2zM41.9 294.4h1.2v1.2h-1.2zM64.7 283.5h1.2v1.2h-1.2zM66.6 276.9h1.2v1.2h-1.2zM66.3 279.6h1.2v1.2h-1.2zM46.7 297.3h1.2v1.2h-1.2zM68.8 278.6h1.2v1.2h-1.2zM72.1 276.1h1.2v1.2h-1.2zM37.8 296.3h1.2v1.2h-1.2zM46.5 289.3h1.2v1.2h-1.2zM52.9 289.1h1.2v1.2h-1.2zM64.9 282.8h1.2v1.2h-1.2zM62.6 278.5h1.2v1.2h-1.2zM65.5 282.6h1.2v1.2h-1.2zM56.4 287.0h1.2v1.2h-1.2zM45.2 290.6h1.2v1.2h-1.2zM50.0 296.9h1.2v1.2h-1.2zM35.7 308.0h1.2v1.2h-1.2zM69.9 273.5h1.2v1.2h-1.2zM67.8 280.4h1.2v1.2h-1.2zM37.2 305.4h1.2v1.2h-1.2zM36.2 303.3h1.2v1.2h-1.2zM63.2 282.4h1.2v1.2h-1.2zM40.8 298.8h1.2v1.2h-1.2zM49.5 294.9h1.2v1.2h-1.2zM38.4 295.7h1.2v1.2h-1.2zM66.5 274.2h1.2v1.2h-1.2zM56.0 288.4h1.2v1.2h-1.2zM57.6 289.5h1.2v1.2h-1.2zM60.4 281.5h1.2v1.2h-1.2zM44.2 297.7h1.2v1.2h-1.2zM70.0 277.8h1.2v1.2h-1.2zM64.8 278.8h1.2v1.2h-1.2zM45.9 294.2h1.2v1.2h-1.2zM68.8 278.9h1.2v1.2h-1.2zM34.0 300.0h1.2v1.2h-1.2zM39.7 305.4h1.2v1.2h-1.2zM47.0 300.3h1.2v1.2h-1.2zM50.6 287.9h1.2v1.2h-1.2zM57.9 287.2h1.2v1.2h-1.2zM53.9 286.7h1.2v1.2h-1.2zM51.2 293.3h1.2v1.2h-1.2zM38.3 296.0h1.2v1.2h-1.2zM38.1 306.4h1.2v1.2h-1.2zM39.8 297.8h1.2v1.2h-1.2zM37.3 306.3h1.2v1.2h-1.2zM62.2 282.4h1.2v1.2h-1.2zM40.5 306.5h1.2v1.2h-1.2zM48.0 285.8h1.2v1.2h-1.2zM63.4 281.1h1.2v1.2h-1.2zM68.9 278.2h1.2v1.2h-1.2zM74.0 272.5h1.2v1.2h-1.2zM36.4 306.8h1.2v1.2h-1.2zM62.0 278.5h1.2v1.2h-1.2zM59.4 281.9h1.2v1.2h-1.2zM47.6 289.1h1.2v1.2h-1.2zM71.3 275.0h1.2v1.2h-1.2zM32.2 306.2h1.2v1.2h-1.2zM39.9 294.6h1.2v1.2h-1.2zM69.7 275.8h1.2v1.2h-1.2zM38.5 300.5h1.2v1.2h-1.2zM39.6 297.4h1.2v1.2h-1.2zM36.6 301.2h1.2v1.2h-1.2zM39.2 298.3h1.2v1.2h-1.2zM59.5 278.3h1.2v1.2h-1.2zM47.8 296.8h1.2v1.2h-1.2zM72.6 276.0h1.2v1.2h-1.2zM74.4 273.6h1.2v1.2h-1.2zM53.1 293.5h1.2v1.2h-1.2zM37.0 305.8h1.2v1.2h-1.2zM69.0 273.3h1.2v1.2h-1.2zM33.6 313.7h1.2v1.2h-1.2zM43.2 299.8h1.2v1.2h-1.2zM62.2 279.6h1.2v1.2h-1.2zM52.0 283.8h1.2v1.2h-1.2zM34.6 301.0h1.2v1.2h-1.2zM38.6 305.1h1.2v1.2h-1.2zM32.7 313.5h1.2v1.2h-1.2zM67.9 280.3h1.2v1.2h-1.2zM35.1 311.5h1.2v1.2h-1.2zM44.7 293.8h1.2v1.2h-1.2zM36.8 298.4h1.2v1.2h-1.2zM71.2 277.3h1.2v1.2h-1.2zM54.8 285.4h1.2v1.2h-1.2zM32.0 312.7h1.2v1.2h-1.2zM67.4 280.6h1.2v1.2h-1.2zM64.3 278.9h1.2v1.2h-1.2zM52.0 295.3h1.2v1.2h-1.2zM64.0 278.6h1.2v1.2h-1.2zM36.5 310.6h1.2v1.2h-1.2zM39.1 302.8h1.2v1.2h-1.2zM50.8 286.1h1.2v1.2h-1.2zM46.1 289.3h1.2v1.2h-1.2zM67.2 281.1h1.2v1.2h-1.2zM74.7 273.3h1.2v1.2h-1.2z"/>
<path fill="#e69a78" d="M44.9 289.1h1.2v1.2h-1.2zM69.4 274.1h1.2v1.2h-1.2zM72.8 275.4h1.2v1.2h-1.2zM34.5 304.2h1.2v1.2h-1.2zM73.3 272.6h1.2v1.2h-1.2zM33.3 312.3h1.2v1.2h-1.2zM45.9 301.1h1.2v1.2h-1.2zM75.5 271.7h1.2v1.2h-1.2zM57.5 288.3h1.2v1.2h-1.2zM62.3 279.6h1.2v1.2h-1.2zM68.1 278.2h1.2v1.2h-1.2zM48.9 292.0h1.2v1.2h-1.2zM47.3 288.0h1.2v1.2h-1.2zM47.3 298.2h1.2v1.2h-1.2zM39.1 300.8h1.2v1.2h-1.2zM43.6 295.5h1.2v1.2h-1.2zM31.7 309.3h1.2v1.2h-1.2zM70.6 276.4h1.2v1.2h-1.2zM51.2 295.9h1.2v1.2h-1.2zM31.8 309.4h1.2v1.2h-1.2zM62.0 283.6h1.2v1.2h-1.2zM32.8 313.5h1.2v1.2h-1.2zM35.9 308.8h1.2v1.2h-1.2zM58.6 287.1h1.2v1.2h-1.2zM70.5 273.9h1.2v1.2h-1.2zM65.0 281.4h1.2v1.2h-1.2zM76.6 271.9h1.2v1.2h-1.2zM64.3 280.8h1.2v1.2h-1.2zM49.8 297.3h1.2v1.2h-1.2zM75.2 272.8h1.2v1.2h-1.2zM35.7 307.7h1.2v1.2h-1.2zM63.3 277.9h1.2v1.2h-1.2zM59.3 287.6h1.2v1.2h-1.2zM56.5 284.2h1.2v1.2h-1.2zM36.5 307.0h1.2v1.2h-1.2zM61.5 285.1h1.2v1.2h-1.2zM48.2 296.7h1.2v1.2h-1.2zM48.0 290.8h1.2v1.2h-1.2zM61.6 284.3h1.2v1.2h-1.2zM65.9 276.6h1.2v1.2h-1.2zM33.8 300.3h1.2v1.2h-1.2zM34.1 312.9h1.2v1.2h-1.2zM31.7 313.3h1.2v1.2h-1.2zM56.1 289.8h1.2v1.2h-1.2zM77.3 271.1h1.2v1.2h-1.2zM53.9 291.3h1.2v1.2h-1.2zM32.9 299.8h1.2v1.2h-1.2zM46.5 295.8h1.2v1.2h-1.2zM48.3 285.9h1.2v1.2h-1.2zM61.1 277.2h1.2v1.2h-1.2zM62.9 284.0h1.2v1.2h-1.2zM35.8 299.0h1.2v1.2h-1.2zM37.4 299.0h1.2v1.2h-1.2zM71.3 274.3h1.2v1.2h-1.2zM41.5 305.7h1.2v1.2h-1.2zM66.5 279.6h1.2v1.2h-1.2zM68.3 274.8h1.2v1.2h-1.2zM44.4 298.2h1.2v1.2h-1.2zM49.1 294.6h1.2v1.2h-1.2zM74.1 273.7h1.2v1.2h-1.2zM64.4 279.7h1.2v1.2h-1.2zM41.2 297.3h1.2v1.2h-1.2zM76.9 271.6h1.2v1.2h-1.2zM55.6 284.6h1.2v1.2h-1.2zM46.7 288.2h1.2v1.2h-1.2zM63.8 282.3h1.2v1.2h-1.2zM74.7 274.1h1.2v1.2h-1.2zM72.4 274.1h1.2v1.2h-1.2zM35.9 311.7h1.2v1.2h-1.2zM35.0 310.7h1.2v1.2h-1.2zM35.1 308.8h1.2v1.2h-1.2zM66.8 280.3h1.2v1.2h-1.2zM59.7 284.7h1.2v1.2h-1.2zM55.8 290.6h1.2v1.2h-1.2zM44.1 291.1h1.2v1.2h-1.2zM51.9 295.0h1.2v1.2h-1.2zM42.9 302.1h1.2v1.2h-1.2zM53.5 286.7h1.2v1.2h-1.2zM49.5 293.6h1.2v1.2h-1.2zM56.5 283.5h1.2v1.2h-1.2zM34.5 310.7h1.2v1.2h-1.2zM54.4 286.8h1.2v1.2h-1.2zM73.0 273.9h1.2v1.2h-1.2zM42.1 301.7h1.2v1.2h-1.2zM77.2 271.5h1.2v1.2h-1.2zM50.7 295.4h1.2v1.2h-1.2zM71.8 274.7h1.2v1.2h-1.2zM69.9 278.4h1.2v1.2h-1.2zM50.0 290.2h1.2v1.2h-1.2zM36.0 300.0h1.2v1.2h-1.2zM53.8 284.3h1.2v1.2h-1.2zM53.0 291.0h1.2v1.2h-1.2zM43.7 291.4h1.2v1.2h-1.2zM35.0 312.3h1.2v1.2h-1.2zM34.8 312.6h1.2v1.2h-1.2zM33.3 309.7h1.2v1.2h-1.2zM62.8 282.3h1.2v1.2h-1.2zM43.0 301.5h1.2v1.2h-1.2zM32.5 312.2h1.2v1.2h-1.2zM51.9 291.5h1.2v1.2h-1.2zM49.4 297.3h1.2v1.2h-1.2zM41.1 306.1h1.2v1.2h-1.2zM57.5 284.7h1.2v1.2h-1.2zM70.3 275.1h1.2v1.2h-1.2zM50.7 292.4h1.2v1.2h-1.2zM73.1 275.5h1.2v1.2h-1.2z"/>
<path fill="#8a7068" d="M73.0 272.1h1.2v1.2h-1.2zM35.1 308.0h1.2v1.2h-1.2zM52.0 287.4h1.2v1.2h-1.2zM39.2 304.6h1.2v1.2h-1.2zM45.1 302.0h1.2v1.2h-1.2zM32.9 301.2h1.2v1.2h-1.2zM77.1 271.9h1.2v1.2h-1.2zM66.4 279.2h1.2v1.2h-1.2zM41.2 305.0h1.2v1.2h-1.2zM45.3 292.1h1.2v1.2h-1.2zM46.2 290.5h1.2v1.2h-1.2zM67.5 277.0h1.2v1.2h-1.2zM33.3 313.6h1.2v1.2h-1.2zM62.2 283.3h1.2v1.2h-1.2zM41.3 295.5h1.2v1.2h-1.2zM34.5 305.3h1.2v1.2h-1.2zM59.4 287.2h1.2v1.2h-1.2zM46.7 292.4h1.2v1.2h-1.2zM62.1 279.0h1.2v1.2h-1.2zM52.2 293.1h1.2v1.2h-1.2zM69.4 277.7h1.2v1.2h-1.2zM32.4 302.9h1.2v1.2h-1.2zM52.2 290.6h1.2v1.2h-1.2zM48.7 289.8h1.2v1.2h-1.2zM67.2 277.4h1.2v1.2h-1.2zM39.6 308.1h1.2v1.2h-1.2zM72.4 274.2h1.2v1.2h-1.2zM64.5 281.1h1.2v1.2h-1.2zM42.5 304.4h1.2v1.2h-1.2zM70.9 274.2h1.2v1.2h-1.2zM34.0 307.9h1.2v1.2h-1.2zM37.8 305.2h1.2v1.2h-1.2zM47.1 290.7h1.2v1.2h-1.2zM74.9 271.9h1.2v1.2h-1.2zM63.0 284.3h1.2v1.2h-1.2zM71.1 274.5h1.2v1.2h-1.2zM44.1 295.2h1.2v1.2h-1.2zM48.6 286.7h1.2v1.2h-1.2zM66.2 275.4h1.2v1.2h-1.2zM48.4 293.4h1.2v1.2h-1.2zM39.9 300.6h1.2v1.2h-1.2zM44.1 301.4h1.2v1.2h-1.2zM47.8 287.8h1.2v1.2h-1.2zM47.7 290.1h1.2v1.2h-1.2zM62.9 282.3h1.2v1.2h-1.2zM75.6 271.6h1.2v1.2h-1.2zM74.2 274.0h1.2v1.2h-1.2zM44.1 301.0h1.2v1.2h-1.2zM56.3 283.0h1.2v1.2h-1.2zM61.9 281.0h1.2v1.2h-1.2zM60.4 280.5h1.2v1.2h-1.2zM43.6 299.3h1.2v1.2h-1.2zM72.5 272.6h1.2v1.2h-1.2zM35.8 309.4h1.2v1.2h-1.2zM34.0 298.1h1.2v1.2h-1.2zM33.2 313.8h1.2v1.2h-1.2zM64.3 275.0h1.2v1.2h-1.2zM36.5 299.2h1.2v1.2h-1.2zM34.0 300.6h1.2v1.2h-1.2zM57.9 280.4h1.2v1.2h-1.2zM67.6 277.5h1.2v1.2h-1.2zM57.3 290.1h1.2v1.2h-1.2zM38.0 301.6h1.2v1.2h-1.2zM62.4 278.1h1.2v1.2h-1.2zM47.3 298.8h1.2v1.2h-1.2zM42.7 301.3h1.2v1.2h-1.2zM63.5 281.3h1.2v1.2h-1.2zM60.7 286.9h1.2v1.2h-1.2zM73.4 274.6h1.2v1.2h-1.2zM71.4 276.2h1.2v1.2h-1.2zM71.2 273.4h1.2v1.2h-1.2zM66.0 278.8h1.2v1.2h-1.2z"/>
<path fill="#ea9a78" d="M52.5 291.4h1.3v1.3h-1.3zM52.3 293.1h1.3v1.3h-1.3zM35.6 310.7h1.3v1.3h-1.3zM60.5 284.0h1.3v1.3h-1.3zM66.9 279.6h1.3v1.3h-1.3zM72.9 275.6h1.3v1.3h-1.3zM51.9 293.2h1.3v1.3h-1.3zM49.9 293.6h1.3v1.3h-1.3zM47.7 296.8h1.3v1.3h-1.3zM33.8 309.6h1.3v1.3h-1.3zM65.2 281.6h1.3v1.3h-1.3zM50.6 295.4h1.3v1.3h-1.3zM60.6 284.0h1.3v1.3h-1.3zM50.9 296.5h1.3v1.3h-1.3zM50.0 297.1h1.3v1.3h-1.3zM62.4 283.8h1.3v1.3h-1.3zM45.5 299.7h1.3v1.3h-1.3zM61.4 285.3h1.3v1.3h-1.3zM50.4 295.0h1.3v1.3h-1.3zM58.2 288.2h1.3v1.3h-1.3zM37.3 307.7h1.3v1.3h-1.3zM51.8 293.3h1.3v1.3h-1.3zM72.0 276.2h1.3v1.3h-1.3zM69.1 278.1h1.3v1.3h-1.3zM57.4 286.7h1.3v1.3h-1.3zM47.3 298.1h1.3v1.3h-1.3zM51.9 291.8h1.3v1.3h-1.3zM51.6 293.5h1.3v1.3h-1.3zM48.2 296.1h1.3v1.3h-1.3zM68.0 279.3h1.3v1.3h-1.3zM71.1 276.9h1.3v1.3h-1.3zM33.5 312.3h1.3v1.3h-1.3zM45.7 299.6h1.3v1.3h-1.3zM52.6 293.5h1.3v1.3h-1.3zM42.9 304.7h1.3v1.3h-1.3zM53.5 290.5h1.3v1.3h-1.3zM65.6 282.2h1.3v1.3h-1.3zM31.9 314.4h1.3v1.3h-1.3zM57.4 286.8h1.3v1.3h-1.3zM62.5 283.8h1.3v1.3h-1.3zM40.2 307.5h1.3v1.3h-1.3zM31.7 315.3h1.3v1.3h-1.3zM58.7 287.5h1.3v1.3h-1.3zM61.6 283.1h1.3v1.3h-1.3zM59.4 288.3h1.3v1.3h-1.3zM61.5 283.9h1.3v1.3h-1.3zM55.7 288.5h1.3v1.3h-1.3zM64.3 282.0h1.3v1.3h-1.3zM52.9 292.7h1.3v1.3h-1.3zM36.7 306.7h1.3v1.3h-1.3zM34.3 310.3h1.3v1.3h-1.3zM39.3 307.0h1.3v1.3h-1.3zM59.4 285.5h1.3v1.3h-1.3zM72.4 276.0h1.3v1.3h-1.3zM37.1 306.5h1.3v1.3h-1.3zM41.7 301.8h1.3v1.3h-1.3zM61.7 284.3h1.3v1.3h-1.3zM49.9 297.2h1.3v1.3h-1.3zM53.9 290.4h1.3v1.3h-1.3zM53.8 292.0h1.3v1.3h-1.3zM39.5 306.8h1.3v1.3h-1.3zM42.4 302.1h1.3v1.3h-1.3zM34.3 309.9h1.3v1.3h-1.3zM41.7 301.9h1.3v1.3h-1.3zM43.3 302.9h1.3v1.3h-1.3zM60.0 287.9h1.3v1.3h-1.3zM69.1 279.0h1.3v1.3h-1.3zM35.6 309.6h1.3v1.3h-1.3zM73.9 274.8h1.3v1.3h-1.3zM69.0 278.7h1.3v1.3h-1.3zM43.1 303.6h1.3v1.3h-1.3zM43.9 299.9h1.3v1.3h-1.3zM54.8 290.2h1.3v1.3h-1.3zM46.3 301.1h1.3v1.3h-1.3zM67.1 280.0h1.3v1.3h-1.3zM39.9 305.6h1.3v1.3h-1.3zM43.0 300.6h1.3v1.3h-1.3zM38.1 305.6h1.3v1.3h-1.3zM62.8 282.4h1.3v1.3h-1.3zM60.9 284.1h1.3v1.3h-1.3zM54.7 292.4h1.3v1.3h-1.3zM44.5 302.1h1.3v1.3h-1.3zM33.6 313.2h1.3v1.3h-1.3zM73.8 275.0h1.3v1.3h-1.3zM32.9 312.1h1.3v1.3h-1.3zM68.7 279.2h1.3v1.3h-1.3z"/>
<path fill="#de7c56" d="M34.9 311.8h1.3v1.3h-1.3zM42.8 301.2h1.3v1.3h-1.3zM57.0 287.5h1.3v1.3h-1.3zM62.0 284.7h1.3v1.3h-1.3zM56.7 290.4h1.3v1.3h-1.3zM52.8 293.3h1.3v1.3h-1.3zM69.0 278.1h1.3v1.3h-1.3zM55.7 288.4h1.3v1.3h-1.3zM42.1 305.1h1.3v1.3h-1.3zM48.7 297.2h1.3v1.3h-1.3zM70.7 277.5h1.3v1.3h-1.3zM38.1 308.5h1.3v1.3h-1.3zM65.2 281.4h1.3v1.3h-1.3zM58.3 288.6h1.3v1.3h-1.3zM71.3 276.9h1.3v1.3h-1.3zM53.4 292.2h1.3v1.3h-1.3zM60.8 285.7h1.3v1.3h-1.3zM37.3 306.6h1.3v1.3h-1.3zM36.7 308.6h1.3v1.3h-1.3zM43.6 300.7h1.3v1.3h-1.3zM31.5 314.5h1.3v1.3h-1.3zM51.7 293.9h1.3v1.3h-1.3zM55.4 288.9h1.3v1.3h-1.3zM58.6 288.5h1.3v1.3h-1.3zM70.1 277.8h1.3v1.3h-1.3zM32.1 312.9h1.3v1.3h-1.3zM51.9 294.1h1.3v1.3h-1.3zM69.0 278.9h1.3v1.3h-1.3zM32.1 312.3h1.3v1.3h-1.3zM61.7 284.5h1.3v1.3h-1.3zM70.1 277.5h1.3v1.3h-1.3zM59.9 286.5h1.3v1.3h-1.3zM53.1 293.4h1.3v1.3h-1.3zM39.2 304.6h1.3v1.3h-1.3zM59.9 286.8h1.3v1.3h-1.3zM33.9 309.5h1.3v1.3h-1.3zM66.1 281.0h1.3v1.3h-1.3zM43.7 301.1h1.3v1.3h-1.3zM66.5 281.1h1.3v1.3h-1.3zM50.0 296.0h1.3v1.3h-1.3zM50.6 293.7h1.3v1.3h-1.3zM57.4 286.5h1.3v1.3h-1.3zM55.4 288.7h1.3v1.3h-1.3zM70.1 278.3h1.3v1.3h-1.3zM59.4 285.3h1.3v1.3h-1.3zM50.7 296.2h1.3v1.3h-1.3zM41.1 304.0h1.3v1.3h-1.3zM51.4 294.7h1.3v1.3h-1.3zM37.2 309.3h1.3v1.3h-1.3zM71.8 276.3h1.3v1.3h-1.3zM63.9 284.1h1.3v1.3h-1.3zM74.2 274.6h1.3v1.3h-1.3zM66.2 281.1h1.3v1.3h-1.3zM53.7 290.9h1.3v1.3h-1.3zM35.5 309.3h1.3v1.3h-1.3zM72.6 275.7h1.3v1.3h-1.3zM49.1 295.1h1.3v1.3h-1.3zM51.1 293.9h1.3v1.3h-1.3zM35.2 310.6h1.3v1.3h-1.3zM32.1 312.5h1.3v1.3h-1.3zM49.6 297.4h1.3v1.3h-1.3zM58.0 286.5h1.3v1.3h-1.3zM67.7 280.5h1.3v1.3h-1.3zM40.6 305.5h1.3v1.3h-1.3zM59.2 285.3h1.3v1.3h-1.3zM46.2 297.8h1.3v1.3h-1.3zM39.7 304.1h1.3v1.3h-1.3zM63.4 284.0h1.3v1.3h-1.3zM33.1 312.1h1.3v1.3h-1.3zM33.0 310.8h1.3v1.3h-1.3zM61.8 283.4h1.3v1.3h-1.3zM59.2 287.3h1.3v1.3h-1.3zM72.6 276.0h1.3v1.3h-1.3zM41.4 306.3h1.3v1.3h-1.3zM62.0 284.0h1.3v1.3h-1.3zM36.7 307.0h1.3v1.3h-1.3zM51.6 293.1h1.3v1.3h-1.3zM56.5 288.2h1.3v1.3h-1.3zM70.3 278.2h1.3v1.3h-1.3zM53.4 290.5h1.3v1.3h-1.3zM54.5 289.7h1.3v1.3h-1.3zM58.7 285.9h1.3v1.3h-1.3zM50.8 296.0h1.3v1.3h-1.3zM42.7 305.0h1.3v1.3h-1.3zM51.5 294.2h1.3v1.3h-1.3zM66.8 281.0h1.3v1.3h-1.3zM54.9 290.8h1.3v1.3h-1.3zM69.5 278.3h1.3v1.3h-1.3zM45.9 300.3h1.3v1.3h-1.3zM43.0 300.7h1.3v1.3h-1.3zM34.6 310.9h1.3v1.3h-1.3zM72.6 275.8h1.3v1.3h-1.3zM49.5 295.9h1.3v1.3h-1.3zM66.2 280.6h1.3v1.3h-1.3zM33.7 312.2h1.3v1.3h-1.3zM63.4 283.3h1.3v1.3h-1.3zM69.7 278.5h1.3v1.3h-1.3zM43.9 302.0h1.3v1.3h-1.3zM32.2 311.7h1.3v1.3h-1.3zM52.5 294.9h1.3v1.3h-1.3zM69.3 279.0h1.3v1.3h-1.3zM58.7 286.5h1.3v1.3h-1.3zM42.9 301.4h1.3v1.3h-1.3zM58.0 286.1h1.3v1.3h-1.3zM55.0 291.0h1.3v1.3h-1.3zM64.8 283.0h1.3v1.3h-1.3zM57.1 290.5h1.3v1.3h-1.3zM47.8 295.7h1.3v1.3h-1.3zM45.1 299.1h1.3v1.3h-1.3zM39.9 304.5h1.3v1.3h-1.3zM34.7 311.2h1.3v1.3h-1.3zM60.3 285.8h1.3v1.3h-1.3zM42.5 302.5h1.3v1.3h-1.3zM53.7 293.7h1.3v1.3h-1.3zM50.1 296.8h1.3v1.3h-1.3zM69.2 277.9h1.3v1.3h-1.3zM58.7 288.3h1.3v1.3h-1.3zM35.3 308.2h1.3v1.3h-1.3zM62.0 286.1h1.3v1.3h-1.3zM68.3 279.0h1.3v1.3h-1.3zM42.7 303.4h1.3v1.3h-1.3zM68.7 278.3h1.3v1.3h-1.3zM60.5 287.6h1.3v1.3h-1.3zM50.8 294.4h1.3v1.3h-1.3zM33.5 309.5h1.3v1.3h-1.3zM46.6 298.2h1.3v1.3h-1.3zM52.4 291.7h1.3v1.3h-1.3zM42.9 304.8h1.3v1.3h-1.3zM72.0 276.3h1.3v1.3h-1.3zM61.6 284.8h1.3v1.3h-1.3zM57.7 288.0h1.3v1.3h-1.3zM57.9 288.6h1.3v1.3h-1.3zM42.4 303.9h1.3v1.3h-1.3zM53.9 290.1h1.3v1.3h-1.3zM43.2 302.8h1.3v1.3h-1.3zM42.1 304.3h1.3v1.3h-1.3zM60.7 286.7h1.3v1.3h-1.3zM44.6 299.7h1.3v1.3h-1.3zM67.7 280.5h1.3v1.3h-1.3zM32.9 312.8h1.3v1.3h-1.3zM53.4 291.1h1.3v1.3h-1.3zM41.4 303.8h1.3v1.3h-1.3zM69.9 277.7h1.3v1.3h-1.3zM36.1 309.8h1.3v1.3h-1.3zM41.0 304.2h1.3v1.3h-1.3zM52.1 293.3h1.3v1.3h-1.3zM35.5 310.4h1.3v1.3h-1.3zM64.6 281.9h1.3v1.3h-1.3zM31.6 311.9h1.3v1.3h-1.3zM61.7 286.2h1.3v1.3h-1.3zM69.1 278.2h1.3v1.3h-1.3zM61.0 283.6h1.3v1.3h-1.3zM35.6 308.5h1.3v1.3h-1.3zM38.7 304.6h1.3v1.3h-1.3zM72.9 275.5h1.3v1.3h-1.3zM47.9 298.0h1.3v1.3h-1.3zM41.5 302.3h1.3v1.3h-1.3zM39.6 306.1h1.3v1.3h-1.3zM59.8 287.4h1.3v1.3h-1.3zM72.5 275.8h1.3v1.3h-1.3zM54.2 290.0h1.3v1.3h-1.3zM54.2 293.2h1.3v1.3h-1.3zM69.2 278.5h1.3v1.3h-1.3zM63.8 282.1h1.3v1.3h-1.3zM49.6 295.0h1.3v1.3h-1.3zM42.4 302.2h1.3v1.3h-1.3zM32.9 310.2h1.3v1.3h-1.3zM42.9 304.3h1.3v1.3h-1.3zM64.7 283.4h1.3v1.3h-1.3zM36.9 308.9h1.3v1.3h-1.3zM46.9 297.3h1.3v1.3h-1.3zM39.3 306.6h1.3v1.3h-1.3z"/>
<path fill="#6e4434" d="M45.6 300.1h1.3v1.3h-1.3zM69.1 278.5h1.3v1.3h-1.3zM31.8 311.6h1.3v1.3h-1.3zM66.7 280.6h1.3v1.3h-1.3zM33.9 313.5h1.3v1.3h-1.3zM44.5 300.8h1.3v1.3h-1.3zM50.2 293.6h1.3v1.3h-1.3zM69.7 278.3h1.3v1.3h-1.3zM63.2 282.2h1.3v1.3h-1.3zM42.9 301.4h1.3v1.3h-1.3zM54.4 292.0h1.3v1.3h-1.3zM69.1 278.7h1.3v1.3h-1.3zM52.2 294.1h1.3v1.3h-1.3zM48.2 298.3h1.3v1.3h-1.3zM55.1 289.4h1.3v1.3h-1.3zM56.9 289.0h1.3v1.3h-1.3zM53.2 292.2h1.3v1.3h-1.3zM72.4 275.9h1.3v1.3h-1.3zM43.6 300.5h1.3v1.3h-1.3zM43.2 300.1h1.3v1.3h-1.3zM59.7 286.3h1.3v1.3h-1.3zM58.2 286.2h1.3v1.3h-1.3zM69.6 278.8h1.3v1.3h-1.3zM56.6 291.0h1.3v1.3h-1.3zM67.0 280.2h1.3v1.3h-1.3zM33.0 314.3h1.3v1.3h-1.3zM39.1 305.4h1.3v1.3h-1.3zM57.9 286.2h1.3v1.3h-1.3zM53.1 293.5h1.3v1.3h-1.3zM70.0 277.5h1.3v1.3h-1.3zM41.3 306.1h1.3v1.3h-1.3zM31.4 313.1h1.3v1.3h-1.3zM48.8 296.2h1.3v1.3h-1.3zM56.7 287.8h1.3v1.3h-1.3zM41.5 302.3h1.3v1.3h-1.3zM52.2 295.1h1.3v1.3h-1.3zM73.4 275.2h1.3v1.3h-1.3zM53.9 290.2h1.3v1.3h-1.3zM63.5 283.2h1.3v1.3h-1.3zM57.9 289.4h1.3v1.3h-1.3zM68.1 279.1h1.3v1.3h-1.3zM64.4 281.4h1.3v1.3h-1.3zM53.6 290.1h1.3v1.3h-1.3zM47.7 298.0h1.3v1.3h-1.3zM36.4 310.0h1.3v1.3h-1.3zM61.8 284.4h1.3v1.3h-1.3zM53.7 291.7h1.3v1.3h-1.3zM31.4 312.4h1.3v1.3h-1.3zM38.4 308.7h1.3v1.3h-1.3zM51.2 292.6h1.3v1.3h-1.3zM63.4 282.3h1.3v1.3h-1.3zM58.3 285.9h1.3v1.3h-1.3zM67.0 279.5h1.3v1.3h-1.3zM42.3 303.7h1.3v1.3h-1.3zM41.3 304.7h1.3v1.3h-1.3zM60.5 285.1h1.3v1.3h-1.3zM69.3 279.0h1.3v1.3h-1.3zM51.2 295.4h1.3v1.3h-1.3zM47.1 297.2h1.3v1.3h-1.3zM69.1 278.1h1.3v1.3h-1.3zM51.9 292.3h1.3v1.3h-1.3zM31.8 314.7h1.3v1.3h-1.3zM55.2 292.7h1.3v1.3h-1.3zM51.4 293.0h1.3v1.3h-1.3zM40.2 303.7h1.3v1.3h-1.3zM50.8 294.9h1.3v1.3h-1.3zM52.6 293.9h1.3v1.3h-1.3zM46.1 299.7h1.3v1.3h-1.3zM40.5 304.2h1.3v1.3h-1.3zM36.1 310.9h1.3v1.3h-1.3zM65.0 280.8h1.3v1.3h-1.3zM54.6 293.2h1.3v1.3h-1.3z"/>
<path fill="#9cc4ba" d="M50.8 324.5h1.2v1.2h-1.2zM83.7 281.4h1.2v1.2h-1.2zM90.8 272.9h1.2v1.2h-1.2zM55.5 309.6h1.2v1.2h-1.2zM65.3 306.1h1.2v1.2h-1.2zM49.1 327.5h1.2v1.2h-1.2zM95.2 269.5h1.2v1.2h-1.2zM54.7 313.2h1.2v1.2h-1.2zM70.2 291.5h1.2v1.2h-1.2zM104.7 258.4h1.2v1.2h-1.2zM100.4 258.2h1.2v1.2h-1.2zM85.8 275.8h1.2v1.2h-1.2zM56.6 312.6h1.2v1.2h-1.2zM53.0 317.8h1.2v1.2h-1.2zM86.0 280.4h1.2v1.2h-1.2zM45.7 326.6h1.2v1.2h-1.2zM77.6 286.0h1.2v1.2h-1.2zM100.1 262.2h1.2v1.2h-1.2zM44.1 331.5h1.2v1.2h-1.2zM81.5 287.9h1.2v1.2h-1.2zM109.2 258.0h1.2v1.2h-1.2zM77.3 293.3h1.2v1.2h-1.2zM68.9 302.7h1.2v1.2h-1.2zM69.1 306.3h1.2v1.2h-1.2zM74.1 298.0h1.2v1.2h-1.2zM68.2 298.2h1.2v1.2h-1.2zM67.5 296.5h1.2v1.2h-1.2zM88.3 277.5h1.2v1.2h-1.2zM97.5 261.3h1.2v1.2h-1.2zM101.6 261.0h1.2v1.2h-1.2zM75.1 288.8h1.2v1.2h-1.2zM99.3 262.1h1.2v1.2h-1.2zM54.6 311.8h1.2v1.2h-1.2zM86.7 279.6h1.2v1.2h-1.2zM48.8 328.5h1.2v1.2h-1.2zM75.0 298.4h1.2v1.2h-1.2zM50.3 319.3h1.2v1.2h-1.2zM97.4 263.6h1.2v1.2h-1.2zM49.8 322.2h1.2v1.2h-1.2zM68.5 295.8h1.2v1.2h-1.2zM52.7 312.5h1.2v1.2h-1.2zM106.8 259.1h1.2v1.2h-1.2zM98.8 258.5h1.2v1.2h-1.2zM85.6 280.3h1.2v1.2h-1.2zM45.9 323.1h1.2v1.2h-1.2zM84.4 277.8h1.2v1.2h-1.2zM64.4 309.9h1.2v1.2h-1.2zM76.5 285.3h1.2v1.2h-1.2zM80.5 291.7h1.2v1.2h-1.2zM48.9 326.3h1.2v1.2h-1.2zM60.5 304.1h1.2v1.2h-1.2zM64.4 309.4h1.2v1.2h-1.2zM59.3 310.5h1.2v1.2h-1.2zM66.5 298.3h1.2v1.2h-1.2zM84.8 277.6h1.2v1.2h-1.2zM70.3 292.0h1.2v1.2h-1.2zM87.6 275.5h1.2v1.2h-1.2zM71.3 293.9h1.2v1.2h-1.2zM62.9 300.7h1.2v1.2h-1.2zM90.2 278.5h1.2v1.2h-1.2zM44.6 322.3h1.2v1.2h-1.2zM78.9 283.4h1.2v1.2h-1.2zM51.9 313.6h1.2v1.2h-1.2zM62.8 302.6h1.2v1.2h-1.2zM89.5 270.5h1.2v1.2h-1.2zM106.7 259.2h1.2v1.2h-1.2zM104.3 260.8h1.2v1.2h-1.2zM83.1 283.8h1.2v1.2h-1.2zM46.3 322.6h1.2v1.2h-1.2zM103.8 259.7h1.2v1.2h-1.2zM70.8 293.9h1.2v1.2h-1.2zM85.5 284.5h1.2v1.2h-1.2zM84.8 283.2h1.2v1.2h-1.2zM94.4 268.8h1.2v1.2h-1.2zM102.1 259.5h1.2v1.2h-1.2zM98.5 263.7h1.2v1.2h-1.2zM61.8 300.9h1.2v1.2h-1.2zM80.2 286.7h1.2v1.2h-1.2zM89.3 273.7h1.2v1.2h-1.2zM46.3 323.4h1.2v1.2h-1.2zM63.1 301.4h1.2v1.2h-1.2zM106.9 259.5h1.2v1.2h-1.2zM76.0 288.5h1.2v1.2h-1.2zM47.5 321.0h1.2v1.2h-1.2zM69.9 303.5h1.2v1.2h-1.2zM47.7 322.6h1.2v1.2h-1.2zM46.0 332.0h1.2v1.2h-1.2zM76.4 286.5h1.2v1.2h-1.2zM44.7 332.6h1.2v1.2h-1.2zM74.2 292.5h1.2v1.2h-1.2zM86.3 278.0h1.2v1.2h-1.2zM42.4 327.9h1.2v1.2h-1.2zM85.3 277.1h1.2v1.2h-1.2zM64.9 299.1h1.2v1.2h-1.2zM64.6 298.6h1.2v1.2h-1.2zM48.6 321.5h1.2v1.2h-1.2zM101.2 262.0h1.2v1.2h-1.2zM44.7 333.4h1.2v1.2h-1.2zM63.7 303.3h1.2v1.2h-1.2zM98.4 262.0h1.2v1.2h-1.2zM100.8 261.5h1.2v1.2h-1.2zM96.6 261.0h1.2v1.2h-1.2zM77.9 290.5h1.2v1.2h-1.2zM43.4 322.8h1.2v1.2h-1.2zM93.7 268.7h1.2v1.2h-1.2zM79.2 291.8h1.2v1.2h-1.2zM93.5 271.6h1.2v1.2h-1.2zM55.4 315.6h1.2v1.2h-1.2zM90.3 271.8h1.2v1.2h-1.2zM54.9 313.8h1.2v1.2h-1.2zM101.0 259.4h1.2v1.2h-1.2zM63.8 300.7h1.2v1.2h-1.2zM94.9 267.6h1.2v1.2h-1.2zM45.5 324.6h1.2v1.2h-1.2zM80.6 285.3h1.2v1.2h-1.2zM91.6 272.7h1.2v1.2h-1.2zM62.0 302.4h1.2v1.2h-1.2zM103.4 259.6h1.2v1.2h-1.2zM59.1 311.1h1.2v1.2h-1.2zM101.0 258.5h1.2v1.2h-1.2zM83.6 287.6h1.2v1.2h-1.2zM88.6 275.4h1.2v1.2h-1.2zM95.5 267.8h1.2v1.2h-1.2zM101.6 262.7h1.2v1.2h-1.2zM104.3 260.9h1.2v1.2h-1.2zM65.7 296.8h1.2v1.2h-1.2zM85.3 278.1h1.2v1.2h-1.2zM101.0 261.3h1.2v1.2h-1.2zM64.3 303.5h1.2v1.2h-1.2zM56.7 321.2h1.2v1.2h-1.2zM44.0 327.3h1.2v1.2h-1.2zM65.4 308.6h1.2v1.2h-1.2zM73.2 296.9h1.2v1.2h-1.2zM103.1 258.0h1.2v1.2h-1.2zM95.7 267.7h1.2v1.2h-1.2zM89.1 271.3h1.2v1.2h-1.2zM98.5 263.3h1.2v1.2h-1.2zM92.9 267.4h1.2v1.2h-1.2zM43.2 334.9h1.2v1.2h-1.2zM84.4 282.1h1.2v1.2h-1.2zM84.4 277.2h1.2v1.2h-1.2zM43.5 325.3h1.2v1.2h-1.2zM70.8 299.7h1.2v1.2h-1.2zM61.9 300.7h1.2v1.2h-1.2zM77.4 291.7h1.2v1.2h-1.2zM79.6 284.9h1.2v1.2h-1.2zM88.0 278.0h1.2v1.2h-1.2zM69.0 301.2h1.2v1.2h-1.2zM103.1 260.0h1.2v1.2h-1.2zM59.5 318.3h1.2v1.2h-1.2zM93.0 274.5h1.2v1.2h-1.2zM43.0 324.4h1.2v1.2h-1.2zM103.7 258.5h1.2v1.2h-1.2zM69.0 305.5h1.2v1.2h-1.2zM47.4 320.4h1.2v1.2h-1.2z"/>
<path fill="#62767a" d="M55.7 317.8h1.2v1.2h-1.2zM95.8 268.8h1.2v1.2h-1.2zM72.4 289.0h1.2v1.2h-1.2zM43.0 330.5h1.2v1.2h-1.2zM92.3 271.9h1.2v1.2h-1.2zM76.0 294.6h1.2v1.2h-1.2zM61.1 316.0h1.2v1.2h-1.2zM102.3 258.2h1.2v1.2h-1.2zM58.0 307.6h1.2v1.2h-1.2zM105.8 259.1h1.2v1.2h-1.2zM65.6 299.2h1.2v1.2h-1.2zM97.9 261.5h1.2v1.2h-1.2zM44.5 323.8h1.2v1.2h-1.2zM107.0 258.3h1.2v1.2h-1.2zM50.3 316.4h1.2v1.2h-1.2zM105.4 260.0h1.2v1.2h-1.2zM108.9 258.0h1.2v1.2h-1.2zM83.1 278.6h1.2v1.2h-1.2zM61.3 314.9h1.2v1.2h-1.2zM74.6 291.7h1.2v1.2h-1.2zM79.9 288.3h1.2v1.2h-1.2zM55.6 309.4h1.2v1.2h-1.2zM55.1 315.5h1.2v1.2h-1.2zM80.9 291.0h1.2v1.2h-1.2zM82.2 284.5h1.2v1.2h-1.2zM65.7 296.9h1.2v1.2h-1.2zM74.5 296.6h1.2v1.2h-1.2zM64.6 300.0h1.2v1.2h-1.2zM59.4 316.6h1.2v1.2h-1.2zM100.2 261.0h1.2v1.2h-1.2zM64.8 298.7h1.2v1.2h-1.2zM80.3 284.9h1.2v1.2h-1.2zM79.6 288.0h1.2v1.2h-1.2zM102.1 258.6h1.2v1.2h-1.2zM66.7 300.9h1.2v1.2h-1.2zM105.8 258.1h1.2v1.2h-1.2zM100.1 263.4h1.2v1.2h-1.2zM96.8 262.3h1.2v1.2h-1.2zM76.1 287.2h1.2v1.2h-1.2zM107.6 258.4h1.2v1.2h-1.2zM43.2 334.8h1.2v1.2h-1.2zM74.6 296.6h1.2v1.2h-1.2zM100.5 261.9h1.2v1.2h-1.2zM60.7 311.7h1.2v1.2h-1.2zM53.0 311.7h1.2v1.2h-1.2zM105.7 258.0h1.2v1.2h-1.2zM66.5 295.4h1.2v1.2h-1.2zM59.9 303.6h1.2v1.2h-1.2zM60.6 309.9h1.2v1.2h-1.2zM93.8 266.5h1.2v1.2h-1.2zM61.0 307.1h1.2v1.2h-1.2zM42.6 335.8h1.2v1.2h-1.2zM72.6 300.5h1.2v1.2h-1.2zM68.8 294.1h1.2v1.2h-1.2zM43.7 324.2h1.2v1.2h-1.2zM82.8 283.0h1.2v1.2h-1.2zM76.6 294.3h1.2v1.2h-1.2zM57.1 309.5h1.2v1.2h-1.2zM78.8 289.9h1.2v1.2h-1.2zM104.7 258.2h1.2v1.2h-1.2zM90.2 274.4h1.2v1.2h-1.2zM80.4 280.6h1.2v1.2h-1.2zM88.5 273.6h1.2v1.2h-1.2zM48.4 328.9h1.2v1.2h-1.2zM46.0 321.6h1.2v1.2h-1.2zM60.7 312.7h1.2v1.2h-1.2zM65.2 296.6h1.2v1.2h-1.2zM94.6 269.4h1.2v1.2h-1.2zM105.4 260.6h1.2v1.2h-1.2zM54.0 319.3h1.2v1.2h-1.2zM90.0 275.2h1.2v1.2h-1.2zM48.7 318.2h1.2v1.2h-1.2zM75.8 290.5h1.2v1.2h-1.2zM101.9 259.8h1.2v1.2h-1.2zM72.3 289.5h1.2v1.2h-1.2zM82.8 287.4h1.2v1.2h-1.2zM102.2 260.6h1.2v1.2h-1.2zM86.4 274.0h1.2v1.2h-1.2zM83.7 288.0h1.2v1.2h-1.2zM97.8 264.3h1.2v1.2h-1.2zM86.5 277.8h1.2v1.2h-1.2zM105.1 259.2h1.2v1.2h-1.2zM106.0 259.0h1.2v1.2h-1.2zM102.9 260.0h1.2v1.2h-1.2zM78.3 282.6h1.2v1.2h-1.2zM45.2 321.8h1.2v1.2h-1.2zM65.0 300.0h1.2v1.2h-1.2zM105.7 260.2h1.2v1.2h-1.2zM74.7 286.8h1.2v1.2h-1.2zM83.5 283.3h1.2v1.2h-1.2zM90.4 270.0h1.2v1.2h-1.2zM105.9 258.4h1.2v1.2h-1.2zM41.6 334.4h1.2v1.2h-1.2zM56.6 312.9h1.2v1.2h-1.2zM106.8 260.0h1.2v1.2h-1.2zM54.5 315.9h1.2v1.2h-1.2zM55.6 317.1h1.2v1.2h-1.2zM66.9 302.2h1.2v1.2h-1.2zM43.9 325.6h1.2v1.2h-1.2zM60.6 314.8h1.2v1.2h-1.2zM104.7 258.0h1.2v1.2h-1.2zM81.1 279.9h1.2v1.2h-1.2zM44.0 325.8h1.2v1.2h-1.2zM43.6 325.4h1.2v1.2h-1.2zM52.1 322.0h1.2v1.2h-1.2zM44.5 326.7h1.2v1.2h-1.2zM93.0 271.6h1.2v1.2h-1.2zM69.5 292.8h1.2v1.2h-1.2zM69.9 305.1h1.2v1.2h-1.2zM47.1 325.7h1.2v1.2h-1.2zM64.3 305.9h1.2v1.2h-1.2zM75.2 286.7h1.2v1.2h-1.2zM64.9 307.8h1.2v1.2h-1.2zM79.0 285.9h1.2v1.2h-1.2zM66.8 299.6h1.2v1.2h-1.2zM79.7 283.2h1.2v1.2h-1.2zM88.7 272.9h1.2v1.2h-1.2zM90.6 269.4h1.2v1.2h-1.2zM51.2 314.1h1.2v1.2h-1.2zM103.6 259.9h1.2v1.2h-1.2zM94.4 266.2h1.2v1.2h-1.2zM93.7 272.9h1.2v1.2h-1.2zM52.6 319.5h1.2v1.2h-1.2zM54.3 315.2h1.2v1.2h-1.2zM85.5 275.0h1.2v1.2h-1.2zM70.8 291.8h1.2v1.2h-1.2zM104.5 261.1h1.2v1.2h-1.2zM90.4 270.7h1.2v1.2h-1.2zM98.6 259.7h1.2v1.2h-1.2zM105.8 260.0h1.2v1.2h-1.2zM93.4 267.5h1.2v1.2h-1.2zM46.5 324.0h1.2v1.2h-1.2zM109.1 258.1h1.2v1.2h-1.2zM104.7 260.5h1.2v1.2h-1.2zM85.2 279.7h1.2v1.2h-1.2zM88.8 278.4h1.2v1.2h-1.2zM50.7 317.2h1.2v1.2h-1.2zM61.6 313.7h1.2v1.2h-1.2zM104.4 258.1h1.2v1.2h-1.2zM77.5 294.8h1.2v1.2h-1.2zM48.8 319.7h1.2v1.2h-1.2zM58.7 305.8h1.2v1.2h-1.2zM68.2 303.5h1.2v1.2h-1.2zM93.0 269.5h1.2v1.2h-1.2zM77.8 288.0h1.2v1.2h-1.2zM72.4 291.2h1.2v1.2h-1.2zM57.1 312.9h1.2v1.2h-1.2zM68.9 304.2h1.2v1.2h-1.2zM86.8 274.3h1.2v1.2h-1.2zM90.0 272.2h1.2v1.2h-1.2zM60.8 304.3h1.2v1.2h-1.2z"/>
<path fill="#c4e0da" d="M54.1 315.0h1.2v1.2h-1.2zM58.5 307.0h1.2v1.2h-1.2zM78.9 284.7h1.2v1.2h-1.2zM98.0 263.7h1.2v1.2h-1.2zM99.4 259.4h1.2v1.2h-1.2zM81.0 285.3h1.2v1.2h-1.2zM99.0 262.6h1.2v1.2h-1.2zM68.4 296.0h1.2v1.2h-1.2zM86.5 283.1h1.2v1.2h-1.2zM105.1 258.0h1.2v1.2h-1.2zM73.6 296.2h1.2v1.2h-1.2zM66.6 299.2h1.2v1.2h-1.2zM67.1 298.9h1.2v1.2h-1.2zM64.4 298.4h1.2v1.2h-1.2zM50.3 320.5h1.2v1.2h-1.2zM72.4 294.6h1.2v1.2h-1.2zM103.7 260.6h1.2v1.2h-1.2zM103.5 260.9h1.2v1.2h-1.2zM78.8 288.1h1.2v1.2h-1.2zM100.6 260.2h1.2v1.2h-1.2zM64.7 301.3h1.2v1.2h-1.2zM64.4 304.4h1.2v1.2h-1.2zM80.3 283.5h1.2v1.2h-1.2zM64.7 298.6h1.2v1.2h-1.2zM63.3 308.7h1.2v1.2h-1.2zM86.7 276.5h1.2v1.2h-1.2zM41.6 325.3h1.2v1.2h-1.2zM81.1 291.7h1.2v1.2h-1.2zM76.8 286.7h1.2v1.2h-1.2zM73.5 291.9h1.2v1.2h-1.2zM51.6 324.0h1.2v1.2h-1.2zM97.6 259.9h1.2v1.2h-1.2zM99.0 262.4h1.2v1.2h-1.2zM91.6 271.9h1.2v1.2h-1.2zM106.6 257.9h1.2v1.2h-1.2zM63.3 301.3h1.2v1.2h-1.2zM94.0 271.3h1.2v1.2h-1.2zM107.9 258.8h1.2v1.2h-1.2zM71.2 297.3h1.2v1.2h-1.2zM103.2 259.7h1.2v1.2h-1.2zM63.9 308.4h1.2v1.2h-1.2zM61.0 301.7h1.2v1.2h-1.2zM86.1 276.9h1.2v1.2h-1.2zM75.9 296.0h1.2v1.2h-1.2zM49.1 316.8h1.2v1.2h-1.2zM49.4 322.3h1.2v1.2h-1.2zM105.9 260.5h1.2v1.2h-1.2zM94.1 266.2h1.2v1.2h-1.2zM107.6 258.6h1.2v1.2h-1.2zM77.1 287.9h1.2v1.2h-1.2zM80.9 280.1h1.2v1.2h-1.2zM80.2 288.5h1.2v1.2h-1.2zM72.5 297.9h1.2v1.2h-1.2zM81.6 290.3h1.2v1.2h-1.2zM55.3 316.3h1.2v1.2h-1.2zM45.6 328.8h1.2v1.2h-1.2zM76.3 291.0h1.2v1.2h-1.2zM55.1 319.6h1.2v1.2h-1.2zM103.2 258.1h1.2v1.2h-1.2zM107.0 259.5h1.2v1.2h-1.2zM101.6 259.3h1.2v1.2h-1.2zM74.6 295.1h1.2v1.2h-1.2zM44.6 322.1h1.2v1.2h-1.2zM59.6 309.0h1.2v1.2h-1.2zM50.6 321.8h1.2v1.2h-1.2zM62.9 310.9h1.2v1.2h-1.2zM69.4 296.9h1.2v1.2h-1.2zM107.3 258.4h1.2v1.2h-1.2zM56.8 319.5h1.2v1.2h-1.2zM64.6 304.0h1.2v1.2h-1.2zM73.6 294.8h1.2v1.2h-1.2zM47.8 319.3h1.2v1.2h-1.2zM98.7 259.7h1.2v1.2h-1.2zM87.3 283.0h1.2v1.2h-1.2zM83.1 277.7h1.2v1.2h-1.2zM71.5 290.3h1.2v1.2h-1.2zM82.5 286.9h1.2v1.2h-1.2zM47.2 320.9h1.2v1.2h-1.2zM71.7 302.2h1.2v1.2h-1.2zM65.9 296.8h1.2v1.2h-1.2zM58.8 312.4h1.2v1.2h-1.2zM50.9 315.3h1.2v1.2h-1.2zM81.4 283.0h1.2v1.2h-1.2zM52.8 324.4h1.2v1.2h-1.2zM108.8 258.7h1.2v1.2h-1.2zM78.1 282.8h1.2v1.2h-1.2zM87.1 275.1h1.2v1.2h-1.2zM84.6 286.0h1.2v1.2h-1.2zM104.8 258.0h1.2v1.2h-1.2zM62.8 305.9h1.2v1.2h-1.2zM42.0 325.9h1.2v1.2h-1.2zM51.5 321.3h1.2v1.2h-1.2zM93.0 270.5h1.2v1.2h-1.2zM42.6 323.8h1.2v1.2h-1.2zM51.1 318.8h1.2v1.2h-1.2zM96.5 265.1h1.2v1.2h-1.2zM86.2 276.1h1.2v1.2h-1.2zM51.1 314.1h1.2v1.2h-1.2zM81.8 288.2h1.2v1.2h-1.2zM42.2 330.5h1.2v1.2h-1.2zM45.8 324.9h1.2v1.2h-1.2zM103.7 258.1h1.2v1.2h-1.2zM82.2 285.8h1.2v1.2h-1.2zM68.2 301.1h1.2v1.2h-1.2zM73.8 289.7h1.2v1.2h-1.2zM53.4 314.3h1.2v1.2h-1.2zM93.9 270.9h1.2v1.2h-1.2zM45.9 326.4h1.2v1.2h-1.2zM53.0 316.9h1.2v1.2h-1.2zM83.4 286.9h1.2v1.2h-1.2zM72.8 301.0h1.2v1.2h-1.2zM76.0 287.8h1.2v1.2h-1.2zM41.6 333.3h1.2v1.2h-1.2zM88.0 274.4h1.2v1.2h-1.2z"/>
<path fill="#8cbcb0" d="M98.1 259.4h1.3v1.3h-1.3zM76.4 286.4h1.3v1.3h-1.3zM73.5 288.2h1.3v1.3h-1.3zM50.7 317.3h1.3v1.3h-1.3zM84.8 276.8h1.3v1.3h-1.3zM59.3 306.5h1.3v1.3h-1.3zM103.0 258.0h1.3v1.3h-1.3zM86.0 276.2h1.3v1.3h-1.3zM68.5 296.3h1.3v1.3h-1.3zM56.9 308.8h1.3v1.3h-1.3zM84.7 276.2h1.3v1.3h-1.3zM63.9 300.3h1.3v1.3h-1.3zM81.5 282.1h1.3v1.3h-1.3zM67.1 294.7h1.3v1.3h-1.3zM84.1 278.9h1.3v1.3h-1.3zM69.3 292.4h1.3v1.3h-1.3zM83.7 277.5h1.3v1.3h-1.3zM98.3 258.2h1.3v1.3h-1.3zM91.8 270.9h1.3v1.3h-1.3zM59.3 305.4h1.3v1.3h-1.3zM76.2 286.5h1.3v1.3h-1.3zM60.1 303.9h1.3v1.3h-1.3zM58.5 306.9h1.3v1.3h-1.3zM51.7 314.9h1.3v1.3h-1.3zM104.0 257.8h1.3v1.3h-1.3zM99.6 258.8h1.3v1.3h-1.3zM47.8 321.0h1.3v1.3h-1.3zM56.0 309.0h1.3v1.3h-1.3zM91.8 271.0h1.3v1.3h-1.3zM90.4 271.5h1.3v1.3h-1.3zM75.1 286.3h1.3v1.3h-1.3zM55.4 311.6h1.3v1.3h-1.3zM43.3 325.1h1.3v1.3h-1.3zM72.0 291.6h1.3v1.3h-1.3zM51.7 315.0h1.3v1.3h-1.3zM99.5 259.0h1.3v1.3h-1.3zM55.7 310.0h1.3v1.3h-1.3zM93.9 266.9h1.3v1.3h-1.3zM47.0 319.9h1.3v1.3h-1.3zM71.4 292.6h1.3v1.3h-1.3zM56.8 310.8h1.3v1.3h-1.3zM77.0 286.2h1.3v1.3h-1.3zM53.1 314.0h1.3v1.3h-1.3zM47.5 320.6h1.3v1.3h-1.3zM90.2 272.4h1.3v1.3h-1.3zM81.3 282.1h1.3v1.3h-1.3zM57.0 309.2h1.3v1.3h-1.3zM83.7 277.9h1.3v1.3h-1.3zM90.8 270.0h1.3v1.3h-1.3zM52.3 313.4h1.3v1.3h-1.3zM85.2 278.0h1.3v1.3h-1.3zM61.7 301.2h1.3v1.3h-1.3zM86.9 275.0h1.3v1.3h-1.3zM99.2 258.0h1.3v1.3h-1.3zM80.2 283.5h1.3v1.3h-1.3zM78.5 284.1h1.3v1.3h-1.3zM76.3 287.7h1.3v1.3h-1.3zM82.0 278.6h1.3v1.3h-1.3zM93.6 267.7h1.3v1.3h-1.3zM48.5 320.3h1.3v1.3h-1.3zM93.6 265.6h1.3v1.3h-1.3zM88.4 272.3h1.3v1.3h-1.3zM42.0 324.3h1.3v1.3h-1.3zM41.4 326.6h1.3v1.3h-1.3zM100.4 258.6h1.3v1.3h-1.3zM87.0 276.0h1.3v1.3h-1.3zM51.2 315.4h1.3v1.3h-1.3zM94.8 265.3h1.3v1.3h-1.3zM52.0 313.3h1.3v1.3h-1.3zM74.7 289.5h1.3v1.3h-1.3zM58.4 306.3h1.3v1.3h-1.3zM93.0 268.5h1.3v1.3h-1.3zM41.6 325.5h1.3v1.3h-1.3zM41.7 326.6h1.3v1.3h-1.3zM58.0 307.3h1.3v1.3h-1.3zM103.5 257.8h1.3v1.3h-1.3zM75.4 289.2h1.3v1.3h-1.3zM51.8 316.6h1.3v1.3h-1.3zM83.0 278.0h1.3v1.3h-1.3zM91.4 271.3h1.3v1.3h-1.3zM52.0 313.2h1.3v1.3h-1.3zM67.8 294.0h1.3v1.3h-1.3zM97.0 260.1h1.3v1.3h-1.3zM46.4 321.4h1.3v1.3h-1.3zM53.8 312.6h1.3v1.3h-1.3zM76.1 285.0h1.3v1.3h-1.3zM87.5 274.3h1.3v1.3h-1.3zM92.1 268.2h1.3v1.3h-1.3zM59.8 306.4h1.3v1.3h-1.3zM54.1 310.3h1.3v1.3h-1.3zM62.3 302.3h1.3v1.3h-1.3zM63.4 300.5h1.3v1.3h-1.3zM48.9 319.8h1.3v1.3h-1.3zM53.0 313.1h1.3v1.3h-1.3zM94.5 265.8h1.3v1.3h-1.3zM83.3 278.2h1.3v1.3h-1.3zM76.0 285.1h1.3v1.3h-1.3zM73.4 290.1h1.3v1.3h-1.3zM71.5 292.6h1.3v1.3h-1.3zM95.7 263.6h1.3v1.3h-1.3zM47.9 320.1h1.3v1.3h-1.3zM75.7 285.8h1.3v1.3h-1.3zM99.1 258.9h1.3v1.3h-1.3zM101.2 258.5h1.3v1.3h-1.3zM86.1 274.0h1.3v1.3h-1.3zM49.7 318.9h1.3v1.3h-1.3zM45.2 321.6h1.3v1.3h-1.3zM60.7 305.1h1.3v1.3h-1.3zM99.4 258.4h1.3v1.3h-1.3zM43.0 323.2h1.3v1.3h-1.3zM60.4 303.3h1.3v1.3h-1.3zM58.9 307.8h1.3v1.3h-1.3zM54.9 312.8h1.3v1.3h-1.3zM80.6 283.0h1.3v1.3h-1.3zM52.5 312.8h1.3v1.3h-1.3zM61.4 304.2h1.3v1.3h-1.3zM88.0 272.0h1.3v1.3h-1.3zM57.6 306.4h1.3v1.3h-1.3zM79.1 283.6h1.3v1.3h-1.3zM80.1 283.1h1.3v1.3h-1.3zM48.6 316.9h1.3v1.3h-1.3zM82.7 277.7h1.3v1.3h-1.3zM66.8 297.9h1.3v1.3h-1.3z"/>
<path fill="#b2d6cc" d="M97.8 258.6h1.3v1.3h-1.3zM54.7 311.8h1.3v1.3h-1.3zM41.7 326.9h1.3v1.3h-1.3zM96.4 262.1h1.3v1.3h-1.3zM49.0 316.5h1.3v1.3h-1.3zM90.8 271.6h1.3v1.3h-1.3zM65.9 298.3h1.3v1.3h-1.3zM99.3 257.9h1.3v1.3h-1.3zM55.0 309.9h1.3v1.3h-1.3zM99.6 257.9h1.3v1.3h-1.3zM93.0 268.4h1.3v1.3h-1.3zM64.0 299.1h1.3v1.3h-1.3zM59.4 303.6h1.3v1.3h-1.3zM79.5 281.9h1.3v1.3h-1.3zM97.6 258.4h1.3v1.3h-1.3zM84.7 277.3h1.3v1.3h-1.3zM66.9 298.2h1.3v1.3h-1.3zM69.0 295.7h1.3v1.3h-1.3zM76.8 287.3h1.3v1.3h-1.3zM71.3 292.5h1.3v1.3h-1.3zM82.1 278.8h1.3v1.3h-1.3zM64.5 297.5h1.3v1.3h-1.3zM44.0 323.2h1.3v1.3h-1.3zM51.3 315.7h1.3v1.3h-1.3zM90.6 269.6h1.3v1.3h-1.3zM49.9 315.9h1.3v1.3h-1.3zM66.3 298.7h1.3v1.3h-1.3zM58.8 307.4h1.3v1.3h-1.3zM48.2 319.1h1.3v1.3h-1.3zM68.5 293.7h1.3v1.3h-1.3zM87.4 272.9h1.3v1.3h-1.3zM69.8 292.0h1.3v1.3h-1.3zM57.9 309.2h1.3v1.3h-1.3zM82.8 279.2h1.3v1.3h-1.3zM79.6 282.7h1.3v1.3h-1.3zM76.7 284.5h1.3v1.3h-1.3zM44.0 322.3h1.3v1.3h-1.3zM73.8 288.1h1.3v1.3h-1.3zM85.7 276.5h1.3v1.3h-1.3zM94.5 265.4h1.3v1.3h-1.3zM92.8 269.0h1.3v1.3h-1.3zM87.1 273.3h1.3v1.3h-1.3zM59.7 303.6h1.3v1.3h-1.3zM56.1 310.6h1.3v1.3h-1.3zM94.5 266.2h1.3v1.3h-1.3zM99.2 259.1h1.3v1.3h-1.3zM90.3 272.2h1.3v1.3h-1.3zM100.1 257.9h1.3v1.3h-1.3zM68.3 296.4h1.3v1.3h-1.3zM50.6 316.8h1.3v1.3h-1.3zM83.4 277.1h1.3v1.3h-1.3zM59.7 305.0h1.3v1.3h-1.3zM54.1 310.8h1.3v1.3h-1.3zM56.2 309.7h1.3v1.3h-1.3zM42.7 326.9h1.3v1.3h-1.3zM94.6 266.0h1.3v1.3h-1.3zM95.1 264.4h1.3v1.3h-1.3zM85.4 276.8h1.3v1.3h-1.3zM43.2 326.4h1.3v1.3h-1.3zM76.8 287.6h1.3v1.3h-1.3zM73.7 289.5h1.3v1.3h-1.3zM72.3 291.4h1.3v1.3h-1.3zM88.4 274.5h1.3v1.3h-1.3zM50.9 315.9h1.3v1.3h-1.3zM97.4 258.9h1.3v1.3h-1.3zM95.4 263.0h1.3v1.3h-1.3zM75.7 287.5h1.3v1.3h-1.3zM77.7 284.4h1.3v1.3h-1.3zM94.3 265.8h1.3v1.3h-1.3zM92.8 268.7h1.3v1.3h-1.3zM100.7 258.1h1.3v1.3h-1.3zM92.4 269.2h1.3v1.3h-1.3zM98.5 258.1h1.3v1.3h-1.3zM69.4 294.6h1.3v1.3h-1.3zM91.8 270.2h1.3v1.3h-1.3zM52.5 312.8h1.3v1.3h-1.3zM74.8 289.3h1.3v1.3h-1.3zM98.6 258.5h1.3v1.3h-1.3zM63.5 299.2h1.3v1.3h-1.3zM53.8 312.6h1.3v1.3h-1.3zM62.3 303.5h1.3v1.3h-1.3zM104.3 257.8h1.3v1.3h-1.3zM98.1 259.0h1.3v1.3h-1.3zM74.0 287.0h1.3v1.3h-1.3zM61.1 303.8h1.3v1.3h-1.3zM61.2 301.8h1.3v1.3h-1.3zM61.7 303.0h1.3v1.3h-1.3zM83.5 279.5h1.3v1.3h-1.3zM84.1 278.8h1.3v1.3h-1.3zM60.3 302.8h1.3v1.3h-1.3zM45.1 320.7h1.3v1.3h-1.3zM51.9 314.9h1.3v1.3h-1.3zM91.3 270.7h1.3v1.3h-1.3zM48.4 320.4h1.3v1.3h-1.3zM44.8 322.9h1.3v1.3h-1.3zM80.0 282.1h1.3v1.3h-1.3zM89.9 273.5h1.3v1.3h-1.3zM75.2 285.7h1.3v1.3h-1.3zM70.6 291.6h1.3v1.3h-1.3zM68.0 294.8h1.3v1.3h-1.3zM55.2 311.3h1.3v1.3h-1.3zM59.8 306.5h1.3v1.3h-1.3zM79.5 282.8h1.3v1.3h-1.3z"/>
<path fill="#3e5652" d="M58.9 304.6h1.3v1.3h-1.3zM86.7 273.6h1.3v1.3h-1.3zM44.2 324.8h1.3v1.3h-1.3zM77.0 287.2h1.3v1.3h-1.3zM62.2 301.9h1.3v1.3h-1.3zM41.5 325.7h1.3v1.3h-1.3zM63.3 300.9h1.3v1.3h-1.3zM92.1 268.7h1.3v1.3h-1.3zM74.7 289.8h1.3v1.3h-1.3zM53.8 311.4h1.3v1.3h-1.3zM91.3 271.7h1.3v1.3h-1.3zM96.1 261.9h1.3v1.3h-1.3zM95.8 262.0h1.3v1.3h-1.3zM84.5 279.3h1.3v1.3h-1.3zM43.2 324.9h1.3v1.3h-1.3zM70.5 291.1h1.3v1.3h-1.3zM95.9 262.8h1.3v1.3h-1.3zM44.2 322.3h1.3v1.3h-1.3zM45.4 320.6h1.3v1.3h-1.3zM60.7 304.7h1.3v1.3h-1.3zM52.0 314.6h1.3v1.3h-1.3zM49.8 318.2h1.3v1.3h-1.3zM64.5 299.8h1.3v1.3h-1.3zM83.7 277.3h1.3v1.3h-1.3zM80.4 280.2h1.3v1.3h-1.3zM61.2 301.7h1.3v1.3h-1.3zM91.3 271.5h1.3v1.3h-1.3zM91.9 270.6h1.3v1.3h-1.3zM49.5 317.2h1.3v1.3h-1.3zM46.5 321.7h1.3v1.3h-1.3zM98.9 258.1h1.3v1.3h-1.3zM87.0 275.3h1.3v1.3h-1.3zM48.3 320.4h1.3v1.3h-1.3zM71.1 292.8h1.3v1.3h-1.3zM80.3 280.5h1.3v1.3h-1.3zM84.3 279.4h1.3v1.3h-1.3zM74.7 288.3h1.3v1.3h-1.3zM65.0 300.0h1.3v1.3h-1.3zM84.4 279.5h1.3v1.3h-1.3zM49.6 316.1h1.3v1.3h-1.3zM96.9 259.6h1.3v1.3h-1.3zM62.1 302.3h1.3v1.3h-1.3zM77.2 284.1h1.3v1.3h-1.3zM97.7 258.6h1.3v1.3h-1.3zM49.9 318.8h1.3v1.3h-1.3zM48.5 318.2h1.3v1.3h-1.3zM58.3 308.2h1.3v1.3h-1.3zM74.2 287.0h1.3v1.3h-1.3zM43.0 325.1h1.3v1.3h-1.3zM47.4 321.2h1.3v1.3h-1.3zM99.3 258.7h1.3v1.3h-1.3zM53.3 313.1h1.3v1.3h-1.3zM68.9 294.0h1.3v1.3h-1.3zM73.5 288.4h1.3v1.3h-1.3zM74.7 288.2h1.3v1.3h-1.3zM92.2 267.9h1.3v1.3h-1.3zM66.7 297.2h1.3v1.3h-1.3zM54.8 309.7h1.3v1.3h-1.3zM89.5 270.4h1.3v1.3h-1.3zM52.0 314.7h1.3v1.3h-1.3zM41.4 327.3h1.3v1.3h-1.3zM55.3 309.2h1.3v1.3h-1.3zM63.3 298.5h1.3v1.3h-1.3zM86.7 276.8h1.3v1.3h-1.3zM67.2 298.0h1.3v1.3h-1.3zM101.9 258.3h1.3v1.3h-1.3zM66.4 298.6h1.3v1.3h-1.3zM64.2 301.4h1.3v1.3h-1.3zM59.1 305.9h1.3v1.3h-1.3zM90.9 270.9h1.3v1.3h-1.3zM76.4 286.5h1.3v1.3h-1.3zM82.5 281.2h1.3v1.3h-1.3zM102.4 258.0h1.3v1.3h-1.3zM87.8 275.3h1.3v1.3h-1.3zM49.6 317.9h1.3v1.3h-1.3zM83.9 279.1h1.3v1.3h-1.3zM56.7 310.1h1.3v1.3h-1.3zM58.4 306.0h1.3v1.3h-1.3zM102.2 258.2h1.3v1.3h-1.3zM46.8 320.8h1.3v1.3h-1.3zM79.9 282.7h1.3v1.3h-1.3zM75.8 285.6h1.3v1.3h-1.3zM90.8 270.9h1.3v1.3h-1.3zM69.7 293.8h1.3v1.3h-1.3zM84.5 277.4h1.3v1.3h-1.3zM99.1 258.4h1.3v1.3h-1.3zM71.2 292.6h1.3v1.3h-1.3zM58.9 305.8h1.3v1.3h-1.3zM93.0 267.9h1.3v1.3h-1.3zM103.4 257.8h1.3v1.3h-1.3zM64.6 298.9h1.3v1.3h-1.3zM85.8 276.9h1.3v1.3h-1.3zM99.0 259.0h1.3v1.3h-1.3zM89.8 272.5h1.3v1.3h-1.3zM59.4 305.9h1.3v1.3h-1.3zM86.6 274.2h1.3v1.3h-1.3zM91.6 268.5h1.3v1.3h-1.3zM85.5 275.7h1.3v1.3h-1.3zM86.7 275.6h1.3v1.3h-1.3zM65.0 298.1h1.3v1.3h-1.3zM101.3 258.1h1.3v1.3h-1.3zM80.2 284.0h1.3v1.3h-1.3zM101.9 258.1h1.3v1.3h-1.3z"/>
<polygon fill="#141414" points="29.0,319.5 32.0,318.1 41.6,308.6 48.1,301.6 55.6,294.6 67.0,283.6 79.9,271.6 90.0,262.6 95.0,258.1 98.0,255.6 98.0,257.4 97.0,260.4 95.0,264.4 91.6,268.4 80.0,280.9 70.0,291.4 63.7,298.4 55.6,308.9 42.5,324.0 39.5,328.6 29.0,328.6"/>
<path fill="#1a1a1a" fill-opacity="0.75" d="M86.7 263.6h1.4v1.4h-1.4zM81.9 267.6h1.4v1.4h-1.4zM75.9 273.5h1.4v1.4h-1.4zM42.1 307.0h1.4v1.4h-1.4zM41.7 324.0h1.4v1.4h-1.4zM89.5 259.9h1.4v1.4h-1.4zM86.4 275.0h1.4v1.4h-1.4zM48.6 297.6h1.4v1.4h-1.4zM43.3 322.1h1.4v1.4h-1.4zM91.0 258.8h1.4v1.4h-1.4zM83.6 267.0h1.4v1.4h-1.4zM45.6 300.8h1.4v1.4h-1.4zM37.8 308.8h1.4v1.4h-1.4zM62.4 287.1h1.4v1.4h-1.4zM57.8 305.0h1.4v1.4h-1.4zM43.8 304.7h1.4v1.4h-1.4zM83.6 266.9h1.4v1.4h-1.4zM57.4 305.1h1.4v1.4h-1.4zM59.5 288.7h1.4v1.4h-1.4zM37.1 312.0h1.4v1.4h-1.4zM41.8 305.2h1.4v1.4h-1.4zM81.6 268.3h1.4v1.4h-1.4zM32.7 323.5h1.4v1.4h-1.4zM81.0 278.5h1.4v1.4h-1.4zM65.9 280.7h1.4v1.4h-1.4zM91.5 267.4h1.4v1.4h-1.4zM64.9 284.4h1.4v1.4h-1.4zM52.5 312.9h1.4v1.4h-1.4zM66.2 282.1h1.4v1.4h-1.4zM65.0 295.3h1.4v1.4h-1.4zM85.8 273.8h1.4v1.4h-1.4zM49.1 314.9h1.4v1.4h-1.4zM68.3 280.6h1.4v1.4h-1.4zM48.8 297.1h1.4v1.4h-1.4zM87.2 263.4h1.4v1.4h-1.4zM72.5 287.7h1.4v1.4h-1.4zM59.3 289.1h1.4v1.4h-1.4zM71.5 290.7h1.4v1.4h-1.4zM73.2 287.7h1.4v1.4h-1.4zM69.8 279.3h1.4v1.4h-1.4zM84.4 275.3h1.4v1.4h-1.4zM67.6 280.4h1.4v1.4h-1.4zM79.7 269.5h1.4v1.4h-1.4zM88.6 263.1h1.4v1.4h-1.4zM93.4 266.5h1.4v1.4h-1.4zM86.6 263.9h1.4v1.4h-1.4zM81.7 277.9h1.4v1.4h-1.4zM37.8 310.5h1.4v1.4h-1.4zM69.6 279.6h1.4v1.4h-1.4zM75.4 284.6h1.4v1.4h-1.4zM63.7 299.3h1.4v1.4h-1.4zM87.7 261.3h1.4v1.4h-1.4zM40.4 307.8h1.4v1.4h-1.4zM42.6 322.9h1.4v1.4h-1.4zM77.6 270.4h1.4v1.4h-1.4zM41.3 307.7h1.4v1.4h-1.4zM35.8 323.5h1.4v1.4h-1.4zM42.6 322.5h1.4v1.4h-1.4zM78.8 269.6h1.4v1.4h-1.4zM58.6 304.8h1.4v1.4h-1.4zM33.1 325.7h1.4v1.4h-1.4zM74.7 274.1h1.4v1.4h-1.4zM49.3 316.6h1.4v1.4h-1.4zM79.5 281.4h1.4v1.4h-1.4zM76.6 285.5h1.4v1.4h-1.4zM72.3 277.0h1.4v1.4h-1.4zM66.1 281.9h1.4v1.4h-1.4zM93.4 258.5h1.4v1.4h-1.4zM76.9 283.2h1.4v1.4h-1.4zM73.8 285.3h1.4v1.4h-1.4zM72.1 277.7h1.4v1.4h-1.4zM79.8 267.9h1.4v1.4h-1.4zM77.3 272.2h1.4v1.4h-1.4zM79.5 270.0h1.4v1.4h-1.4zM64.7 284.7h1.4v1.4h-1.4zM86.0 273.3h1.4v1.4h-1.4zM84.6 276.2h1.4v1.4h-1.4zM62.4 298.5h1.4v1.4h-1.4zM45.6 318.9h1.4v1.4h-1.4zM82.5 265.9h1.4v1.4h-1.4zM74.3 285.5h1.4v1.4h-1.4zM57.6 305.2h1.4v1.4h-1.4zM94.0 256.5h1.4v1.4h-1.4zM90.1 268.2h1.4v1.4h-1.4zM66.6 294.9h1.4v1.4h-1.4zM71.0 276.6h1.4v1.4h-1.4zM64.5 282.3h1.4v1.4h-1.4zM52.8 295.7h1.4v1.4h-1.4zM34.0 325.2h1.4v1.4h-1.4zM55.7 291.1h1.4v1.4h-1.4zM47.9 298.5h1.4v1.4h-1.4zM95.8 262.8h1.4v1.4h-1.4zM49.4 315.2h1.4v1.4h-1.4zM61.1 301.0h1.4v1.4h-1.4zM67.8 294.0h1.4v1.4h-1.4zM54.6 293.9h1.4v1.4h-1.4zM80.8 281.0h1.4v1.4h-1.4zM49.6 296.6h1.4v1.4h-1.4zM85.6 273.7h1.4v1.4h-1.4zM69.8 289.9h1.4v1.4h-1.4zM76.1 273.2h1.4v1.4h-1.4zM74.7 285.3h1.4v1.4h-1.4zM70.3 290.3h1.4v1.4h-1.4zM56.1 292.9h1.4v1.4h-1.4zM75.2 284.7h1.4v1.4h-1.4zM69.0 291.7h1.4v1.4h-1.4zM48.8 314.9h1.4v1.4h-1.4zM59.8 288.9h1.4v1.4h-1.4zM89.4 271.0h1.4v1.4h-1.4zM71.8 290.2h1.4v1.4h-1.4zM85.9 264.3h1.4v1.4h-1.4zM67.8 278.9h1.4v1.4h-1.4zM37.5 323.9h1.4v1.4h-1.4zM39.5 323.2h1.4v1.4h-1.4zM35.4 312.5h1.4v1.4h-1.4zM53.0 310.9h1.4v1.4h-1.4zM69.9 279.7h1.4v1.4h-1.4zM74.2 286.2h1.4v1.4h-1.4zM46.9 319.0h1.4v1.4h-1.4zM83.6 277.3h1.4v1.4h-1.4zM78.2 269.9h1.4v1.4h-1.4zM56.5 307.1h1.4v1.4h-1.4zM83.0 277.0h1.4v1.4h-1.4zM50.8 296.4h1.4v1.4h-1.4zM90.7 269.0h1.4v1.4h-1.4zM61.0 286.5h1.4v1.4h-1.4zM50.8 295.7h1.4v1.4h-1.4zM56.1 290.7h1.4v1.4h-1.4zM89.7 262.0h1.4v1.4h-1.4zM50.0 316.2h1.4v1.4h-1.4zM85.4 274.4h1.4v1.4h-1.4zM84.4 275.5h1.4v1.4h-1.4zM96.5 258.4h1.4v1.4h-1.4zM54.8 291.7h1.4v1.4h-1.4zM90.9 269.4h1.4v1.4h-1.4zM49.0 299.4h1.4v1.4h-1.4zM66.0 281.6h1.4v1.4h-1.4zM89.3 269.0h1.4v1.4h-1.4zM68.7 293.8h1.4v1.4h-1.4zM41.2 324.6h1.4v1.4h-1.4zM94.8 264.1h1.4v1.4h-1.4zM77.8 270.4h1.4v1.4h-1.4zM72.0 287.8h1.4v1.4h-1.4zM55.2 293.5h1.4v1.4h-1.4zM32.9 313.4h1.4v1.4h-1.4zM92.2 266.0h1.4v1.4h-1.4zM79.8 281.1h1.4v1.4h-1.4zM55.9 308.0h1.4v1.4h-1.4zM96.9 258.1h1.4v1.4h-1.4zM39.0 308.9h1.4v1.4h-1.4zM37.9 310.5h1.4v1.4h-1.4zM65.2 284.2h1.4v1.4h-1.4zM35.3 322.8h1.4v1.4h-1.4zM52.4 295.5h1.4v1.4h-1.4zM58.2 305.9h1.4v1.4h-1.4zM64.9 296.5h1.4v1.4h-1.4zM58.8 289.2h1.4v1.4h-1.4zM37.1 325.9h1.4v1.4h-1.4zM61.3 301.9h1.4v1.4h-1.4zM97.1 258.5h1.4v1.4h-1.4zM67.1 281.2h1.4v1.4h-1.4zM79.0 270.0h1.4v1.4h-1.4zM59.0 304.8h1.4v1.4h-1.4zM84.7 264.0h1.4v1.4h-1.4zM47.9 316.7h1.4v1.4h-1.4zM50.2 297.4h1.4v1.4h-1.4zM44.8 319.8h1.4v1.4h-1.4zM48.2 317.3h1.4v1.4h-1.4zM96.3 259.2h1.4v1.4h-1.4zM53.7 292.8h1.4v1.4h-1.4zM74.0 273.6h1.4v1.4h-1.4zM43.0 324.2h1.4v1.4h-1.4zM59.0 303.7h1.4v1.4h-1.4zM58.2 290.0h1.4v1.4h-1.4zM80.8 278.6h1.4v1.4h-1.4zM48.5 315.2h1.4v1.4h-1.4zM77.8 270.1h1.4v1.4h-1.4zM44.6 304.2h1.4v1.4h-1.4zM54.1 293.1h1.4v1.4h-1.4zM55.9 290.8h1.4v1.4h-1.4zM53.3 312.3h1.4v1.4h-1.4zM40.9 324.1h1.4v1.4h-1.4zM71.5 288.9h1.4v1.4h-1.4zM76.7 285.3h1.4v1.4h-1.4zM41.0 305.8h1.4v1.4h-1.4zM79.1 280.5h1.4v1.4h-1.4zM78.0 283.9h1.4v1.4h-1.4zM43.0 305.2h1.4v1.4h-1.4zM73.5 287.2h1.4v1.4h-1.4zM47.1 319.2h1.4v1.4h-1.4zM77.0 273.3h1.4v1.4h-1.4zM72.7 274.8h1.4v1.4h-1.4zM80.9 278.9h1.4v1.4h-1.4zM93.4 264.5h1.4v1.4h-1.4zM82.5 278.1h1.4v1.4h-1.4zM52.0 294.7h1.4v1.4h-1.4zM85.3 273.9h1.4v1.4h-1.4zM33.5 314.1h1.4v1.4h-1.4zM85.5 264.5h1.4v1.4h-1.4zM88.5 271.1h1.4v1.4h-1.4zM35.2 323.7h1.4v1.4h-1.4zM93.9 257.1h1.4v1.4h-1.4zM96.2 253.4h1.4v1.4h-1.4zM39.8 325.0h1.4v1.4h-1.4zM57.2 291.2h1.4v1.4h-1.4zM66.2 294.0h1.4v1.4h-1.4zM55.7 291.2h1.4v1.4h-1.4zM74.5 286.5h1.4v1.4h-1.4zM93.3 257.4h1.4v1.4h-1.4zM60.1 288.4h1.4v1.4h-1.4zM38.3 308.0h1.4v1.4h-1.4zM95.6 261.0h1.4v1.4h-1.4zM87.6 272.0h1.4v1.4h-1.4zM67.8 280.3h1.4v1.4h-1.4zM43.5 322.3h1.4v1.4h-1.4zM65.9 281.1h1.4v1.4h-1.4zM42.4 306.7h1.4v1.4h-1.4zM35.3 323.2h1.4v1.4h-1.4zM92.1 260.0h1.4v1.4h-1.4zM44.0 302.2h1.4v1.4h-1.4zM40.2 307.4h1.4v1.4h-1.4zM92.4 265.5h1.4v1.4h-1.4zM51.6 297.0h1.4v1.4h-1.4zM73.1 287.6h1.4v1.4h-1.4zM90.0 260.4h1.4v1.4h-1.4zM60.2 287.2h1.4v1.4h-1.4zM90.2 259.3h1.4v1.4h-1.4zM82.9 276.9h1.4v1.4h-1.4zM34.9 312.0h1.4v1.4h-1.4zM68.3 281.1h1.4v1.4h-1.4zM36.7 312.1h1.4v1.4h-1.4zM86.3 263.1h1.4v1.4h-1.4zM44.6 301.5h1.4v1.4h-1.4zM58.8 287.8h1.4v1.4h-1.4zM41.9 305.8h1.4v1.4h-1.4zM33.6 324.6h1.4v1.4h-1.4zM64.3 298.3h1.4v1.4h-1.4zM94.5 265.4h1.4v1.4h-1.4zM61.3 287.0h1.4v1.4h-1.4zM78.9 269.4h1.4v1.4h-1.4zM96.0 256.3h1.4v1.4h-1.4zM33.4 325.1h1.4v1.4h-1.4zM64.4 297.4h1.4v1.4h-1.4zM34.1 313.8h1.4v1.4h-1.4zM51.4 296.3h1.4v1.4h-1.4zM80.6 279.8h1.4v1.4h-1.4zM79.3 269.9h1.4v1.4h-1.4zM44.9 320.4h1.4v1.4h-1.4zM37.3 325.1h1.4v1.4h-1.4zM60.6 286.7h1.4v1.4h-1.4zM82.4 277.2h1.4v1.4h-1.4zM83.6 275.2h1.4v1.4h-1.4zM73.2 286.6h1.4v1.4h-1.4zM38.3 309.4h1.4v1.4h-1.4zM48.4 298.0h1.4v1.4h-1.4zM75.9 286.2h1.4v1.4h-1.4zM39.0 307.3h1.4v1.4h-1.4zM91.0 260.1h1.4v1.4h-1.4zM64.4 284.2h1.4v1.4h-1.4zM72.9 276.3h1.4v1.4h-1.4zM65.6 296.1h1.4v1.4h-1.4zM59.7 301.7h1.4v1.4h-1.4zM60.2 288.8h1.4v1.4h-1.4zM37.4 309.9h1.4v1.4h-1.4zM66.5 281.6h1.4v1.4h-1.4zM97.1 258.0h1.4v1.4h-1.4zM80.1 281.3h1.4v1.4h-1.4zM68.2 292.5h1.4v1.4h-1.4zM94.6 265.0h1.4v1.4h-1.4zM55.9 293.2h1.4v1.4h-1.4zM90.8 260.3h1.4v1.4h-1.4zM73.2 286.6h1.4v1.4h-1.4zM83.8 264.4h1.4v1.4h-1.4zM86.5 262.1h1.4v1.4h-1.4zM35.8 313.4h1.4v1.4h-1.4zM95.8 261.9h1.4v1.4h-1.4zM33.4 324.3h1.4v1.4h-1.4zM80.3 268.9h1.4v1.4h-1.4zM36.9 310.9h1.4v1.4h-1.4zM77.1 273.1h1.4v1.4h-1.4zM64.8 296.5h1.4v1.4h-1.4zM75.5 272.1h1.4v1.4h-1.4zM39.1 309.5h1.4v1.4h-1.4zM91.6 259.2h1.4v1.4h-1.4zM36.4 310.8h1.4v1.4h-1.4zM81.6 266.6h1.4v1.4h-1.4zM52.2 312.3h1.4v1.4h-1.4zM43.5 304.2h1.4v1.4h-1.4zM34.9 314.0h1.4v1.4h-1.4zM67.7 293.0h1.4v1.4h-1.4zM84.1 276.4h1.4v1.4h-1.4zM46.5 302.2h1.4v1.4h-1.4zM73.8 288.6h1.4v1.4h-1.4zM33.3 324.8h1.4v1.4h-1.4zM68.0 279.7h1.4v1.4h-1.4zM96.2 260.0h1.4v1.4h-1.4zM77.4 273.1h1.4v1.4h-1.4zM38.1 324.4h1.4v1.4h-1.4zM78.9 270.1h1.4v1.4h-1.4zM45.7 301.7h1.4v1.4h-1.4zM76.9 283.5h1.4v1.4h-1.4zM81.5 279.7h1.4v1.4h-1.4zM86.4 263.2h1.4v1.4h-1.4zM58.0 290.0h1.4v1.4h-1.4zM72.2 275.5h1.4v1.4h-1.4zM86.2 274.7h1.4v1.4h-1.4zM39.1 309.8h1.4v1.4h-1.4zM54.9 294.4h1.4v1.4h-1.4zM91.5 260.3h1.4v1.4h-1.4zM92.4 267.2h1.4v1.4h-1.4zM62.4 285.6h1.4v1.4h-1.4zM32.5 316.5h1.4v1.4h-1.4zM45.4 319.7h1.4v1.4h-1.4zM44.8 303.7h1.4v1.4h-1.4zM84.2 275.3h1.4v1.4h-1.4zM56.9 290.0h1.4v1.4h-1.4zM60.3 300.8h1.4v1.4h-1.4zM38.3 323.6h1.4v1.4h-1.4zM64.0 297.5h1.4v1.4h-1.4zM33.3 325.7h1.4v1.4h-1.4zM45.8 301.4h1.4v1.4h-1.4zM54.8 310.2h1.4v1.4h-1.4zM73.7 274.8h1.4v1.4h-1.4zM36.9 312.0h1.4v1.4h-1.4zM39.5 323.4h1.4v1.4h-1.4zM44.0 322.4h1.4v1.4h-1.4zM93.8 256.4h1.4v1.4h-1.4zM92.6 258.4h1.4v1.4h-1.4zM61.0 285.7h1.4v1.4h-1.4zM35.2 313.8h1.4v1.4h-1.4zM54.3 293.6h1.4v1.4h-1.4zM75.6 284.2h1.4v1.4h-1.4zM80.5 269.2h1.4v1.4h-1.4zM54.4 293.2h1.4v1.4h-1.4zM94.1 264.6h1.4v1.4h-1.4zM40.1 306.5h1.4v1.4h-1.4zM61.9 287.2h1.4v1.4h-1.4zM63.4 299.8h1.4v1.4h-1.4zM57.6 290.7h1.4v1.4h-1.4zM68.8 281.2h1.4v1.4h-1.4zM48.6 298.6h1.4v1.4h-1.4zM75.2 274.8h1.4v1.4h-1.4zM67.9 281.6h1.4v1.4h-1.4zM59.9 302.2h1.4v1.4h-1.4zM75.9 273.5h1.4v1.4h-1.4zM63.1 284.8h1.4v1.4h-1.4zM91.3 259.2h1.4v1.4h-1.4zM47.7 317.7h1.4v1.4h-1.4zM87.8 263.0h1.4v1.4h-1.4zM61.8 299.6h1.4v1.4h-1.4zM44.7 320.3h1.4v1.4h-1.4zM69.4 291.4h1.4v1.4h-1.4zM94.2 265.7h1.4v1.4h-1.4zM86.9 262.1h1.4v1.4h-1.4zM86.5 272.2h1.4v1.4h-1.4zM84.1 264.9h1.4v1.4h-1.4zM48.3 299.7h1.4v1.4h-1.4zM33.9 314.4h1.4v1.4h-1.4zM52.3 313.6h1.4v1.4h-1.4zM69.6 290.5h1.4v1.4h-1.4zM45.0 319.6h1.4v1.4h-1.4zM49.9 296.3h1.4v1.4h-1.4zM96.2 260.4h1.4v1.4h-1.4zM42.0 305.8h1.4v1.4h-1.4zM63.0 286.2h1.4v1.4h-1.4zM90.0 260.1h1.4v1.4h-1.4zM84.3 274.4h1.4v1.4h-1.4zM95.5 261.2h1.4v1.4h-1.4zM36.9 323.6h1.4v1.4h-1.4zM41.3 306.2h1.4v1.4h-1.4zM87.6 263.6h1.4v1.4h-1.4zM90.8 270.1h1.4v1.4h-1.4zM48.2 299.1h1.4v1.4h-1.4zM39.6 324.0h1.4v1.4h-1.4zM41.1 325.7h1.4v1.4h-1.4zM36.8 310.7h1.4v1.4h-1.4zM56.0 290.9h1.4v1.4h-1.4zM62.5 285.8h1.4v1.4h-1.4zM61.3 287.5h1.4v1.4h-1.4zM39.4 308.6h1.4v1.4h-1.4zM41.5 323.8h1.4v1.4h-1.4zM88.7 271.0h1.4v1.4h-1.4zM76.1 285.1h1.4v1.4h-1.4zM55.3 307.5h1.4v1.4h-1.4zM36.8 324.1h1.4v1.4h-1.4zM84.8 264.6h1.4v1.4h-1.4zM38.3 309.5h1.4v1.4h-1.4zM83.6 265.9h1.4v1.4h-1.4zM42.4 304.2h1.4v1.4h-1.4zM61.9 285.3h1.4v1.4h-1.4zM85.6 264.8h1.4v1.4h-1.4zM85.4 264.7h1.4v1.4h-1.4zM52.7 293.6h1.4v1.4h-1.4zM83.0 275.8h1.4v1.4h-1.4zM37.4 325.5h1.4v1.4h-1.4zM94.5 256.9h1.4v1.4h-1.4zM65.9 296.3h1.4v1.4h-1.4zM91.3 260.4h1.4v1.4h-1.4zM56.8 306.4h1.4v1.4h-1.4zM54.0 295.3h1.4v1.4h-1.4zM75.1 286.9h1.4v1.4h-1.4zM53.7 310.2h1.4v1.4h-1.4zM70.5 278.3h1.4v1.4h-1.4zM90.6 269.8h1.4v1.4h-1.4zM44.6 301.5h1.4v1.4h-1.4zM64.8 283.4h1.4v1.4h-1.4zM69.4 290.2h1.4v1.4h-1.4zM41.5 324.3h1.4v1.4h-1.4zM53.1 311.5h1.4v1.4h-1.4zM50.2 295.8h1.4v1.4h-1.4zM85.4 273.6h1.4v1.4h-1.4zM64.3 297.6h1.4v1.4h-1.4zM60.0 302.9h1.4v1.4h-1.4zM66.2 283.1h1.4v1.4h-1.4zM77.5 283.6h1.4v1.4h-1.4zM53.6 294.9h1.4v1.4h-1.4zM46.2 320.3h1.4v1.4h-1.4zM49.3 298.6h1.4v1.4h-1.4zM82.5 268.2h1.4v1.4h-1.4zM56.2 309.0h1.4v1.4h-1.4zM93.8 255.6h1.4v1.4h-1.4zM48.7 316.3h1.4v1.4h-1.4zM90.1 270.4h1.4v1.4h-1.4zM93.0 257.7h1.4v1.4h-1.4zM91.7 258.4h1.4v1.4h-1.4zM65.9 282.2h1.4v1.4h-1.4zM77.2 283.1h1.4v1.4h-1.4zM55.9 306.7h1.4v1.4h-1.4zM78.1 281.0h1.4v1.4h-1.4zM66.2 296.5h1.4v1.4h-1.4zM91.0 258.4h1.4v1.4h-1.4zM67.3 295.1h1.4v1.4h-1.4zM58.6 290.3h1.4v1.4h-1.4zM94.7 264.4h1.4v1.4h-1.4zM66.8 282.8h1.4v1.4h-1.4zM32.5 325.1h1.4v1.4h-1.4zM48.8 315.4h1.4v1.4h-1.4zM45.5 320.3h1.4v1.4h-1.4zM96.5 253.6h1.4v1.4h-1.4zM42.5 322.9h1.4v1.4h-1.4zM72.3 287.8h1.4v1.4h-1.4zM46.1 302.7h1.4v1.4h-1.4zM67.4 292.9h1.4v1.4h-1.4zM36.9 310.2h1.4v1.4h-1.4zM61.6 286.9h1.4v1.4h-1.4zM53.4 309.9h1.4v1.4h-1.4zM42.1 304.1h1.4v1.4h-1.4zM73.1 288.2h1.4v1.4h-1.4zM61.9 300.5h1.4v1.4h-1.4zM34.1 314.9h1.4v1.4h-1.4zM79.5 282.3h1.4v1.4h-1.4zM37.5 324.8h1.4v1.4h-1.4zM60.9 301.5h1.4v1.4h-1.4zM39.3 308.8h1.4v1.4h-1.4zM64.8 296.4h1.4v1.4h-1.4zM55.7 308.8h1.4v1.4h-1.4zM74.3 274.5h1.4v1.4h-1.4zM37.0 325.3h1.4v1.4h-1.4zM70.4 278.0h1.4v1.4h-1.4zM50.0 314.7h1.4v1.4h-1.4zM94.7 255.7h1.4v1.4h-1.4zM67.8 294.9h1.4v1.4h-1.4zM79.3 280.7h1.4v1.4h-1.4zM71.0 276.1h1.4v1.4h-1.4zM63.6 285.1h1.4v1.4h-1.4zM35.8 325.9h1.4v1.4h-1.4zM36.6 324.7h1.4v1.4h-1.4zM82.1 266.5h1.4v1.4h-1.4zM40.2 307.2h1.4v1.4h-1.4zM68.7 280.3h1.4v1.4h-1.4zM72.0 275.2h1.4v1.4h-1.4zM48.6 299.7h1.4v1.4h-1.4zM84.3 276.6h1.4v1.4h-1.4zM64.1 298.1h1.4v1.4h-1.4zM75.4 271.9h1.4v1.4h-1.4zM73.8 286.1h1.4v1.4h-1.4zM70.7 276.5h1.4v1.4h-1.4zM92.9 258.0h1.4v1.4h-1.4zM51.5 313.7h1.4v1.4h-1.4zM84.2 265.5h1.4v1.4h-1.4zM41.3 323.0h1.4v1.4h-1.4zM93.3 255.8h1.4v1.4h-1.4zM88.8 272.2h1.4v1.4h-1.4zM33.0 323.9h1.4v1.4h-1.4zM48.0 316.0h1.4v1.4h-1.4zM47.9 297.8h1.4v1.4h-1.4zM49.9 314.0h1.4v1.4h-1.4zM39.3 306.9h1.4v1.4h-1.4zM72.2 275.6h1.4v1.4h-1.4zM85.2 273.7h1.4v1.4h-1.4zM52.0 296.6h1.4v1.4h-1.4zM48.6 316.5h1.4v1.4h-1.4zM81.6 277.1h1.4v1.4h-1.4zM38.0 309.3h1.4v1.4h-1.4zM70.5 290.1h1.4v1.4h-1.4zM82.8 276.6h1.4v1.4h-1.4zM72.7 289.4h1.4v1.4h-1.4zM89.2 271.0h1.4v1.4h-1.4zM80.9 280.5h1.4v1.4h-1.4zM61.6 300.6h1.4v1.4h-1.4zM75.8 274.2h1.4v1.4h-1.4zM69.4 279.8h1.4v1.4h-1.4zM62.5 285.1h1.4v1.4h-1.4zM74.8 273.9h1.4v1.4h-1.4zM67.2 294.0h1.4v1.4h-1.4zM90.0 260.4h1.4v1.4h-1.4zM66.9 282.1h1.4v1.4h-1.4zM41.1 323.1h1.4v1.4h-1.4zM67.0 295.3h1.4v1.4h-1.4zM97.1 258.3h1.4v1.4h-1.4zM86.9 261.7h1.4v1.4h-1.4zM85.1 266.1h1.4v1.4h-1.4zM53.7 294.6h1.4v1.4h-1.4zM58.9 287.8h1.4v1.4h-1.4zM78.0 282.0h1.4v1.4h-1.4zM61.2 302.0h1.4v1.4h-1.4zM56.1 291.3h1.4v1.4h-1.4zM93.4 257.6h1.4v1.4h-1.4zM82.5 276.3h1.4v1.4h-1.4zM75.3 286.4h1.4v1.4h-1.4zM77.2 282.3h1.4v1.4h-1.4zM68.5 279.1h1.4v1.4h-1.4zM43.0 303.1h1.4v1.4h-1.4zM56.0 307.8h1.4v1.4h-1.4zM82.2 266.1h1.4v1.4h-1.4zM54.7 292.1h1.4v1.4h-1.4zM60.5 288.0h1.4v1.4h-1.4zM69.1 278.7h1.4v1.4h-1.4zM45.3 301.6h1.4v1.4h-1.4zM52.5 295.4h1.4v1.4h-1.4zM43.1 303.0h1.4v1.4h-1.4zM67.5 294.8h1.4v1.4h-1.4zM57.3 289.3h1.4v1.4h-1.4zM96.1 254.2h1.4v1.4h-1.4zM35.3 312.6h1.4v1.4h-1.4zM77.4 270.4h1.4v1.4h-1.4zM71.5 288.0h1.4v1.4h-1.4zM47.4 319.3h1.4v1.4h-1.4zM75.5 274.1h1.4v1.4h-1.4zM91.7 259.6h1.4v1.4h-1.4zM80.9 280.8h1.4v1.4h-1.4zM69.4 292.5h1.4v1.4h-1.4zM70.9 278.9h1.4v1.4h-1.4zM80.4 281.0h1.4v1.4h-1.4zM47.9 315.8h1.4v1.4h-1.4zM77.6 272.7h1.4v1.4h-1.4zM66.9 293.3h1.4v1.4h-1.4zM81.6 278.4h1.4v1.4h-1.4zM32.5 315.1h1.4v1.4h-1.4zM47.8 299.6h1.4v1.4h-1.4zM37.0 311.7h1.4v1.4h-1.4zM96.3 261.4h1.4v1.4h-1.4zM69.1 280.4h1.4v1.4h-1.4zM60.0 287.6h1.4v1.4h-1.4zM73.5 276.2h1.4v1.4h-1.4zM48.2 298.6h1.4v1.4h-1.4zM45.5 301.2h1.4v1.4h-1.4zM41.1 323.7h1.4v1.4h-1.4zM73.1 287.5h1.4v1.4h-1.4zM95.1 262.3h1.4v1.4h-1.4zM65.7 283.2h1.4v1.4h-1.4zM56.1 307.7h1.4v1.4h-1.4zM54.4 292.7h1.4v1.4h-1.4zM59.2 287.2h1.4v1.4h-1.4zM65.8 283.3h1.4v1.4h-1.4zM44.5 302.4h1.4v1.4h-1.4zM88.5 271.1h1.4v1.4h-1.4zM78.2 269.9h1.4v1.4h-1.4zM72.2 289.7h1.4v1.4h-1.4zM84.3 275.7h1.4v1.4h-1.4zM51.1 295.9h1.4v1.4h-1.4zM67.7 279.3h1.4v1.4h-1.4zM39.2 323.1h1.4v1.4h-1.4zM73.7 287.2h1.4v1.4h-1.4zM88.2 271.8h1.4v1.4h-1.4zM38.1 308.7h1.4v1.4h-1.4zM93.7 256.6h1.4v1.4h-1.4zM76.5 272.8h1.4v1.4h-1.4zM59.0 302.5h1.4v1.4h-1.4zM78.8 282.4h1.4v1.4h-1.4zM64.2 284.4h1.4v1.4h-1.4zM59.0 305.0h1.4v1.4h-1.4zM36.5 324.5h1.4v1.4h-1.4zM58.6 304.2h1.4v1.4h-1.4zM68.4 292.6h1.4v1.4h-1.4zM72.0 289.1h1.4v1.4h-1.4zM63.9 297.7h1.4v1.4h-1.4zM61.4 301.9h1.4v1.4h-1.4zM61.5 285.7h1.4v1.4h-1.4zM38.8 309.0h1.4v1.4h-1.4zM47.8 317.3h1.4v1.4h-1.4zM60.5 301.5h1.4v1.4h-1.4zM74.0 273.7h1.4v1.4h-1.4zM78.0 283.5h1.4v1.4h-1.4zM34.8 312.5h1.4v1.4h-1.4zM42.2 322.9h1.4v1.4h-1.4zM85.4 265.1h1.4v1.4h-1.4zM35.9 324.6h1.4v1.4h-1.4zM77.6 272.2h1.4v1.4h-1.4zM50.9 295.4h1.4v1.4h-1.4zM71.8 276.7h1.4v1.4h-1.4zM89.9 261.4h1.4v1.4h-1.4zM73.2 289.2h1.4v1.4h-1.4zM89.2 261.1h1.4v1.4h-1.4zM97.2 258.2h1.4v1.4h-1.4zM79.3 282.5h1.4v1.4h-1.4zM69.4 277.9h1.4v1.4h-1.4zM91.7 268.6h1.4v1.4h-1.4zM64.4 297.3h1.4v1.4h-1.4zM60.3 301.5h1.4v1.4h-1.4zM93.8 255.4h1.4v1.4h-1.4zM84.0 276.5h1.4v1.4h-1.4zM39.9 308.4h1.4v1.4h-1.4zM76.3 283.9h1.4v1.4h-1.4zM66.4 281.0h1.4v1.4h-1.4zM81.6 277.6h1.4v1.4h-1.4zM58.5 290.6h1.4v1.4h-1.4zM96.3 261.0h1.4v1.4h-1.4zM48.7 315.8h1.4v1.4h-1.4zM74.3 274.5h1.4v1.4h-1.4zM96.6 260.0h1.4v1.4h-1.4zM95.0 263.2h1.4v1.4h-1.4zM34.5 323.2h1.4v1.4h-1.4zM85.8 264.8h1.4v1.4h-1.4zM42.7 322.6h1.4v1.4h-1.4zM64.3 296.1h1.4v1.4h-1.4zM84.4 265.1h1.4v1.4h-1.4zM91.6 267.7h1.4v1.4h-1.4zM68.7 293.3h1.4v1.4h-1.4zM84.0 276.0h1.4v1.4h-1.4zM54.5 310.6h1.4v1.4h-1.4zM47.7 317.9h1.4v1.4h-1.4zM82.6 277.6h1.4v1.4h-1.4zM89.9 259.7h1.4v1.4h-1.4z"/>
<path fill="#1a1a1a" d="M66.1 294.5h1.4v1.4h-1.4zM70.5 290.1h1.4v1.4h-1.4zM52.7 311.3h1.4v1.4h-1.4zM36.2 310.4h1.4v1.4h-1.4zM48.1 299.0h1.4v1.4h-1.4zM87.6 273.3h1.4v1.4h-1.4zM78.7 281.1h1.4v1.4h-1.4zM84.0 264.4h1.4v1.4h-1.4zM84.9 266.2h1.4v1.4h-1.4zM82.5 268.3h1.4v1.4h-1.4zM46.2 318.6h1.4v1.4h-1.4zM82.5 278.3h1.4v1.4h-1.4zM51.1 313.0h1.4v1.4h-1.4zM41.6 323.5h1.4v1.4h-1.4zM69.9 290.4h1.4v1.4h-1.4zM42.4 306.2h1.4v1.4h-1.4zM61.4 287.9h1.4v1.4h-1.4zM74.9 285.0h1.4v1.4h-1.4zM84.6 264.6h1.4v1.4h-1.4zM35.6 325.9h1.4v1.4h-1.4zM41.5 325.3h1.4v1.4h-1.4zM53.3 294.8h1.4v1.4h-1.4zM89.0 260.6h1.4v1.4h-1.4zM80.6 267.4h1.4v1.4h-1.4zM85.1 265.5h1.4v1.4h-1.4zM90.8 261.0h1.4v1.4h-1.4zM78.2 271.3h1.4v1.4h-1.4zM61.6 299.8h1.4v1.4h-1.4zM90.4 260.3h1.4v1.4h-1.4zM43.3 303.5h1.4v1.4h-1.4zM61.3 285.6h1.4v1.4h-1.4zM44.4 320.1h1.4v1.4h-1.4zM72.1 276.7h1.4v1.4h-1.4zM74.2 287.9h1.4v1.4h-1.4zM88.3 270.3h1.4v1.4h-1.4zM49.3 314.3h1.4v1.4h-1.4zM52.9 312.6h1.4v1.4h-1.4zM46.4 317.6h1.4v1.4h-1.4zM87.7 273.6h1.4v1.4h-1.4zM39.5 323.6h1.4v1.4h-1.4zM53.0 296.0h1.4v1.4h-1.4zM44.8 303.6h1.4v1.4h-1.4zM77.4 270.3h1.4v1.4h-1.4zM60.9 288.1h1.4v1.4h-1.4zM95.5 255.7h1.4v1.4h-1.4zM94.8 254.7h1.4v1.4h-1.4zM66.0 294.0h1.4v1.4h-1.4zM65.6 281.6h1.4v1.4h-1.4zM54.4 293.2h1.4v1.4h-1.4zM77.4 270.9h1.4v1.4h-1.4zM68.0 281.3h1.4v1.4h-1.4zM91.2 267.2h1.4v1.4h-1.4zM59.0 287.6h1.4v1.4h-1.4zM94.1 257.7h1.4v1.4h-1.4zM73.5 274.2h1.4v1.4h-1.4zM51.8 295.1h1.4v1.4h-1.4zM58.1 289.2h1.4v1.4h-1.4zM92.1 259.9h1.4v1.4h-1.4zM72.4 275.6h1.4v1.4h-1.4zM32.8 323.7h1.4v1.4h-1.4zM43.6 305.2h1.4v1.4h-1.4zM47.8 317.3h1.4v1.4h-1.4zM33.3 313.5h1.4v1.4h-1.4zM58.0 305.6h1.4v1.4h-1.4zM58.1 289.6h1.4v1.4h-1.4zM92.7 265.7h1.4v1.4h-1.4zM34.7 324.7h1.4v1.4h-1.4zM33.9 325.3h1.4v1.4h-1.4zM81.0 278.3h1.4v1.4h-1.4zM78.9 282.4h1.4v1.4h-1.4zM76.1 272.3h1.4v1.4h-1.4zM93.6 265.1h1.4v1.4h-1.4zM36.9 325.2h1.4v1.4h-1.4zM93.7 256.0h1.4v1.4h-1.4zM49.2 298.3h1.4v1.4h-1.4zM52.1 294.1h1.4v1.4h-1.4zM88.3 261.7h1.4v1.4h-1.4zM49.4 298.3h1.4v1.4h-1.4zM84.1 276.9h1.4v1.4h-1.4zM35.7 310.8h1.4v1.4h-1.4zM87.0 263.7h1.4v1.4h-1.4zM49.6 299.0h1.4v1.4h-1.4zM60.1 286.5h1.4v1.4h-1.4zM42.7 304.9h1.4v1.4h-1.4zM53.0 295.5h1.4v1.4h-1.4zM74.0 275.5h1.4v1.4h-1.4zM34.1 314.9h1.4v1.4h-1.4zM83.2 275.9h1.4v1.4h-1.4zM96.3 260.5h1.4v1.4h-1.4zM60.4 286.2h1.4v1.4h-1.4zM94.6 255.9h1.4v1.4h-1.4zM36.3 323.4h1.4v1.4h-1.4zM96.8 252.9h1.4v1.4h-1.4zM50.8 312.8h1.4v1.4h-1.4zM82.8 265.9h1.4v1.4h-1.4zM47.0 299.7h1.4v1.4h-1.4zM89.7 260.3h1.4v1.4h-1.4zM60.9 300.9h1.4v1.4h-1.4zM79.7 268.0h1.4v1.4h-1.4zM92.2 259.3h1.4v1.4h-1.4zM49.6 298.2h1.4v1.4h-1.4zM41.7 305.1h1.4v1.4h-1.4zM82.6 276.3h1.4v1.4h-1.4zM87.8 271.6h1.4v1.4h-1.4zM36.4 324.2h1.4v1.4h-1.4zM82.2 279.0h1.4v1.4h-1.4zM95.3 263.0h1.4v1.4h-1.4zM54.5 311.1h1.4v1.4h-1.4zM56.5 305.6h1.4v1.4h-1.4zM64.8 298.0h1.4v1.4h-1.4zM44.5 302.5h1.4v1.4h-1.4zM68.7 280.1h1.4v1.4h-1.4zM53.1 295.7h1.4v1.4h-1.4zM92.0 268.9h1.4v1.4h-1.4zM55.4 310.0h1.4v1.4h-1.4zM45.3 302.9h1.4v1.4h-1.4zM88.4 269.9h1.4v1.4h-1.4zM64.3 297.6h1.4v1.4h-1.4zM88.9 259.7h1.4v1.4h-1.4zM40.6 307.6h1.4v1.4h-1.4zM52.7 312.5h1.4v1.4h-1.4zM96.3 261.7h1.4v1.4h-1.4zM61.4 300.2h1.4v1.4h-1.4zM73.4 287.5h1.4v1.4h-1.4zM62.6 299.2h1.4v1.4h-1.4zM88.1 271.7h1.4v1.4h-1.4zM35.1 313.0h1.4v1.4h-1.4zM32.8 315.0h1.4v1.4h-1.4zM47.8 318.2h1.4v1.4h-1.4zM66.0 295.7h1.4v1.4h-1.4zM83.0 267.0h1.4v1.4h-1.4zM52.2 296.7h1.4v1.4h-1.4zM90.3 259.1h1.4v1.4h-1.4zM60.7 302.5h1.4v1.4h-1.4zM50.4 298.5h1.4v1.4h-1.4zM56.6 289.7h1.4v1.4h-1.4zM70.7 289.3h1.4v1.4h-1.4zM50.0 296.1h1.4v1.4h-1.4zM66.8 282.7h1.4v1.4h-1.4zM59.2 287.5h1.4v1.4h-1.4zM95.3 255.4h1.4v1.4h-1.4zM34.7 324.9h1.4v1.4h-1.4zM58.9 290.3h1.4v1.4h-1.4zM60.6 302.4h1.4v1.4h-1.4zM68.3 281.5h1.4v1.4h-1.4zM40.9 322.8h1.4v1.4h-1.4zM64.0 283.9h1.4v1.4h-1.4zM57.0 291.2h1.4v1.4h-1.4zM39.0 309.1h1.4v1.4h-1.4zM37.6 325.6h1.4v1.4h-1.4zM56.7 290.3h1.4v1.4h-1.4zM43.5 323.1h1.4v1.4h-1.4zM87.6 271.1h1.4v1.4h-1.4zM83.3 266.8h1.4v1.4h-1.4zM48.2 316.2h1.4v1.4h-1.4zM90.8 268.8h1.4v1.4h-1.4zM53.1 310.2h1.4v1.4h-1.4zM41.3 305.9h1.4v1.4h-1.4zM46.9 300.1h1.4v1.4h-1.4zM68.0 279.5h1.4v1.4h-1.4zM92.6 265.4h1.4v1.4h-1.4zM47.8 318.7h1.4v1.4h-1.4zM40.7 325.4h1.4v1.4h-1.4zM92.0 260.0h1.4v1.4h-1.4zM62.3 287.0h1.4v1.4h-1.4zM48.0 317.7h1.4v1.4h-1.4zM72.6 276.7h1.4v1.4h-1.4zM37.2 310.1h1.4v1.4h-1.4zM36.7 311.6h1.4v1.4h-1.4zM53.0 294.6h1.4v1.4h-1.4zM81.5 268.0h1.4v1.4h-1.4zM82.1 279.7h1.4v1.4h-1.4zM53.7 292.9h1.4v1.4h-1.4zM92.7 258.1h1.4v1.4h-1.4zM65.1 296.5h1.4v1.4h-1.4zM86.3 263.4h1.4v1.4h-1.4zM38.4 308.1h1.4v1.4h-1.4zM53.9 308.9h1.4v1.4h-1.4zM64.1 285.6h1.4v1.4h-1.4zM82.2 279.3h1.4v1.4h-1.4zM94.7 257.3h1.4v1.4h-1.4zM77.5 271.9h1.4v1.4h-1.4zM66.4 281.3h1.4v1.4h-1.4zM39.3 307.9h1.4v1.4h-1.4zM42.2 305.5h1.4v1.4h-1.4zM58.4 289.7h1.4v1.4h-1.4zM76.2 273.6h1.4v1.4h-1.4zM59.6 302.3h1.4v1.4h-1.4zM71.4 289.9h1.4v1.4h-1.4zM60.8 288.4h1.4v1.4h-1.4zM52.9 311.6h1.4v1.4h-1.4zM58.8 288.5h1.4v1.4h-1.4zM45.2 321.7h1.4v1.4h-1.4zM50.9 313.1h1.4v1.4h-1.4zM55.0 292.9h1.4v1.4h-1.4zM86.2 262.7h1.4v1.4h-1.4zM94.2 255.8h1.4v1.4h-1.4zM84.5 275.7h1.4v1.4h-1.4zM65.8 295.5h1.4v1.4h-1.4zM77.4 271.1h1.4v1.4h-1.4zM51.9 295.0h1.4v1.4h-1.4zM72.8 288.2h1.4v1.4h-1.4zM84.1 265.3h1.4v1.4h-1.4zM37.6 323.9h1.4v1.4h-1.4zM73.2 276.5h1.4v1.4h-1.4zM57.2 290.1h1.4v1.4h-1.4zM72.3 288.3h1.4v1.4h-1.4zM87.8 272.4h1.4v1.4h-1.4zM49.0 316.6h1.4v1.4h-1.4zM62.4 298.5h1.4v1.4h-1.4zM78.6 280.8h1.4v1.4h-1.4zM70.4 278.4h1.4v1.4h-1.4zM66.0 283.5h1.4v1.4h-1.4zM69.4 291.2h1.4v1.4h-1.4zM71.5 291.0h1.4v1.4h-1.4zM32.7 315.8h1.4v1.4h-1.4zM52.0 297.2h1.4v1.4h-1.4zM44.3 303.0h1.4v1.4h-1.4zM46.5 320.5h1.4v1.4h-1.4zM39.0 323.8h1.4v1.4h-1.4zM78.1 271.4h1.4v1.4h-1.4zM57.4 288.9h1.4v1.4h-1.4zM32.7 322.9h1.4v1.4h-1.4zM80.8 267.4h1.4v1.4h-1.4zM85.5 262.8h1.4v1.4h-1.4zM63.1 298.8h1.4v1.4h-1.4zM61.7 301.4h1.4v1.4h-1.4zM42.3 323.5h1.4v1.4h-1.4zM72.5 275.3h1.4v1.4h-1.4zM69.6 278.6h1.4v1.4h-1.4zM69.5 277.5h1.4v1.4h-1.4zM96.5 260.3h1.4v1.4h-1.4zM57.1 306.0h1.4v1.4h-1.4zM81.2 280.5h1.4v1.4h-1.4zM85.0 263.2h1.4v1.4h-1.4zM47.6 319.2h1.4v1.4h-1.4zM71.4 289.7h1.4v1.4h-1.4zM71.3 289.7h1.4v1.4h-1.4zM41.0 324.2h1.4v1.4h-1.4zM74.6 287.1h1.4v1.4h-1.4zM32.3 323.4h1.4v1.4h-1.4zM42.2 324.1h1.4v1.4h-1.4zM73.9 286.4h1.4v1.4h-1.4zM45.7 300.8h1.4v1.4h-1.4zM92.0 266.4h1.4v1.4h-1.4zM41.1 324.7h1.4v1.4h-1.4zM42.6 303.6h1.4v1.4h-1.4zM85.2 275.5h1.4v1.4h-1.4zM68.0 279.4h1.4v1.4h-1.4zM84.9 274.3h1.4v1.4h-1.4zM46.2 318.2h1.4v1.4h-1.4zM59.6 288.2h1.4v1.4h-1.4zM95.9 261.8h1.4v1.4h-1.4zM76.9 284.8h1.4v1.4h-1.4zM68.8 280.3h1.4v1.4h-1.4zM66.9 294.9h1.4v1.4h-1.4zM67.7 293.7h1.4v1.4h-1.4zM51.5 295.5h1.4v1.4h-1.4zM90.8 267.8h1.4v1.4h-1.4zM42.9 303.9h1.4v1.4h-1.4zM56.9 289.8h1.4v1.4h-1.4zM56.8 308.3h1.4v1.4h-1.4zM88.4 260.6h1.4v1.4h-1.4zM75.0 273.5h1.4v1.4h-1.4zM86.3 272.1h1.4v1.4h-1.4zM55.2 293.2h1.4v1.4h-1.4zM55.2 292.9h1.4v1.4h-1.4zM90.6 260.8h1.4v1.4h-1.4zM36.5 312.0h1.4v1.4h-1.4zM74.0 275.1h1.4v1.4h-1.4zM44.8 303.3h1.4v1.4h-1.4zM63.9 296.9h1.4v1.4h-1.4zM91.9 266.3h1.4v1.4h-1.4zM91.9 267.0h1.4v1.4h-1.4zM41.5 325.3h1.4v1.4h-1.4zM53.6 293.4h1.4v1.4h-1.4zM32.8 324.0h1.4v1.4h-1.4zM63.9 299.1h1.4v1.4h-1.4zM55.0 309.9h1.4v1.4h-1.4zM58.3 288.8h1.4v1.4h-1.4zM51.2 296.9h1.4v1.4h-1.4zM96.4 260.3h1.4v1.4h-1.4zM93.4 255.9h1.4v1.4h-1.4zM41.5 307.1h1.4v1.4h-1.4zM75.4 272.7h1.4v1.4h-1.4zM71.6 288.3h1.4v1.4h-1.4zM57.5 290.6h1.4v1.4h-1.4zM89.9 259.0h1.4v1.4h-1.4zM46.2 300.8h1.4v1.4h-1.4zM57.6 304.8h1.4v1.4h-1.4zM56.6 306.2h1.4v1.4h-1.4zM68.9 278.0h1.4v1.4h-1.4zM52.6 294.2h1.4v1.4h-1.4zM42.7 324.7h1.4v1.4h-1.4zM88.1 262.5h1.4v1.4h-1.4zM51.6 313.0h1.4v1.4h-1.4zM85.8 264.9h1.4v1.4h-1.4zM64.1 297.9h1.4v1.4h-1.4zM62.5 300.6h1.4v1.4h-1.4zM86.2 275.2h1.4v1.4h-1.4zM51.1 296.1h1.4v1.4h-1.4zM44.2 323.1h1.4v1.4h-1.4zM96.6 254.6h1.4v1.4h-1.4zM56.7 291.1h1.4v1.4h-1.4zM54.5 291.9h1.4v1.4h-1.4zM50.5 314.4h1.4v1.4h-1.4zM97.2 257.4h1.4v1.4h-1.4zM82.3 278.1h1.4v1.4h-1.4zM75.9 272.6h1.4v1.4h-1.4zM73.7 275.3h1.4v1.4h-1.4z"/>
<path fill="#1a1a1a" fill-opacity="0.5" d="M40.6 306.6h1.4v1.4h-1.4zM73.8 274.2h1.4v1.4h-1.4zM88.0 270.7h1.4v1.4h-1.4zM86.5 264.9h1.4v1.4h-1.4zM57.9 305.3h1.4v1.4h-1.4zM68.5 279.3h1.4v1.4h-1.4zM34.3 313.0h1.4v1.4h-1.4zM93.0 267.1h1.4v1.4h-1.4zM80.3 280.9h1.4v1.4h-1.4zM33.8 325.3h1.4v1.4h-1.4zM80.1 281.0h1.4v1.4h-1.4zM93.9 264.3h1.4v1.4h-1.4zM40.6 323.6h1.4v1.4h-1.4zM46.3 318.6h1.4v1.4h-1.4zM50.3 314.0h1.4v1.4h-1.4zM51.9 313.6h1.4v1.4h-1.4zM97.2 253.1h1.4v1.4h-1.4zM61.7 300.2h1.4v1.4h-1.4zM84.0 267.1h1.4v1.4h-1.4zM78.9 281.9h1.4v1.4h-1.4zM47.1 316.9h1.4v1.4h-1.4zM85.9 274.8h1.4v1.4h-1.4zM56.2 306.9h1.4v1.4h-1.4zM33.5 314.3h1.4v1.4h-1.4zM95.8 263.0h1.4v1.4h-1.4zM36.2 322.8h1.4v1.4h-1.4zM51.5 313.9h1.4v1.4h-1.4zM43.7 323.2h1.4v1.4h-1.4zM42.9 322.2h1.4v1.4h-1.4zM87.8 271.3h1.4v1.4h-1.4zM51.7 313.4h1.4v1.4h-1.4zM70.0 277.4h1.4v1.4h-1.4zM69.7 292.5h1.4v1.4h-1.4zM53.5 295.3h1.4v1.4h-1.4zM38.3 310.5h1.4v1.4h-1.4zM96.9 258.1h1.4v1.4h-1.4zM45.7 301.6h1.4v1.4h-1.4zM77.6 283.2h1.4v1.4h-1.4zM74.9 275.2h1.4v1.4h-1.4zM46.0 319.4h1.4v1.4h-1.4zM53.3 292.9h1.4v1.4h-1.4zM87.2 262.8h1.4v1.4h-1.4zM95.1 262.4h1.4v1.4h-1.4zM40.6 325.4h1.4v1.4h-1.4zM90.2 270.4h1.4v1.4h-1.4zM85.8 264.9h1.4v1.4h-1.4zM40.4 306.1h1.4v1.4h-1.4zM94.6 265.3h1.4v1.4h-1.4zM63.9 283.4h1.4v1.4h-1.4zM56.5 291.2h1.4v1.4h-1.4zM34.0 323.8h1.4v1.4h-1.4zM44.1 321.9h1.4v1.4h-1.4zM57.0 292.0h1.4v1.4h-1.4zM50.5 315.0h1.4v1.4h-1.4zM82.7 265.8h1.4v1.4h-1.4zM76.5 283.1h1.4v1.4h-1.4z"/>
<path fill="#141414" fill-opacity="0.5" d="M108.6 242.9h1.4v1.4h-1.4zM104.8 249.6h1.4v1.4h-1.4zM98.0 259.3h1.4v1.4h-1.4zM92.6 263.0h1.4v1.4h-1.4zM98.6 251.3h1.4v1.4h-1.4zM91.9 259.9h1.4v1.4h-1.4zM104.8 249.7h1.4v1.4h-1.4zM114.8 237.6h1.4v1.4h-1.4zM108.8 244.5h1.4v1.4h-1.4zM106.9 253.2h1.4v1.4h-1.4zM104.5 245.9h1.4v1.4h-1.4zM95.0 258.8h1.4v1.4h-1.4zM96.6 265.1h1.4v1.4h-1.4zM106.5 252.9h1.4v1.4h-1.4zM95.9 258.2h1.4v1.4h-1.4zM114.7 243.8h1.4v1.4h-1.4zM100.7 253.8h1.4v1.4h-1.4zM100.5 255.9h1.4v1.4h-1.4zM104.1 247.3h1.4v1.4h-1.4zM105.8 249.6h1.4v1.4h-1.4zM92.5 253.9h1.4v1.4h-1.4zM100.8 254.2h1.4v1.4h-1.4zM91.4 258.8h1.4v1.4h-1.4zM95.7 255.7h1.4v1.4h-1.4zM94.7 259.9h1.4v1.4h-1.4zM111.4 238.8h1.4v1.4h-1.4zM98.2 255.6h1.4v1.4h-1.4zM111.7 241.8h1.4v1.4h-1.4zM108.3 248.2h1.4v1.4h-1.4zM96.8 257.2h1.4v1.4h-1.4zM111.1 240.7h1.4v1.4h-1.4zM112.9 246.2h1.4v1.4h-1.4zM110.6 238.6h1.4v1.4h-1.4zM92.4 262.4h1.4v1.4h-1.4zM112.0 238.9h1.4v1.4h-1.4zM95.7 261.4h1.4v1.4h-1.4zM103.0 254.3h1.4v1.4h-1.4zM113.2 248.9h1.4v1.4h-1.4zM91.9 257.6h1.4v1.4h-1.4zM92.9 262.5h1.4v1.4h-1.4zM93.8 261.1h1.4v1.4h-1.4zM98.9 251.8h1.4v1.4h-1.4zM112.5 239.0h1.4v1.4h-1.4zM112.9 237.5h1.4v1.4h-1.4zM97.4 260.8h1.4v1.4h-1.4zM111.6 233.6h1.4v1.4h-1.4zM112.6 245.1h1.4v1.4h-1.4zM101.3 254.2h1.4v1.4h-1.4zM100.2 251.8h1.4v1.4h-1.4zM91.3 265.1h1.4v1.4h-1.4zM107.7 251.9h1.4v1.4h-1.4zM95.3 253.3h1.4v1.4h-1.4zM105.3 248.5h1.4v1.4h-1.4zM96.7 260.6h1.4v1.4h-1.4zM103.3 254.1h1.4v1.4h-1.4zM96.9 255.2h1.4v1.4h-1.4zM94.2 260.2h1.4v1.4h-1.4zM111.2 238.9h1.4v1.4h-1.4zM113.1 240.6h1.4v1.4h-1.4zM96.3 258.9h1.4v1.4h-1.4zM111.0 246.3h1.4v1.4h-1.4zM100.5 252.8h1.4v1.4h-1.4zM91.5 262.4h1.4v1.4h-1.4zM104.0 243.9h1.4v1.4h-1.4zM97.4 257.1h1.4v1.4h-1.4zM104.4 251.5h1.4v1.4h-1.4zM102.6 253.2h1.4v1.4h-1.4zM94.6 255.4h1.4v1.4h-1.4zM112.0 247.5h1.4v1.4h-1.4zM113.4 242.0h1.4v1.4h-1.4zM101.4 256.4h1.4v1.4h-1.4zM99.6 256.2h1.4v1.4h-1.4zM100.5 253.8h1.4v1.4h-1.4zM103.9 252.6h1.4v1.4h-1.4zM95.8 252.4h1.4v1.4h-1.4zM108.3 253.3h1.4v1.4h-1.4zM97.7 254.4h1.4v1.4h-1.4zM103.0 251.9h1.4v1.4h-1.4zM92.9 259.7h1.4v1.4h-1.4zM97.2 256.2h1.4v1.4h-1.4zM106.6 253.3h1.4v1.4h-1.4zM110.7 240.5h1.4v1.4h-1.4zM104.1 256.4h1.4v1.4h-1.4zM101.7 251.0h1.4v1.4h-1.4zM102.1 246.9h1.4v1.4h-1.4zM111.7 244.6h1.4v1.4h-1.4zM106.3 248.3h1.4v1.4h-1.4zM112.2 243.3h1.4v1.4h-1.4zM96.8 252.0h1.4v1.4h-1.4zM97.6 254.2h1.4v1.4h-1.4zM108.6 246.5h1.4v1.4h-1.4zM107.6 254.2h1.4v1.4h-1.4zM93.4 264.8h1.4v1.4h-1.4zM110.8 243.4h1.4v1.4h-1.4zM99.3 252.5h1.4v1.4h-1.4zM107.8 244.2h1.4v1.4h-1.4zM97.7 255.2h1.4v1.4h-1.4zM102.3 253.9h1.4v1.4h-1.4zM103.3 250.7h1.4v1.4h-1.4zM102.7 255.1h1.4v1.4h-1.4zM101.0 248.1h1.4v1.4h-1.4zM108.1 246.3h1.4v1.4h-1.4zM106.1 247.2h1.4v1.4h-1.4zM112.4 241.1h1.4v1.4h-1.4zM91.5 263.8h1.4v1.4h-1.4zM92.8 264.6h1.4v1.4h-1.4zM115.1 237.4h1.4v1.4h-1.4zM103.1 250.2h1.4v1.4h-1.4zM107.4 247.5h1.4v1.4h-1.4zM104.8 247.8h1.4v1.4h-1.4zM107.6 252.0h1.4v1.4h-1.4zM94.4 256.6h1.4v1.4h-1.4zM94.0 267.4h1.4v1.4h-1.4zM97.7 255.9h1.4v1.4h-1.4zM98.3 256.4h1.4v1.4h-1.4zM102.3 250.0h1.4v1.4h-1.4zM99.1 256.3h1.4v1.4h-1.4zM94.7 262.7h1.4v1.4h-1.4zM100.3 252.9h1.4v1.4h-1.4zM109.0 243.9h1.4v1.4h-1.4zM108.1 246.0h1.4v1.4h-1.4zM113.9 240.2h1.4v1.4h-1.4zM102.4 252.6h1.4v1.4h-1.4zM94.8 261.5h1.4v1.4h-1.4zM103.3 249.9h1.4v1.4h-1.4zM114.8 237.0h1.4v1.4h-1.4zM115.1 245.9h1.4v1.4h-1.4zM104.5 248.9h1.4v1.4h-1.4zM99.6 252.1h1.4v1.4h-1.4zM96.1 257.7h1.4v1.4h-1.4zM97.1 258.8h1.4v1.4h-1.4z"/>
<path fill="#141414" fill-opacity="0.75" d="M106.0 246.4h1.4v1.4h-1.4zM108.8 246.5h1.4v1.4h-1.4zM91.6 265.7h1.4v1.4h-1.4zM101.6 252.0h1.4v1.4h-1.4zM108.7 245.3h1.4v1.4h-1.4zM106.1 242.4h1.4v1.4h-1.4zM104.3 248.6h1.4v1.4h-1.4zM108.1 249.9h1.4v1.4h-1.4zM107.2 249.0h1.4v1.4h-1.4zM107.7 246.9h1.4v1.4h-1.4zM92.9 259.6h1.4v1.4h-1.4zM102.6 247.1h1.4v1.4h-1.4zM113.7 241.9h1.4v1.4h-1.4zM96.3 258.5h1.4v1.4h-1.4zM110.1 240.6h1.4v1.4h-1.4zM110.3 244.3h1.4v1.4h-1.4zM103.6 256.1h1.4v1.4h-1.4zM111.5 251.3h1.4v1.4h-1.4zM91.7 262.5h1.4v1.4h-1.4zM113.4 240.0h1.4v1.4h-1.4zM100.6 253.1h1.4v1.4h-1.4zM107.9 251.7h1.4v1.4h-1.4zM104.9 248.1h1.4v1.4h-1.4zM100.5 253.7h1.4v1.4h-1.4zM109.3 243.9h1.4v1.4h-1.4zM108.6 244.4h1.4v1.4h-1.4zM93.2 267.6h1.4v1.4h-1.4zM96.3 261.0h1.4v1.4h-1.4zM93.6 259.5h1.4v1.4h-1.4zM102.8 246.9h1.4v1.4h-1.4zM97.9 254.2h1.4v1.4h-1.4zM112.0 239.6h1.4v1.4h-1.4zM94.8 254.3h1.4v1.4h-1.4zM91.3 263.0h1.4v1.4h-1.4zM92.7 264.5h1.4v1.4h-1.4zM109.6 246.3h1.4v1.4h-1.4zM105.2 252.2h1.4v1.4h-1.4zM97.0 259.0h1.4v1.4h-1.4zM108.5 242.4h1.4v1.4h-1.4zM108.0 245.4h1.4v1.4h-1.4zM111.6 240.6h1.4v1.4h-1.4zM97.3 261.3h1.4v1.4h-1.4zM107.0 246.5h1.4v1.4h-1.4zM107.0 247.2h1.4v1.4h-1.4zM107.2 244.4h1.4v1.4h-1.4zM92.8 265.2h1.4v1.4h-1.4zM106.1 245.3h1.4v1.4h-1.4zM103.5 248.2h1.4v1.4h-1.4zM106.3 250.0h1.4v1.4h-1.4zM95.1 263.3h1.4v1.4h-1.4zM112.2 244.3h1.4v1.4h-1.4zM105.3 250.4h1.4v1.4h-1.4zM113.0 243.2h1.4v1.4h-1.4zM110.9 248.2h1.4v1.4h-1.4zM110.7 243.1h1.4v1.4h-1.4zM104.1 248.7h1.4v1.4h-1.4zM96.4 258.1h1.4v1.4h-1.4zM106.5 246.1h1.4v1.4h-1.4zM102.8 254.6h1.4v1.4h-1.4zM109.4 243.5h1.4v1.4h-1.4zM99.2 256.2h1.4v1.4h-1.4zM114.5 235.5h1.4v1.4h-1.4zM114.0 237.7h1.4v1.4h-1.4zM109.9 247.7h1.4v1.4h-1.4zM98.9 249.5h1.4v1.4h-1.4zM91.5 263.3h1.4v1.4h-1.4zM113.1 244.0h1.4v1.4h-1.4zM112.4 250.7h1.4v1.4h-1.4zM114.3 237.6h1.4v1.4h-1.4zM111.9 245.3h1.4v1.4h-1.4zM112.2 245.3h1.4v1.4h-1.4zM93.0 262.0h1.4v1.4h-1.4zM104.2 253.8h1.4v1.4h-1.4zM99.8 258.0h1.4v1.4h-1.4zM108.3 247.1h1.4v1.4h-1.4zM115.0 239.5h1.4v1.4h-1.4zM95.5 255.4h1.4v1.4h-1.4zM108.5 249.1h1.4v1.4h-1.4zM104.5 246.0h1.4v1.4h-1.4zM99.8 255.6h1.4v1.4h-1.4zM108.6 246.0h1.4v1.4h-1.4zM111.0 246.4h1.4v1.4h-1.4zM94.0 263.5h1.4v1.4h-1.4zM102.8 250.4h1.4v1.4h-1.4zM104.2 254.7h1.4v1.4h-1.4zM110.9 238.8h1.4v1.4h-1.4zM103.6 254.4h1.4v1.4h-1.4zM105.7 246.8h1.4v1.4h-1.4zM110.4 249.2h1.4v1.4h-1.4zM107.8 245.9h1.4v1.4h-1.4zM96.2 254.6h1.4v1.4h-1.4zM96.6 258.9h1.4v1.4h-1.4zM112.8 242.3h1.4v1.4h-1.4zM110.9 241.6h1.4v1.4h-1.4zM108.5 239.2h1.4v1.4h-1.4zM108.0 247.6h1.4v1.4h-1.4zM98.8 251.0h1.4v1.4h-1.4zM113.5 238.5h1.4v1.4h-1.4zM104.0 243.0h1.4v1.4h-1.4zM112.3 246.6h1.4v1.4h-1.4zM106.5 250.2h1.4v1.4h-1.4zM100.9 254.4h1.4v1.4h-1.4zM100.9 258.2h1.4v1.4h-1.4zM99.2 253.4h1.4v1.4h-1.4zM113.7 247.1h1.4v1.4h-1.4zM114.8 240.5h1.4v1.4h-1.4zM91.9 262.6h1.4v1.4h-1.4zM101.7 257.1h1.4v1.4h-1.4zM94.5 262.8h1.4v1.4h-1.4zM96.1 261.7h1.4v1.4h-1.4zM102.9 254.8h1.4v1.4h-1.4zM106.2 247.6h1.4v1.4h-1.4zM110.5 245.3h1.4v1.4h-1.4zM113.8 241.8h1.4v1.4h-1.4zM93.8 261.7h1.4v1.4h-1.4zM110.2 240.9h1.4v1.4h-1.4zM104.7 252.3h1.4v1.4h-1.4zM104.4 247.6h1.4v1.4h-1.4zM109.1 244.3h1.4v1.4h-1.4zM99.2 250.3h1.4v1.4h-1.4zM103.5 257.4h1.4v1.4h-1.4zM93.0 257.7h1.4v1.4h-1.4zM111.9 239.3h1.4v1.4h-1.4zM112.8 241.0h1.4v1.4h-1.4zM111.5 244.1h1.4v1.4h-1.4zM94.7 264.0h1.4v1.4h-1.4zM91.7 265.2h1.4v1.4h-1.4zM95.3 255.3h1.4v1.4h-1.4zM105.6 243.1h1.4v1.4h-1.4zM92.3 266.7h1.4v1.4h-1.4zM114.6 236.5h1.4v1.4h-1.4zM101.1 255.4h1.4v1.4h-1.4zM108.0 252.5h1.4v1.4h-1.4zM113.1 242.5h1.4v1.4h-1.4zM105.5 239.9h1.4v1.4h-1.4zM103.3 249.9h1.4v1.4h-1.4zM91.3 264.3h1.4v1.4h-1.4zM103.4 246.2h1.4v1.4h-1.4zM113.0 241.8h1.4v1.4h-1.4zM97.4 251.3h1.4v1.4h-1.4zM97.5 257.0h1.4v1.4h-1.4zM113.4 239.4h1.4v1.4h-1.4zM91.5 265.5h1.4v1.4h-1.4zM101.2 251.5h1.4v1.4h-1.4zM107.0 245.6h1.4v1.4h-1.4zM96.6 257.4h1.4v1.4h-1.4zM94.9 258.0h1.4v1.4h-1.4zM92.2 258.5h1.4v1.4h-1.4zM113.7 241.4h1.4v1.4h-1.4zM99.3 251.1h1.4v1.4h-1.4zM101.4 254.9h1.4v1.4h-1.4zM102.4 247.2h1.4v1.4h-1.4zM94.2 253.1h1.4v1.4h-1.4zM110.9 241.7h1.4v1.4h-1.4zM98.8 255.5h1.4v1.4h-1.4zM108.2 250.2h1.4v1.4h-1.4zM93.7 261.6h1.4v1.4h-1.4zM109.9 250.5h1.4v1.4h-1.4zM113.7 238.4h1.4v1.4h-1.4zM114.7 244.3h1.4v1.4h-1.4zM113.5 242.8h1.4v1.4h-1.4zM113.4 245.9h1.4v1.4h-1.4zM115.2 238.7h1.4v1.4h-1.4zM111.4 242.1h1.4v1.4h-1.4zM109.1 246.8h1.4v1.4h-1.4zM96.1 259.2h1.4v1.4h-1.4zM106.6 245.0h1.4v1.4h-1.4zM103.8 249.2h1.4v1.4h-1.4zM102.2 254.0h1.4v1.4h-1.4zM110.5 240.0h1.4v1.4h-1.4zM110.2 246.4h1.4v1.4h-1.4zM101.4 249.1h1.4v1.4h-1.4zM110.8 239.2h1.4v1.4h-1.4zM101.4 254.5h1.4v1.4h-1.4zM115.0 246.3h1.4v1.4h-1.4zM106.7 248.6h1.4v1.4h-1.4zM109.3 251.6h1.4v1.4h-1.4zM111.3 242.2h1.4v1.4h-1.4zM107.7 252.9h1.4v1.4h-1.4zM91.8 265.7h1.4v1.4h-1.4zM99.0 258.8h1.4v1.4h-1.4zM111.7 243.7h1.4v1.4h-1.4zM106.0 245.2h1.4v1.4h-1.4zM94.6 256.8h1.4v1.4h-1.4zM108.2 240.5h1.4v1.4h-1.4zM113.0 237.9h1.4v1.4h-1.4zM103.2 252.4h1.4v1.4h-1.4zM101.4 253.2h1.4v1.4h-1.4zM96.8 259.2h1.4v1.4h-1.4zM109.6 243.6h1.4v1.4h-1.4zM92.1 263.4h1.4v1.4h-1.4zM109.1 249.7h1.4v1.4h-1.4zM114.6 238.2h1.4v1.4h-1.4zM103.0 255.9h1.4v1.4h-1.4zM102.3 252.5h1.4v1.4h-1.4zM113.2 242.7h1.4v1.4h-1.4zM99.0 255.1h1.4v1.4h-1.4zM115.1 237.7h1.4v1.4h-1.4zM109.0 248.8h1.4v1.4h-1.4zM92.7 260.9h1.4v1.4h-1.4zM95.8 251.7h1.4v1.4h-1.4zM103.9 251.0h1.4v1.4h-1.4zM95.2 257.8h1.4v1.4h-1.4zM97.6 256.9h1.4v1.4h-1.4zM107.3 243.4h1.4v1.4h-1.4zM96.9 257.3h1.4v1.4h-1.4zM106.1 246.3h1.4v1.4h-1.4zM102.0 252.4h1.4v1.4h-1.4zM91.7 263.6h1.4v1.4h-1.4zM109.9 250.8h1.4v1.4h-1.4zM106.2 246.8h1.4v1.4h-1.4zM113.6 242.8h1.4v1.4h-1.4zM98.4 257.0h1.4v1.4h-1.4zM99.2 260.2h1.4v1.4h-1.4zM100.1 254.6h1.4v1.4h-1.4zM92.7 258.1h1.4v1.4h-1.4zM104.0 246.2h1.4v1.4h-1.4zM105.6 249.6h1.4v1.4h-1.4zM114.1 242.7h1.4v1.4h-1.4zM95.7 251.1h1.4v1.4h-1.4zM107.5 242.0h1.4v1.4h-1.4zM105.5 245.1h1.4v1.4h-1.4zM108.5 256.1h1.4v1.4h-1.4zM110.6 242.4h1.4v1.4h-1.4zM97.4 254.5h1.4v1.4h-1.4zM110.7 242.1h1.4v1.4h-1.4zM93.2 259.1h1.4v1.4h-1.4zM105.9 251.4h1.4v1.4h-1.4zM108.6 247.9h1.4v1.4h-1.4zM114.9 235.2h1.4v1.4h-1.4zM91.4 256.7h1.4v1.4h-1.4zM109.9 248.8h1.4v1.4h-1.4zM97.6 252.8h1.4v1.4h-1.4zM92.7 254.7h1.4v1.4h-1.4zM102.9 247.1h1.4v1.4h-1.4zM108.5 241.8h1.4v1.4h-1.4zM92.6 263.2h1.4v1.4h-1.4zM93.2 260.9h1.4v1.4h-1.4zM102.4 252.3h1.4v1.4h-1.4zM93.3 258.4h1.4v1.4h-1.4zM113.1 237.9h1.4v1.4h-1.4zM112.8 247.4h1.4v1.4h-1.4zM103.6 251.0h1.4v1.4h-1.4zM94.3 262.0h1.4v1.4h-1.4zM106.6 249.3h1.4v1.4h-1.4zM102.4 251.6h1.4v1.4h-1.4zM100.9 250.1h1.4v1.4h-1.4zM103.4 245.4h1.4v1.4h-1.4zM114.3 242.9h1.4v1.4h-1.4zM110.7 243.4h1.4v1.4h-1.4zM102.0 248.2h1.4v1.4h-1.4zM102.5 257.0h1.4v1.4h-1.4zM108.3 244.3h1.4v1.4h-1.4zM105.4 247.2h1.4v1.4h-1.4zM109.3 242.4h1.4v1.4h-1.4zM114.9 236.8h1.4v1.4h-1.4zM95.8 255.7h1.4v1.4h-1.4zM97.9 256.4h1.4v1.4h-1.4zM105.2 251.6h1.4v1.4h-1.4zM107.3 242.7h1.4v1.4h-1.4zM104.4 254.3h1.4v1.4h-1.4zM101.3 252.4h1.4v1.4h-1.4z"/>
<path fill="#141414" d="M107.5 248.8h1.4v1.4h-1.4zM100.2 258.9h1.4v1.4h-1.4zM103.6 247.2h1.4v1.4h-1.4zM93.6 266.3h1.4v1.4h-1.4zM99.3 260.4h1.4v1.4h-1.4zM105.9 242.7h1.4v1.4h-1.4zM98.6 256.4h1.4v1.4h-1.4zM109.4 249.1h1.4v1.4h-1.4zM113.7 242.5h1.4v1.4h-1.4zM110.4 245.2h1.4v1.4h-1.4zM105.3 248.9h1.4v1.4h-1.4zM100.8 252.7h1.4v1.4h-1.4zM113.4 242.4h1.4v1.4h-1.4zM92.1 258.8h1.4v1.4h-1.4zM109.7 245.3h1.4v1.4h-1.4zM97.6 258.6h1.4v1.4h-1.4zM92.2 264.3h1.4v1.4h-1.4zM106.9 251.5h1.4v1.4h-1.4zM106.2 249.1h1.4v1.4h-1.4zM104.9 248.8h1.4v1.4h-1.4zM109.9 240.4h1.4v1.4h-1.4zM112.9 246.6h1.4v1.4h-1.4zM112.6 239.2h1.4v1.4h-1.4zM114.6 240.3h1.4v1.4h-1.4zM109.5 246.7h1.4v1.4h-1.4zM91.7 266.4h1.4v1.4h-1.4zM108.7 246.0h1.4v1.4h-1.4zM110.4 246.0h1.4v1.4h-1.4zM103.6 249.6h1.4v1.4h-1.4zM109.9 244.4h1.4v1.4h-1.4zM92.8 265.2h1.4v1.4h-1.4zM111.4 246.9h1.4v1.4h-1.4zM109.5 244.3h1.4v1.4h-1.4zM99.5 254.0h1.4v1.4h-1.4zM92.5 255.8h1.4v1.4h-1.4zM95.5 260.1h1.4v1.4h-1.4zM91.8 271.6h1.4v1.4h-1.4zM97.4 259.8h1.4v1.4h-1.4zM101.5 255.8h1.4v1.4h-1.4zM93.8 260.9h1.4v1.4h-1.4zM95.9 257.4h1.4v1.4h-1.4zM92.4 257.0h1.4v1.4h-1.4zM97.9 264.9h1.4v1.4h-1.4zM110.1 248.1h1.4v1.4h-1.4zM98.3 254.7h1.4v1.4h-1.4zM91.7 262.0h1.4v1.4h-1.4zM100.5 255.4h1.4v1.4h-1.4zM114.7 236.8h1.4v1.4h-1.4zM93.0 261.7h1.4v1.4h-1.4zM110.8 249.7h1.4v1.4h-1.4zM111.0 236.8h1.4v1.4h-1.4zM98.2 259.0h1.4v1.4h-1.4zM106.0 245.5h1.4v1.4h-1.4zM96.7 255.6h1.4v1.4h-1.4zM97.7 251.2h1.4v1.4h-1.4zM114.4 240.8h1.4v1.4h-1.4zM110.0 246.0h1.4v1.4h-1.4zM107.8 247.3h1.4v1.4h-1.4zM101.9 251.2h1.4v1.4h-1.4zM94.2 254.7h1.4v1.4h-1.4zM93.2 259.7h1.4v1.4h-1.4zM104.0 252.1h1.4v1.4h-1.4zM96.4 260.4h1.4v1.4h-1.4zM112.5 245.4h1.4v1.4h-1.4zM98.7 263.3h1.4v1.4h-1.4zM91.7 261.8h1.4v1.4h-1.4zM100.1 250.1h1.4v1.4h-1.4zM109.0 243.7h1.4v1.4h-1.4zM107.7 244.0h1.4v1.4h-1.4zM100.9 253.0h1.4v1.4h-1.4zM105.6 252.9h1.4v1.4h-1.4zM106.4 248.3h1.4v1.4h-1.4zM108.5 246.4h1.4v1.4h-1.4zM109.3 250.7h1.4v1.4h-1.4zM92.0 262.1h1.4v1.4h-1.4zM94.9 259.3h1.4v1.4h-1.4zM95.2 258.1h1.4v1.4h-1.4zM107.4 241.8h1.4v1.4h-1.4zM92.0 257.4h1.4v1.4h-1.4zM95.9 255.6h1.4v1.4h-1.4zM112.0 241.9h1.4v1.4h-1.4zM103.0 248.0h1.4v1.4h-1.4zM112.1 243.1h1.4v1.4h-1.4zM103.0 254.2h1.4v1.4h-1.4zM109.9 244.5h1.4v1.4h-1.4zM112.6 238.7h1.4v1.4h-1.4zM91.5 257.2h1.4v1.4h-1.4zM99.2 244.7h1.4v1.4h-1.4zM113.8 245.2h1.4v1.4h-1.4zM98.7 260.3h1.4v1.4h-1.4zM113.5 239.7h1.4v1.4h-1.4zM106.2 255.4h1.4v1.4h-1.4zM93.0 263.5h1.4v1.4h-1.4zM99.5 260.4h1.4v1.4h-1.4zM103.7 247.9h1.4v1.4h-1.4zM101.2 257.6h1.4v1.4h-1.4zM107.1 251.8h1.4v1.4h-1.4zM101.3 245.3h1.4v1.4h-1.4zM110.8 240.1h1.4v1.4h-1.4zM91.3 259.3h1.4v1.4h-1.4zM114.3 238.9h1.4v1.4h-1.4zM113.5 240.9h1.4v1.4h-1.4zM109.4 242.9h1.4v1.4h-1.4zM106.7 249.7h1.4v1.4h-1.4zM99.4 258.6h1.4v1.4h-1.4zM101.0 254.8h1.4v1.4h-1.4zM101.6 247.5h1.4v1.4h-1.4zM98.7 260.4h1.4v1.4h-1.4zM95.6 257.7h1.4v1.4h-1.4zM93.2 263.2h1.4v1.4h-1.4zM104.7 244.5h1.4v1.4h-1.4zM108.0 248.8h1.4v1.4h-1.4zM107.2 249.6h1.4v1.4h-1.4zM95.8 259.6h1.4v1.4h-1.4zM97.6 257.2h1.4v1.4h-1.4zM104.6 249.9h1.4v1.4h-1.4zM100.5 252.1h1.4v1.4h-1.4zM103.0 246.3h1.4v1.4h-1.4zM110.7 238.7h1.4v1.4h-1.4zM109.8 245.8h1.4v1.4h-1.4zM106.5 245.7h1.4v1.4h-1.4zM97.8 257.1h1.4v1.4h-1.4zM105.9 248.1h1.4v1.4h-1.4zM110.1 248.5h1.4v1.4h-1.4zM100.2 255.1h1.4v1.4h-1.4zM113.6 244.9h1.4v1.4h-1.4zM107.1 242.0h1.4v1.4h-1.4z"/>
<path fill="#161616" d="M133.4 222.5h1.3v1.3h-1.3zM114.9 236.4h1.3v1.3h-1.3zM135.3 221.2h1.3v1.3h-1.3zM142.4 214.7h1.3v1.3h-1.3zM133.0 218.6h1.3v1.3h-1.3zM118.3 238.4h1.3v1.3h-1.3zM140.6 221.7h1.3v1.3h-1.3zM138.0 223.3h1.3v1.3h-1.3zM129.9 230.4h1.3v1.3h-1.3zM127.8 233.1h1.3v1.3h-1.3zM138.3 218.9h1.3v1.3h-1.3zM113.3 244.0h1.3v1.3h-1.3zM131.0 222.6h1.3v1.3h-1.3zM133.5 219.9h1.3v1.3h-1.3zM127.0 228.3h1.3v1.3h-1.3zM141.9 218.5h1.3v1.3h-1.3zM113.4 236.6h1.3v1.3h-1.3zM131.0 223.1h1.3v1.3h-1.3zM115.1 244.3h1.3v1.3h-1.3zM113.8 236.2h1.3v1.3h-1.3zM107.7 238.7h1.3v1.3h-1.3zM135.7 219.9h1.3v1.3h-1.3zM111.4 242.8h1.3v1.3h-1.3zM123.0 230.9h1.3v1.3h-1.3zM118.7 237.4h1.3v1.3h-1.3zM128.3 228.8h1.3v1.3h-1.3zM118.9 235.8h1.3v1.3h-1.3zM136.4 222.7h1.3v1.3h-1.3zM128.7 232.9h1.3v1.3h-1.3zM127.1 229.2h1.3v1.3h-1.3zM119.8 236.4h1.3v1.3h-1.3zM125.0 230.4h1.3v1.3h-1.3zM124.0 233.4h1.3v1.3h-1.3zM114.1 242.0h1.3v1.3h-1.3zM134.7 220.4h1.3v1.3h-1.3zM134.3 220.5h1.3v1.3h-1.3zM137.3 224.3h1.3v1.3h-1.3z"/>
<path fill="#161616" fill-opacity="0.75" d="M144.3 211.6h1.3v1.3h-1.3zM139.4 219.8h1.3v1.3h-1.3zM120.5 239.6h1.3v1.3h-1.3zM136.1 222.2h1.3v1.3h-1.3zM110.9 238.9h1.3v1.3h-1.3zM132.0 227.6h1.3v1.3h-1.3zM129.0 224.9h1.3v1.3h-1.3zM125.9 231.7h1.3v1.3h-1.3zM126.4 236.7h1.3v1.3h-1.3zM120.4 234.8h1.3v1.3h-1.3zM141.2 215.9h1.3v1.3h-1.3zM129.4 222.8h1.3v1.3h-1.3zM143.6 213.9h1.3v1.3h-1.3zM127.1 233.3h1.3v1.3h-1.3zM126.6 230.1h1.3v1.3h-1.3zM140.7 213.6h1.3v1.3h-1.3zM125.8 234.1h1.3v1.3h-1.3zM131.2 224.9h1.3v1.3h-1.3zM121.5 234.7h1.3v1.3h-1.3zM131.1 222.6h1.3v1.3h-1.3zM138.7 225.9h1.3v1.3h-1.3zM128.8 225.5h1.3v1.3h-1.3zM113.5 240.3h1.3v1.3h-1.3zM135.6 224.9h1.3v1.3h-1.3zM134.9 222.2h1.3v1.3h-1.3zM134.6 225.0h1.3v1.3h-1.3zM115.9 236.4h1.3v1.3h-1.3zM146.6 212.1h1.3v1.3h-1.3zM131.5 222.2h1.3v1.3h-1.3zM118.9 238.5h1.3v1.3h-1.3zM128.4 228.7h1.3v1.3h-1.3zM135.3 221.5h1.3v1.3h-1.3zM136.7 219.8h1.3v1.3h-1.3zM118.0 231.0h1.3v1.3h-1.3zM123.8 232.4h1.3v1.3h-1.3zM113.2 240.8h1.3v1.3h-1.3zM115.7 232.9h1.3v1.3h-1.3zM119.6 236.4h1.3v1.3h-1.3zM120.4 233.5h1.3v1.3h-1.3zM113.1 241.8h1.3v1.3h-1.3zM137.9 217.6h1.3v1.3h-1.3zM140.1 222.2h1.3v1.3h-1.3zM113.0 234.7h1.3v1.3h-1.3zM120.9 235.6h1.3v1.3h-1.3zM131.0 223.9h1.3v1.3h-1.3zM124.7 233.3h1.3v1.3h-1.3zM119.4 235.2h1.3v1.3h-1.3zM143.6 217.5h1.3v1.3h-1.3zM128.5 228.8h1.3v1.3h-1.3zM118.9 238.6h1.3v1.3h-1.3zM131.2 221.0h1.3v1.3h-1.3zM135.8 222.5h1.3v1.3h-1.3zM127.9 226.7h1.3v1.3h-1.3zM112.9 238.5h1.3v1.3h-1.3zM146.0 213.1h1.3v1.3h-1.3zM120.9 235.2h1.3v1.3h-1.3zM116.9 241.2h1.3v1.3h-1.3zM140.0 216.7h1.3v1.3h-1.3zM130.6 228.4h1.3v1.3h-1.3zM122.3 237.5h1.3v1.3h-1.3zM114.0 242.7h1.3v1.3h-1.3zM144.0 211.9h1.3v1.3h-1.3zM110.9 240.2h1.3v1.3h-1.3zM122.2 233.2h1.3v1.3h-1.3zM125.8 226.6h1.3v1.3h-1.3zM136.3 221.3h1.3v1.3h-1.3zM113.8 241.9h1.3v1.3h-1.3z"/>
<path fill="#161616" fill-opacity="0.5" d="M110.8 237.6h1.3v1.3h-1.3zM142.1 212.8h1.3v1.3h-1.3zM126.4 236.4h1.3v1.3h-1.3zM139.7 215.9h1.3v1.3h-1.3zM141.7 217.5h1.3v1.3h-1.3zM134.0 223.6h1.3v1.3h-1.3zM107.4 238.4h1.3v1.3h-1.3zM121.6 230.6h1.3v1.3h-1.3zM132.0 221.9h1.3v1.3h-1.3zM133.8 224.2h1.3v1.3h-1.3zM124.3 232.9h1.3v1.3h-1.3zM119.0 235.1h1.3v1.3h-1.3zM110.4 241.2h1.3v1.3h-1.3zM139.0 218.6h1.3v1.3h-1.3zM117.0 244.0h1.3v1.3h-1.3zM127.7 229.6h1.3v1.3h-1.3zM139.8 219.0h1.3v1.3h-1.3zM118.2 240.9h1.3v1.3h-1.3zM124.7 234.9h1.3v1.3h-1.3zM123.7 227.0h1.3v1.3h-1.3zM127.2 234.5h1.3v1.3h-1.3zM121.5 232.4h1.3v1.3h-1.3zM136.5 219.5h1.3v1.3h-1.3zM143.0 210.9h1.3v1.3h-1.3zM137.5 217.4h1.3v1.3h-1.3zM114.9 237.5h1.3v1.3h-1.3z"/>
</g>
<rect x="32.1" y="316.8" width="8.4" height="7.8" fill="#8692a6"/>
<text x="7.8" y="15.7" font-size="11.5" textLength="7.8" lengthAdjust="spacingAndGlyphs" font-weight="bold">A</text>
<rect x="54" y="25.8" width="4.4" height="4.2" fill="#a8142e"/>
<text x="62" y="30.0" font-size="7.7" textLength="28.8" lengthAdjust="spacingAndGlyphs">neonate</text>
<rect x="97.2" y="25.8" width="4.2" height="4.2" fill="#34457a"/>
<text x="104.6" y="30.0" font-size="7.7" textLength="17.2" lengthAdjust="spacingAndGlyphs">adult</text>
<rect x="54.7" y="34.7" width="116.7" height="115.5" fill="none" stroke="#111" stroke-width="1.45"/>
<line x1="50.8" y1="50" x2="54.6" y2="50" stroke="#111" stroke-width="1.1"/>
<text x="48.6" y="52.9" font-size="8.1" text-anchor="end">0.4</text>
<line x1="50.8" y1="69.5" x2="54.6" y2="69.5" stroke="#111" stroke-width="1.1"/>
<line x1="50.8" y1="89" x2="54.6" y2="89" stroke="#111" stroke-width="1.1"/>
<text x="48.6" y="91.9" font-size="8.1" text-anchor="end">0.0</text>
<line x1="50.8" y1="108.6" x2="54.6" y2="108.6" stroke="#111" stroke-width="1.1"/>
<line x1="50.8" y1="128.1" x2="54.6" y2="128.1" stroke="#111" stroke-width="1.1"/>
<text x="48.6" y="131.0" font-size="8.1" text-anchor="end">−0.4</text>
<line x1="50.8" y1="147.6" x2="54.6" y2="147.6" stroke="#111" stroke-width="1.1"/>
<line x1="57.3" y1="150.2" x2="57.3" y2="153.8" stroke="#111" stroke-width="1.2"/>
<line x1="76.8" y1="150.2" x2="76.8" y2="153.8" stroke="#111" stroke-width="1.2"/>
<text x="76.8" y="162.6" font-size="8.1" text-anchor="middle">−0.4</text>
<line x1="96.3" y1="150.2" x2="96.3" y2="153.8" stroke="#111" stroke-width="1.2"/>
<line x1="116" y1="150.2" x2="116" y2="153.8" stroke="#111" stroke-width="1.2"/>
<text x="116" y="162.6" font-size="8.1" text-anchor="middle">0.0</text>
<line x1="135.6" y1="150.2" x2="135.6" y2="153.8" stroke="#111" stroke-width="1.2"/>
<line x1="155.1" y1="150.2" x2="155.1" y2="153.8" stroke="#111" stroke-width="1.2"/>
<text x="155.1" y="162.6" font-size="8.1" text-anchor="middle">0.4</text>
<text x="112.8" y="173.7" font-size="10.6" text-anchor="middle" textLength="14.3" lengthAdjust="spacingAndGlyphs">PC1</text>
<text x="112.8" y="185.4" font-size="9.7" text-anchor="middle" textLength="60" lengthAdjust="spacingAndGlyphs">47.3% variation</text>
<text x="16.2" y="92.4" font-size="9.7" text-anchor="middle" textLength="60.2" lengthAdjust="spacingAndGlyphs" transform="rotate(-90 16.2 92.4)">29.7% variation</text>
<text x="27.7" y="92.4" font-size="10.6" text-anchor="middle" textLength="14.5" lengthAdjust="spacingAndGlyphs" transform="rotate(-90 27.7 92.4)">PC2</text>
<rect x="58.3" y="47.4" width="4.4" height="4.4" fill="#34457a"/>
<rect x="150.60000000000002" y="35.199999999999996" width="4.4" height="4.4" fill="#34457a"/>
<rect x="139.20000000000002" y="78.39999999999999" width="4.4" height="4.4" fill="#34457a"/>
<rect x="141.3" y="101.89999999999999" width="4.4" height="4.4" fill="#a8142e"/>
<rect x="132.0" y="133.70000000000002" width="4.4" height="4.4" fill="#a8142e"/>
<rect x="72.1" y="120.1" width="4.4" height="4.4" fill="#a8142e"/>
<text x="63.7" y="59.0" font-size="8.1" text-anchor="middle">bulk</text>
<text x="153.0" y="48.2" font-size="8.1" text-anchor="middle">TN</text>
<text x="140.8" y="74.4" font-size="8.1" text-anchor="middle">MP</text>
<text x="143.3" y="114.5" font-size="8.1" text-anchor="middle">TN</text>
<text x="134.0" y="130.0" font-size="8.1" text-anchor="middle">MP</text>
<text x="74.0" y="133.6" font-size="8.1" text-anchor="middle">bulk</text>
<text x="188.5" y="15.7" font-size="11.5" textLength="7.2" lengthAdjust="spacingAndGlyphs" font-weight="bold">B</text>
<rect x="223.0" y="29.5" width="12.0" height="12.0" fill="#33276a" stroke="#111" stroke-width="1.6"/>
<rect x="223.0" y="41.5" width="12.0" height="12.0" fill="#cccce2" stroke="#111" stroke-width="1.6"/>
<rect x="235.0" y="41.5" width="12.0" height="12.0" fill="#33276a" stroke="#111" stroke-width="1.6"/>
<rect x="223.0" y="53.5" width="12.0" height="12.0" fill="#cdcce2" stroke="#111" stroke-width="1.6"/>
<rect x="235.0" y="53.5" width="12.0" height="12.0" fill="#675b9e" stroke="#111" stroke-width="1.6"/>
<rect x="247.0" y="53.5" width="12.0" height="12.0" fill="#372a6c" stroke="#111" stroke-width="1.6"/>
<rect x="223.0" y="65.5" width="12.0" height="12.0" fill="#dcdce8" stroke="#111" stroke-width="1.6"/>
<rect x="235.0" y="65.5" width="12.0" height="12.0" fill="#a6a2c6" stroke="#111" stroke-width="1.6"/>
<rect x="247.0" y="65.5" width="12.0" height="12.0" fill="#dcdce8" stroke="#111" stroke-width="1.6"/>
<rect x="259.0" y="65.5" width="12.0" height="12.0" fill="#35286c" stroke="#111" stroke-width="1.6"/>
<rect x="223.0" y="77.5" width="12.0" height="12.0" fill="#f6f6fa" stroke="#111" stroke-width="1.6"/>
<rect x="235.0" y="77.5" width="12.0" height="12.0" fill="#675d9e" stroke="#111" stroke-width="1.6"/>
<rect x="247.0" y="77.5" width="12.0" height="12.0" fill="#b2aece" stroke="#111" stroke-width="1.6"/>
<rect x="259.0" y="77.5" width="12.0" height="12.0" fill="#7d75b2" stroke="#111" stroke-width="1.6"/>
<rect x="271.0" y="77.5" width="12.0" height="12.0" fill="#3e3076" stroke="#111" stroke-width="1.6"/>
<rect x="223.0" y="89.5" width="12.0" height="12.0" fill="#f0f0f6" stroke="#111" stroke-width="1.6"/>
<rect x="235.0" y="89.5" width="12.0" height="12.0" fill="#6b619e" stroke="#111" stroke-width="1.6"/>
<rect x="247.0" y="89.5" width="12.0" height="12.0" fill="#8781ba" stroke="#111" stroke-width="1.6"/>
<rect x="259.0" y="89.5" width="12.0" height="12.0" fill="#857dba" stroke="#111" stroke-width="1.6"/>
<rect x="271.0" y="89.5" width="12.0" height="12.0" fill="#463682" stroke="#111" stroke-width="1.6"/>
<rect x="283.0" y="89.5" width="12.0" height="12.0" fill="#38296c" stroke="#111" stroke-width="1.6"/>
<text x="219" y="38.6" font-size="7.7" text-anchor="end">bulk</text>
<text x="219" y="50.6" font-size="7.7" text-anchor="end">MP</text>
<text x="219" y="62.6" font-size="7.7" text-anchor="end">TN</text>
<text x="219" y="74.6" font-size="7.7" text-anchor="end">bulk</text>
<text x="219" y="86.6" font-size="7.7" text-anchor="end">MP</text>
<text x="219" y="98.6" font-size="7.7" text-anchor="end">TN</text>
<text x="231.9" y="105.6" font-size="7.7" text-anchor="end" transform="rotate(-90 231.9 105.6)">bulk</text>
<text x="243.9" y="105.6" font-size="7.7" text-anchor="end" transform="rotate(-90 243.9 105.6)">MP</text>
<text x="255.9" y="105.6" font-size="7.7" text-anchor="end" transform="rotate(-90 255.9 105.6)">TN</text>
<text x="267.9" y="105.6" font-size="7.7" text-anchor="end" transform="rotate(-90 267.9 105.6)">bulk</text>
<text x="279.9" y="105.6" font-size="7.7" text-anchor="end" transform="rotate(-90 279.9 105.6)">MP</text>
<text x="291.9" y="105.6" font-size="7.7" text-anchor="end" transform="rotate(-90 291.9 105.6)">TN</text>
<path d="M202.2 36.6 H198.9 V59.6 H202.2" fill="none" stroke="#111" stroke-width="1.3"/>
<path d="M202.2 72.3 H198.9 V96.1 H202.2" fill="none" stroke="#111" stroke-width="1.3"/>
<text x="195.3" y="48.3" font-size="7.4" text-anchor="middle" textLength="18.2" lengthAdjust="spacingAndGlyphs" transform="rotate(-90 195.3 48.3)">adult</text>
<text x="195.5" y="85.0" font-size="8.0" text-anchor="middle" textLength="28.6" lengthAdjust="spacingAndGlyphs" transform="rotate(-90 195.5 85.0)">neonate</text>
<path d="M230.2 123.0 V125.9 H254.4 V123.0" fill="none" stroke="#111" stroke-width="1.3"/>
<path d="M266.2 123.0 V125.9 H290.6 V123.0" fill="none" stroke="#111" stroke-width="1.3"/>
<text x="242.2" y="136.6" font-size="9.8" text-anchor="middle" textLength="19.2" lengthAdjust="spacingAndGlyphs">adult</text>
<text x="278.0" y="136.6" font-size="9.8" text-anchor="middle" textLength="29.6" lengthAdjust="spacingAndGlyphs">neonate</text>
<defs><linearGradient id="gB" x1="0" x2="1" y1="0" y2="0"><stop offset="0" stop-color="#fbfbfd"/><stop offset="1" stop-color="#8079b2"/></linearGradient></defs>
<rect x="254.4" y="15.7" width="44.8" height="7.4" fill="url(#gB)" stroke="#111" stroke-width="1.3"/>
<line x1="258.3" y1="23.2" x2="258.3" y2="26.5" stroke="#111" stroke-width="1.1"/>
<line x1="278.8" y1="23.2" x2="278.8" y2="26.5" stroke="#111" stroke-width="1.1"/>
<line x1="298.8" y1="23.2" x2="298.8" y2="26.5" stroke="#111" stroke-width="1.1"/>
<text x="258.5" y="35.7" font-size="9.0" text-anchor="middle" textLength="10.4" lengthAdjust="spacingAndGlyphs">0.5</text>
<text x="278.7" y="35.7" font-size="9.0" text-anchor="middle" textLength="15.5" lengthAdjust="spacingAndGlyphs">0.75</text>
<text x="298.9" y="35.7" font-size="9.0" text-anchor="middle" textLength="3.6" lengthAdjust="spacingAndGlyphs">1</text>
<text x="253.3" y="45.4" font-size="9.8" textLength="46.4" lengthAdjust="spacingAndGlyphs">Spearman ρ</text>
<text x="166.3" y="197.2" font-size="11.5" textLength="6.8" lengthAdjust="spacingAndGlyphs" font-weight="bold">E</text>
<rect x="172.9" y="210.9" width="28.400000000000006" height="2.27" fill="#fbeec8"/>
<rect x="172.9" y="212.88" width="28.400000000000006" height="2.27" fill="#f5d9a5"/>
<rect x="172.9" y="214.85" width="28.400000000000006" height="2.27" fill="#f5d9a5"/>
<rect x="172.9" y="216.82" width="28.400000000000006" height="2.27" fill="#f8e6b8"/>
<rect x="172.9" y="218.8" width="28.400000000000006" height="2.27" fill="#f2d29c"/>
<rect x="172.9" y="220.78" width="28.400000000000006" height="2.27" fill="#f2d29c"/>
<rect x="172.9" y="222.75" width="28.400000000000006" height="2.27" fill="#f8e8bc"/>
<rect x="172.9" y="224.72" width="28.400000000000006" height="2.27" fill="#f2d6a0"/>
<rect x="172.9" y="226.7" width="28.400000000000006" height="2.27" fill="#f2d6a0"/>
<rect x="172.9" y="228.68" width="28.400000000000006" height="2.27" fill="#fbf0c8"/>
<rect x="172.9" y="230.65" width="28.400000000000006" height="2.27" fill="#f4dcaa"/>
<rect x="172.9" y="232.62" width="28.400000000000006" height="2.27" fill="#f4dcaa"/>
<rect x="201.3" y="210.9" width="28.69999999999999" height="2.27" fill="#f8e4b4"/>
<rect x="201.3" y="212.88" width="28.69999999999999" height="2.27" fill="#f8e4b4"/>
<rect x="201.3" y="214.85" width="28.69999999999999" height="2.27" fill="#f6dcaa"/>
<rect x="201.3" y="216.82" width="28.69999999999999" height="2.27" fill="#f6dcaa"/>
<rect x="201.3" y="218.8" width="28.69999999999999" height="2.27" fill="#fbecc4"/>
<rect x="201.3" y="220.78" width="28.69999999999999" height="2.27" fill="#f2d09c"/>
<rect x="201.3" y="222.75" width="28.69999999999999" height="2.27" fill="#f2d09c"/>
<rect x="201.3" y="224.72" width="28.69999999999999" height="2.27" fill="#eebc92"/>
<rect x="201.3" y="226.7" width="28.69999999999999" height="2.27" fill="#eebc92"/>
<rect x="201.3" y="228.68" width="28.69999999999999" height="2.27" fill="#ecb68e"/>
<rect x="201.3" y="230.65" width="28.69999999999999" height="2.27" fill="#f2c8a0"/>
<rect x="201.3" y="232.62" width="28.69999999999999" height="2.27" fill="#f4d4a8"/>
<rect x="230.0" y="210.9" width="28.5" height="2.27" fill="#eab590"/>
<rect x="230.0" y="212.88" width="28.5" height="2.27" fill="#eab590"/>
<rect x="230.0" y="214.85" width="28.5" height="2.27" fill="#e8b08c"/>
<rect x="230.0" y="216.82" width="28.5" height="2.27" fill="#e8b08c"/>
<rect x="230.0" y="218.8" width="28.5" height="2.27" fill="#e8b08c"/>
<rect x="230.0" y="220.78" width="28.5" height="2.27" fill="#e8b08c"/>
<rect x="230.0" y="222.75" width="28.5" height="2.27" fill="#ecbc98"/>
<rect x="230.0" y="224.72" width="28.5" height="2.27" fill="#ecbc98"/>
<rect x="230.0" y="226.7" width="28.5" height="2.27" fill="#f6dcb8"/>
<rect x="230.0" y="228.68" width="28.5" height="2.27" fill="#eebe98"/>
<rect x="230.0" y="230.65" width="28.5" height="2.27" fill="#eebe98"/>
<rect x="230.0" y="232.62" width="28.5" height="2.27" fill="#eebe98"/>
<rect x="172.9" y="234.6" width="28.400000000000006" height="2.27" fill="#eef0c4"/>
<rect x="172.9" y="236.57" width="28.400000000000006" height="2.27" fill="#e4ecbc"/>
<rect x="172.9" y="238.53" width="28.400000000000006" height="2.27" fill="#e4ecbc"/>
<rect x="172.9" y="240.5" width="28.400000000000006" height="2.27" fill="#f0f0c8"/>
<rect x="172.9" y="242.47" width="28.400000000000006" height="2.27" fill="#e0e8b8"/>
<rect x="172.9" y="244.43" width="28.400000000000006" height="2.27" fill="#e0e8b8"/>
<rect x="172.9" y="246.4" width="28.400000000000006" height="2.27" fill="#eceec0"/>
<rect x="172.9" y="248.37" width="28.400000000000006" height="2.27" fill="#e6ecbe"/>
<rect x="172.9" y="250.33" width="28.400000000000006" height="2.27" fill="#eef0c4"/>
<rect x="172.9" y="252.3" width="28.400000000000006" height="2.27" fill="#e2eaba"/>
<rect x="172.9" y="254.27" width="28.400000000000006" height="2.27" fill="#e8edc0"/>
<rect x="172.9" y="256.23" width="28.400000000000006" height="2.27" fill="#eceec2"/>
<rect x="201.3" y="234.6" width="28.69999999999999" height="2.27" fill="#d0e4bc"/>
<rect x="201.3" y="236.57" width="28.69999999999999" height="2.27" fill="#d0e4bc"/>
<rect x="201.3" y="238.53" width="28.69999999999999" height="2.27" fill="#e4ecc4"/>
<rect x="201.3" y="240.5" width="28.69999999999999" height="2.27" fill="#c8e0b8"/>
<rect x="201.3" y="242.47" width="28.69999999999999" height="2.27" fill="#c8e0b8"/>
<rect x="201.3" y="244.43" width="28.69999999999999" height="2.27" fill="#dce8c0"/>
<rect x="201.3" y="246.4" width="28.69999999999999" height="2.27" fill="#d4e4bc"/>
<rect x="201.3" y="248.37" width="28.69999999999999" height="2.27" fill="#e6eec6"/>
<rect x="201.3" y="250.33" width="28.69999999999999" height="2.27" fill="#d0e4bc"/>
<rect x="201.3" y="252.3" width="28.69999999999999" height="2.27" fill="#d0e4bc"/>
<rect x="201.3" y="254.27" width="28.69999999999999" height="2.27" fill="#d8e6c0"/>
<rect x="201.3" y="256.23" width="28.69999999999999" height="2.27" fill="#d4e4bc"/>
<rect x="230.0" y="234.6" width="28.5" height="2.27" fill="#e4ecc4"/>
<rect x="230.0" y="236.57" width="28.5" height="2.27" fill="#e4ecc4"/>
<rect x="230.0" y="238.53" width="28.5" height="2.27" fill="#d8e8c0"/>
<rect x="230.0" y="240.5" width="28.5" height="2.27" fill="#e8eec8"/>
<rect x="230.0" y="242.47" width="28.5" height="2.27" fill="#d0e4bc"/>
<rect x="230.0" y="244.43" width="28.5" height="2.27" fill="#d0e4bc"/>
<rect x="230.0" y="246.4" width="28.5" height="2.27" fill="#e0eac4"/>
<rect x="230.0" y="248.37" width="28.5" height="2.27" fill="#dae8c2"/>
<rect x="230.0" y="250.33" width="28.5" height="2.27" fill="#e6eec6"/>
<rect x="230.0" y="252.3" width="28.5" height="2.27" fill="#d4e6be"/>
<rect x="230.0" y="254.27" width="28.5" height="2.27" fill="#dce8c2"/>
<rect x="230.0" y="256.23" width="28.5" height="2.27" fill="#e0eac4"/>
<rect x="172.9" y="258.2" width="28.400000000000006" height="2.6" fill="#d0e4c4"/>
<rect x="172.9" y="260.5" width="28.400000000000006" height="2.6" fill="#c0dcc0"/>
<rect x="172.9" y="262.8" width="28.400000000000006" height="2.6" fill="#bcd8bc"/>
<rect x="172.9" y="265.1" width="28.400000000000006" height="2.6" fill="#c0dcc0"/>
<rect x="201.3" y="258.2" width="28.69999999999999" height="2.6" fill="#c0dcc8"/>
<rect x="201.3" y="260.5" width="28.69999999999999" height="2.6" fill="#b8d8c8"/>
<rect x="201.3" y="262.8" width="28.69999999999999" height="2.6" fill="#b4d4c4"/>
<rect x="201.3" y="265.1" width="28.69999999999999" height="2.6" fill="#b8d8c8"/>
<rect x="230.0" y="258.2" width="28.5" height="2.6" fill="#b4d4cc"/>
<rect x="230.0" y="260.5" width="28.5" height="2.6" fill="#a8ccc8"/>
<rect x="230.0" y="262.8" width="28.5" height="2.6" fill="#a4c8c6"/>
<rect x="230.0" y="265.1" width="28.5" height="2.6" fill="#a8ccc8"/>
<rect x="172.9" y="267.4" width="28.400000000000006" height="2.5" fill="#eab08c"/>
<rect x="172.9" y="269.6" width="28.400000000000006" height="2.5" fill="#eab08c"/>
<rect x="172.9" y="271.8" width="28.400000000000006" height="2.5" fill="#e8aa8a"/>
<rect x="172.9" y="274.0" width="28.400000000000006" height="2.5" fill="#e8a488"/>
<rect x="172.9" y="276.2" width="28.400000000000006" height="2.5" fill="#eaac8c"/>
<rect x="172.9" y="278.4" width="28.400000000000006" height="2.5" fill="#e8a488"/>
<rect x="172.9" y="280.6" width="28.400000000000006" height="2.5" fill="#e4a088"/>
<rect x="172.9" y="282.8" width="28.400000000000006" height="2.5" fill="#e09888"/>
<rect x="172.9" y="285.0" width="28.400000000000006" height="2.5" fill="#e09888"/>
<rect x="172.9" y="287.2" width="28.400000000000006" height="2.5" fill="#e29c88"/>
<rect x="201.3" y="267.4" width="28.69999999999999" height="2.5" fill="#eeb48e"/>
<rect x="201.3" y="269.6" width="28.69999999999999" height="2.5" fill="#eeb48e"/>
<rect x="201.3" y="271.8" width="28.69999999999999" height="2.5" fill="#eaaa88"/>
<rect x="201.3" y="274.0" width="28.69999999999999" height="2.5" fill="#eab08c"/>
<rect x="201.3" y="276.2" width="28.69999999999999" height="2.5" fill="#eab08c"/>
<rect x="201.3" y="278.4" width="28.69999999999999" height="2.5" fill="#ecb28e"/>
<rect x="201.3" y="280.6" width="28.69999999999999" height="2.5" fill="#e6a488"/>
<rect x="201.3" y="282.8" width="28.69999999999999" height="2.5" fill="#e6a488"/>
<rect x="201.3" y="285.0" width="28.69999999999999" height="2.5" fill="#eaac8a"/>
<rect x="201.3" y="287.2" width="28.69999999999999" height="2.5" fill="#e8a88a"/>
<rect x="230.0" y="267.4" width="28.5" height="2.5" fill="#f2c89c"/>
<rect x="230.0" y="269.6" width="28.5" height="2.5" fill="#f2c89c"/>
<rect x="230.0" y="271.8" width="28.5" height="2.5" fill="#eebc94"/>
<rect x="230.0" y="274.0" width="28.5" height="2.5" fill="#f0c098"/>
<rect x="230.0" y="276.2" width="28.5" height="2.5" fill="#f0c098"/>
<rect x="230.0" y="278.4" width="28.5" height="2.5" fill="#eaae8c"/>
<rect x="230.0" y="280.6" width="28.5" height="2.5" fill="#eebc94"/>
<rect x="230.0" y="282.8" width="28.5" height="2.5" fill="#e8a890"/>
<rect x="230.0" y="285.0" width="28.5" height="2.5" fill="#e8a890"/>
<rect x="230.0" y="287.2" width="28.5" height="2.5" fill="#eab090"/>
<rect x="172.9" y="289.4" width="28.400000000000006" height="2.6" fill="#c4e2c4"/>
<rect x="172.9" y="291.7" width="28.400000000000006" height="2.6" fill="#c4e2c4"/>
<rect x="172.9" y="294.0" width="28.400000000000006" height="2.6" fill="#d0e8cc"/>
<rect x="172.9" y="296.3" width="28.400000000000006" height="2.6" fill="#bcdcc0"/>
<rect x="172.9" y="298.6" width="28.400000000000006" height="2.6" fill="#c4e2c4"/>
<rect x="172.9" y="300.9" width="28.400000000000006" height="2.6" fill="#c0e0c2"/>
<rect x="172.9" y="303.2" width="28.400000000000006" height="2.6" fill="#c8e4c6"/>
<rect x="201.3" y="289.4" width="28.69999999999999" height="2.6" fill="#fafad0"/>
<rect x="201.3" y="291.7" width="28.69999999999999" height="2.6" fill="#f6f4c8"/>
<rect x="201.3" y="294.0" width="28.69999999999999" height="2.6" fill="#fafad0"/>
<rect x="201.3" y="296.3" width="28.69999999999999" height="2.6" fill="#f8f6cc"/>
<rect x="201.3" y="298.6" width="28.69999999999999" height="2.6" fill="#f6f4c8"/>
<rect x="201.3" y="300.9" width="28.69999999999999" height="2.6" fill="#fafad0"/>
<rect x="201.3" y="303.2" width="28.69999999999999" height="2.6" fill="#f8f6cc"/>
<rect x="230.0" y="289.4" width="28.5" height="2.6" fill="#f8f6cc"/>
<rect x="230.0" y="291.7" width="28.5" height="2.6" fill="#f4f0c0"/>
<rect x="230.0" y="294.0" width="28.5" height="2.6" fill="#f8f6cc"/>
<rect x="230.0" y="296.3" width="28.5" height="2.6" fill="#faf8d0"/>
<rect x="230.0" y="298.6" width="28.5" height="2.6" fill="#f4f0c2"/>
<rect x="230.0" y="300.9" width="28.5" height="2.6" fill="#f8f6cc"/>
<rect x="230.0" y="303.2" width="28.5" height="2.6" fill="#f8f4c8"/>
<rect x="172.9" y="305.5" width="28.400000000000006" height="2.72" fill="#eeb48e"/>
<rect x="172.9" y="307.93" width="28.400000000000006" height="2.72" fill="#ecb08c"/>
<rect x="172.9" y="310.35" width="28.400000000000006" height="2.72" fill="#eeb690"/>
<rect x="172.9" y="312.77" width="28.400000000000006" height="2.72" fill="#ecae8c"/>
<rect x="201.3" y="305.5" width="28.69999999999999" height="2.72" fill="#fafad2"/>
<rect x="201.3" y="307.93" width="28.69999999999999" height="2.72" fill="#f8f8d0"/>
<rect x="201.3" y="310.35" width="28.69999999999999" height="2.72" fill="#fafad2"/>
<rect x="201.3" y="312.77" width="28.69999999999999" height="2.72" fill="#f8f6cc"/>
<rect x="230.0" y="305.5" width="28.5" height="2.72" fill="#f8f6cc"/>
<rect x="230.0" y="307.93" width="28.5" height="2.72" fill="#f6f2c6"/>
<rect x="230.0" y="310.35" width="28.5" height="2.72" fill="#f8f6cc"/>
<rect x="230.0" y="312.77" width="28.5" height="2.72" fill="#f8f6cc"/>
<rect x="172.9" y="315.2" width="28.400000000000006" height="2.33" fill="#8aa8c8"/>
<rect x="172.9" y="317.23" width="28.400000000000006" height="2.33" fill="#88a4c6"/>
<rect x="172.9" y="319.27" width="28.400000000000006" height="2.33" fill="#8aa8c8"/>
<rect x="201.3" y="315.2" width="28.69999999999999" height="2.33" fill="#faf8d0"/>
<rect x="201.3" y="317.23" width="28.69999999999999" height="2.33" fill="#f8f6cc"/>
<rect x="201.3" y="319.27" width="28.69999999999999" height="2.33" fill="#faf8d0"/>
<rect x="230.0" y="315.2" width="28.5" height="2.33" fill="#f8f4cc"/>
<rect x="230.0" y="317.23" width="28.5" height="2.33" fill="#f8f4cc"/>
<rect x="230.0" y="319.27" width="28.5" height="2.33" fill="#f6f2c8"/>
<line x1="172.9" y1="210.1" x2="172.9" y2="322.1" stroke="#151510" stroke-width="1.6"/>
<line x1="201.3" y1="210.1" x2="201.3" y2="322.1" stroke="#151510" stroke-width="1.6"/>
<line x1="230.0" y1="210.1" x2="230.0" y2="322.1" stroke="#151510" stroke-width="1.6"/>
<line x1="258.5" y1="210.1" x2="258.5" y2="322.1" stroke="#151510" stroke-width="1.6"/>
<line x1="172.1" y1="210.9" x2="259.3" y2="210.9" stroke="#151510" stroke-width="1.6"/>
<line x1="172.1" y1="234.6" x2="259.3" y2="234.6" stroke="#151510" stroke-width="1.6"/>
<line x1="172.1" y1="258.2" x2="259.3" y2="258.2" stroke="#151510" stroke-width="1.6"/>
<line x1="172.1" y1="267.4" x2="259.3" y2="267.4" stroke="#151510" stroke-width="1.6"/>
<line x1="172.1" y1="289.4" x2="259.3" y2="289.4" stroke="#151510" stroke-width="1.6"/>
<line x1="172.1" y1="305.5" x2="259.3" y2="305.5" stroke="#151510" stroke-width="1.6"/>
<line x1="172.1" y1="315.2" x2="259.3" y2="315.2" stroke="#151510" stroke-width="1.6"/>
<line x1="172.1" y1="321.3" x2="259.3" y2="321.3" stroke="#151510" stroke-width="1.6"/>
<text x="186.6" y="207.0" font-size="7.7" style="stroke-width:0.15px" text-anchor="middle" textLength="14.6" lengthAdjust="spacingAndGlyphs">bulk</text>
<text x="214.8" y="207.0" font-size="7.9" style="stroke-width:0.15px" text-anchor="middle" textLength="12.0" lengthAdjust="spacingAndGlyphs">MP</text>
<text x="244.5" y="207.0" font-size="7.9" style="stroke-width:0.15px" text-anchor="middle" textLength="10.2" lengthAdjust="spacingAndGlyphs">TN</text>
<text x="166.8" y="225.6" font-size="8.2" text-anchor="middle">1</text>
<text x="166.8" y="249.4" font-size="8.2" text-anchor="middle">2</text>
<text x="166.8" y="265.8" font-size="8.2" text-anchor="middle">3</text>
<text x="166.8" y="281.4" font-size="8.2" text-anchor="middle">4</text>
<text x="166.8" y="300.4" font-size="8.2" text-anchor="middle">5</text>
<text x="166.8" y="313.4" font-size="8.2" text-anchor="middle">6</text>
<text x="166.8" y="321.4" font-size="8.2" text-anchor="middle">7</text>
<defs><linearGradient id="gE" x1="0" x2="1" y1="0" y2="0"><stop offset="0" stop-color="#7e88c4"/><stop offset="0.18" stop-color="#a2b8d8"/><stop offset="0.35" stop-color="#bcdab4"/><stop offset="0.5" stop-color="#f6f0c0"/><stop offset="0.64" stop-color="#f0c4a8"/><stop offset="0.8" stop-color="#e49c9e"/><stop offset="1" stop-color="#c87488"/></linearGradient></defs>
<rect x="205.3" y="328.6" width="53.2" height="5.0" fill="url(#gE)" stroke="#111" stroke-width="1.3"/>
<line x1="205.4" y1="333.6" x2="205.4" y2="336.3" stroke="#111" stroke-width="1.1"/>
<line x1="214.26666666666668" y1="333.6" x2="214.26666666666668" y2="336.3" stroke="#111" stroke-width="1.1"/>
<line x1="223.13333333333335" y1="333.6" x2="223.13333333333335" y2="336.3" stroke="#111" stroke-width="1.1"/>
<line x1="232.0" y1="333.6" x2="232.0" y2="336.3" stroke="#111" stroke-width="1.1"/>
<line x1="240.86666666666667" y1="333.6" x2="240.86666666666667" y2="336.3" stroke="#111" stroke-width="1.1"/>
<line x1="249.73333333333335" y1="333.6" x2="249.73333333333335" y2="336.3" stroke="#111" stroke-width="1.1"/>
<line x1="258.6" y1="333.6" x2="258.6" y2="336.3" stroke="#111" stroke-width="1.1"/>
<text x="205.3" y="345.6" font-size="7.9" text-anchor="middle" textLength="8.4" lengthAdjust="spacingAndGlyphs">−6</text>
<text x="232.0" y="345.6" font-size="7.9" text-anchor="middle" textLength="3.8" lengthAdjust="spacingAndGlyphs">0</text>
<text x="258.9" y="345.6" font-size="7.9" text-anchor="middle" textLength="3.8" lengthAdjust="spacingAndGlyphs">6</text>
<text x="232.1" y="355.6" font-size="9" text-anchor="middle" textLength="57" lengthAdjust="spacingAndGlyphs">log<tspan font-size="6.4" dy="2">2</tspan><tspan dy="-2">(neo/adult)</tspan></text>
<text x="274.7" y="197.1" font-size="11.5" textLength="6.2" lengthAdjust="spacingAndGlyphs" font-weight="bold">F</text>
<rect x="356.6" y="214.0" width="22.328571428571422" height="22.450000000000003" fill="#eff0c0"/>
<rect x="378.92857142857144" y="214.0" width="22.328571428571422" height="22.450000000000003" fill="#66aab8"/>
<rect x="401.25714285714287" y="214.0" width="22.328571428571422" height="22.450000000000003" fill="#20244e"/>
<rect x="423.5857142857143" y="214.0" width="22.328571428571422" height="22.450000000000003" fill="#fbf6cc"/>
<rect x="445.9142857142857" y="214.0" width="22.328571428571422" height="22.450000000000003" fill="#84c2b0"/>
<rect x="468.24285714285713" y="214.0" width="22.328571428571422" height="22.450000000000003" fill="#eef0c0"/>
<rect x="490.57142857142856" y="214.0" width="22.328571428571422" height="22.450000000000003" fill="#fcf8d8"/>
<rect x="356.6" y="236.45" width="22.328571428571422" height="22.450000000000003" fill="#8ac4b0"/>
<rect x="378.92857142857144" y="236.45" width="22.328571428571422" height="22.450000000000003" fill="#f8f4c8"/>
<rect x="401.25714285714287" y="236.45" width="22.328571428571422" height="22.450000000000003" fill="#e0e6b0"/>
<rect x="423.5857142857143" y="236.45" width="22.328571428571422" height="22.450000000000003" fill="#4466a8"/>
<rect x="445.9142857142857" y="236.45" width="22.328571428571422" height="22.450000000000003" fill="#f8f4c8"/>
<rect x="468.24285714285713" y="236.45" width="22.328571428571422" height="22.450000000000003" fill="#e0e8b0"/>
<rect x="490.57142857142856" y="236.45" width="22.328571428571422" height="22.450000000000003" fill="#eef0bc"/>
<rect x="356.6" y="258.9" width="22.328571428571422" height="22.450000000000003" fill="#e0e8b0"/>
<rect x="378.92857142857144" y="258.9" width="22.328571428571422" height="22.450000000000003" fill="#f4f0c0"/>
<rect x="401.25714285714287" y="258.9" width="22.328571428571422" height="22.450000000000003" fill="#f8f4c8"/>
<rect x="423.5857142857143" y="258.9" width="22.328571428571422" height="22.450000000000003" fill="#1e2a5c"/>
<rect x="445.9142857142857" y="258.9" width="22.328571428571422" height="22.450000000000003" fill="#e8ecb8"/>
<rect x="468.24285714285713" y="258.9" width="22.328571428571422" height="22.450000000000003" fill="#f4f2c4"/>
<rect x="490.57142857142856" y="258.9" width="22.328571428571422" height="22.450000000000003" fill="#f4f4cc"/>
<rect x="356.6" y="281.35" width="22.328571428571422" height="22.450000000000003" fill="#d8e4b0"/>
<rect x="378.92857142857144" y="281.35" width="22.328571428571422" height="22.450000000000003" fill="#5a88c0"/>
<rect x="401.25714285714287" y="281.35" width="22.328571428571422" height="22.450000000000003" fill="#2a3a7a"/>
<rect x="423.5857142857143" y="281.35" width="22.328571428571422" height="22.450000000000003" fill="#fcf8d8"/>
<rect x="445.9142857142857" y="281.35" width="22.328571428571422" height="22.450000000000003" fill="#d4e4b4"/>
<rect x="468.24285714285713" y="281.35" width="22.328571428571422" height="22.450000000000003" fill="#fcf8d8"/>
<rect x="490.57142857142856" y="281.35" width="22.328571428571422" height="22.450000000000003" fill="#fcf8d8"/>
<line x1="356.6" y1="213.2" x2="356.6" y2="304.6" stroke="#111" stroke-width="1.6"/>
<line x1="378.92857142857144" y1="213.2" x2="378.92857142857144" y2="304.6" stroke="#111" stroke-width="1.6"/>
<line x1="401.25714285714287" y1="213.2" x2="401.25714285714287" y2="304.6" stroke="#111" stroke-width="1.6"/>
<line x1="423.5857142857143" y1="213.2" x2="423.5857142857143" y2="304.6" stroke="#111" stroke-width="1.6"/>
<line x1="445.9142857142857" y1="213.2" x2="445.9142857142857" y2="304.6" stroke="#111" stroke-width="1.6"/>
<line x1="468.24285714285713" y1="213.2" x2="468.24285714285713" y2="304.6" stroke="#111" stroke-width="1.6"/>
<line x1="490.57142857142856" y1="213.2" x2="490.57142857142856" y2="304.6" stroke="#111" stroke-width="1.6"/>
<line x1="512.9" y1="213.2" x2="512.9" y2="304.6" stroke="#111" stroke-width="1.6"/>
<line x1="355.8" y1="214.0" x2="513.6999999999999" y2="214.0" stroke="#111" stroke-width="1.6"/>
<line x1="355.8" y1="236.45" x2="513.6999999999999" y2="236.45" stroke="#111" stroke-width="1.6"/>
<line x1="355.8" y1="258.9" x2="513.6999999999999" y2="258.9" stroke="#111" stroke-width="1.6"/>
<line x1="355.8" y1="281.35" x2="513.6999999999999" y2="281.35" stroke="#111" stroke-width="1.6"/>
<line x1="355.8" y1="303.8" x2="513.6999999999999" y2="303.8" stroke="#111" stroke-width="1.6"/>
<text x="367.76428571428573" y="210.5" font-size="8.2" text-anchor="middle">1</text>
<text x="390.09285714285716" y="210.5" font-size="8.2" text-anchor="middle">2</text>
<text x="412.4214285714286" y="210.5" font-size="8.2" text-anchor="middle">3</text>
<text x="434.75" y="210.5" font-size="8.2" text-anchor="middle">4</text>
<text x="457.0785714285714" y="210.5" font-size="8.2" text-anchor="middle">5</text>
<text x="479.40714285714284" y="210.5" font-size="8.2" text-anchor="middle">6</text>
<text x="501.73571428571427" y="210.5" font-size="8.2" text-anchor="middle">7</text>
<circle cx="390.09" cy="225.22" r="1.1" fill="#141828"/>
<circle cx="410.52" cy="225.22" r="1.1" fill="#141828"/>
<circle cx="414.32" cy="225.22" r="1.1" fill="#141828"/>
<circle cx="430.95" cy="247.68" r="1.1" fill="#141828"/>
<circle cx="434.75" cy="247.68" r="1.1" fill="#141828"/>
<circle cx="438.55" cy="247.68" r="1.1" fill="#141828"/>
<circle cx="430.95" cy="270.12" r="1.1" fill="#141828"/>
<circle cx="434.75" cy="270.12" r="1.1" fill="#141828"/>
<circle cx="438.55" cy="270.12" r="1.1" fill="#141828"/>
<circle cx="388.19" cy="292.58" r="1.1" fill="#141828"/>
<circle cx="391.99" cy="292.58" r="1.1" fill="#141828"/>
<circle cx="410.52" cy="292.58" r="1.1" fill="#141828"/>
<circle cx="414.32" cy="292.58" r="1.1" fill="#141828"/>
<text x="353.3" y="227.53" font-size="8.8" text-anchor="end" textLength="26.5" lengthAdjust="spacingAndGlyphs">effector</text>
<path d="M323.55 222.23 V226.23 H321.80 L324.50 229.83 L327.20 226.23 H325.45 V222.23 Z" fill="#111"/>
<text x="322.4" y="227.53" font-size="8.8" text-anchor="end" textLength="20.6" lengthAdjust="spacingAndGlyphs">naive</text>
<path d="M298.55 227.53 V222.83 H296.80 L299.50 219.23 L302.20 222.83 H300.45 V227.53 Z" fill="#111"/>
<text x="353.3" y="249.98" font-size="8.8" text-anchor="end" textLength="26.5" lengthAdjust="spacingAndGlyphs">effector</text>
<path d="M323.55 249.98 V245.28 H321.80 L324.50 241.68 L327.20 245.28 H325.45 V249.98 Z" fill="#111"/>
<text x="322.4" y="249.98" font-size="8.8" text-anchor="end" textLength="20.6" lengthAdjust="spacingAndGlyphs">naive</text>
<path d="M298.55 244.68 V248.68 H296.80 L299.50 252.28 L302.20 248.68 H300.45 V244.68 Z" fill="#111"/>
<text x="353.3" y="272.43" font-size="8.8" text-anchor="end" textLength="28.9" lengthAdjust="spacingAndGlyphs">memory</text>
<path d="M321.15 267.13 V271.13 H319.40 L322.10 274.73 L324.80 271.13 H323.05 V267.13 Z" fill="#111"/>
<text x="320.0" y="272.43" font-size="8.8" text-anchor="end" textLength="26.9" lengthAdjust="spacingAndGlyphs">effector</text>
<path d="M289.85 272.43 V267.73 H288.10 L290.80 264.13 L293.50 267.73 H291.75 V272.43 Z" fill="#111"/>
<text x="353.3" y="294.88" font-size="8.8" text-anchor="end" textLength="28.9" lengthAdjust="spacingAndGlyphs">memory</text>
<path d="M321.15 294.88 V290.18 H319.40 L322.10 286.58 L324.80 290.18 H323.05 V294.88 Z" fill="#111"/>
<text x="320.0" y="294.88" font-size="8.8" text-anchor="end" textLength="26.9" lengthAdjust="spacingAndGlyphs">effector</text>
<path d="M289.85 289.58 V293.58 H288.10 L290.80 297.18 L293.50 293.58 H291.75 V289.58 Z" fill="#111"/>
<defs><linearGradient id="gF" x1="0" x2="1" y1="0" y2="0"><stop offset="0" stop-color="#fcf9e0"/><stop offset="0.3" stop-color="#d8ecd0"/><stop offset="0.55" stop-color="#a0d0c8"/><stop offset="0.78" stop-color="#6a88b4"/><stop offset="1" stop-color="#2e3466"/></linearGradient></defs>
<rect x="457.4" y="309.0" width="54.8" height="5.0" fill="url(#gF)" stroke="#111" stroke-width="1.3"/>
<line x1="457.7" y1="314.0" x2="457.7" y2="316.4" stroke="#111" stroke-width="1.1"/>
<text x="457.7" y="326.6" font-size="8.3" text-anchor="middle" textLength="3.9" lengthAdjust="spacingAndGlyphs">0</text>
<line x1="473.4" y1="314.0" x2="473.4" y2="316.4" stroke="#111" stroke-width="1.1"/>
<text x="473.4" y="326.6" font-size="8.3" text-anchor="middle" textLength="3.9" lengthAdjust="spacingAndGlyphs">1</text>
<line x1="489.2" y1="314.0" x2="489.2" y2="316.4" stroke="#111" stroke-width="1.1"/>
<text x="489.2" y="326.6" font-size="8.3" text-anchor="middle" textLength="3.9" lengthAdjust="spacingAndGlyphs">2</text>
<line x1="504.9" y1="314.0" x2="504.9" y2="316.4" stroke="#111" stroke-width="1.1"/>
<text x="504.9" y="326.6" font-size="8.3" text-anchor="middle" textLength="3.9" lengthAdjust="spacingAndGlyphs">3</text>
<text x="484.7" y="336.6" font-size="10.4" text-anchor="middle" textLength="43.8" lengthAdjust="spacingAndGlyphs">Enrichment</text>
<text x="319.0" y="15.9" font-size="11.5" textLength="8.2" lengthAdjust="spacingAndGlyphs" font-weight="bold">C</text>
<line x1="343.2" y1="24.599999999999994" x2="343.2" y2="144.6" stroke="#111" stroke-width="1.35"/>
<line x1="342.59999999999997" y1="144.0" x2="464.2" y2="144.0" stroke="#111" stroke-width="1.35"/>
<line x1="340.0" y1="144.0" x2="343.2" y2="144.0" stroke="#111" stroke-width="1.1"/>
<text x="337.59999999999997" y="146.7" font-size="8.8" text-anchor="end" textLength="4.3" lengthAdjust="spacingAndGlyphs">0</text>
<line x1="343.2" y1="144.0" x2="343.2" y2="147.2" stroke="#111" stroke-width="1.1"/>
<text x="343.2" y="156.4" font-size="8.8" text-anchor="middle" textLength="4.3" lengthAdjust="spacingAndGlyphs">0</text>
<line x1="340.0" y1="114.65" x2="343.2" y2="114.65" stroke="#111" stroke-width="1.1"/>
<text x="337.59999999999997" y="117.35000000000001" font-size="8.8" text-anchor="end" textLength="4.3" lengthAdjust="spacingAndGlyphs">1</text>
<line x1="372.7" y1="144.0" x2="372.7" y2="147.2" stroke="#111" stroke-width="1.1"/>
<text x="372.7" y="156.4" font-size="8.8" text-anchor="middle" textLength="4.3" lengthAdjust="spacingAndGlyphs">1</text>
<line x1="340.0" y1="85.3" x2="343.2" y2="85.3" stroke="#111" stroke-width="1.1"/>
<text x="337.59999999999997" y="88.0" font-size="8.8" text-anchor="end" textLength="4.3" lengthAdjust="spacingAndGlyphs">2</text>
<line x1="402.2" y1="144.0" x2="402.2" y2="147.2" stroke="#111" stroke-width="1.1"/>
<text x="402.2" y="156.4" font-size="8.8" text-anchor="middle" textLength="4.3" lengthAdjust="spacingAndGlyphs">2</text>
<line x1="340.0" y1="55.94999999999999" x2="343.2" y2="55.94999999999999" stroke="#111" stroke-width="1.1"/>
<text x="337.59999999999997" y="58.64999999999999" font-size="8.8" text-anchor="end" textLength="4.3" lengthAdjust="spacingAndGlyphs">3</text>
<line x1="431.7" y1="144.0" x2="431.7" y2="147.2" stroke="#111" stroke-width="1.1"/>
<text x="431.7" y="156.4" font-size="8.8" text-anchor="middle" textLength="4.3" lengthAdjust="spacingAndGlyphs">3</text>
<line x1="340.0" y1="26.599999999999994" x2="343.2" y2="26.599999999999994" stroke="#111" stroke-width="1.1"/>
<text x="337.59999999999997" y="29.299999999999994" font-size="8.8" text-anchor="end" textLength="4.3" lengthAdjust="spacingAndGlyphs">4</text>
<line x1="461.2" y1="144.0" x2="461.2" y2="147.2" stroke="#111" stroke-width="1.1"/>
<text x="461.2" y="156.4" font-size="8.8" text-anchor="middle" textLength="4.3" lengthAdjust="spacingAndGlyphs">4</text>
<text x="403.7" y="166.9" font-size="10.3" text-anchor="middle" textLength="118" lengthAdjust="spacingAndGlyphs">Adult expression (log<tspan font-size="7.4" dy="2.3">10</tspan><tspan dy="-2.3"> FPKM)</tspan></text>
<text x="324.8" y="84.0" font-size="10.3" text-anchor="middle" textLength="111" lengthAdjust="spacingAndGlyphs" transform="rotate(-90 324.8 84.0)">Neo expression (log<tspan font-size="7.4" dy="2.3">10</tspan><tspan dy="-2.3"> FPKM)</tspan></text>
<text x="8.4" y="197.1" font-size="11.5" textLength="7.8" lengthAdjust="spacingAndGlyphs" font-weight="bold">D</text>
<line x1="31.5" y1="204.79999999999998" x2="31.5" y2="325.8" stroke="#111" stroke-width="1.35"/>
<line x1="30.9" y1="325.2" x2="152.5" y2="325.2" stroke="#111" stroke-width="1.35"/>
<line x1="28.3" y1="325.2" x2="31.5" y2="325.2" stroke="#111" stroke-width="1.1"/>
<text x="25.9" y="327.9" font-size="8.8" text-anchor="end" textLength="4.3" lengthAdjust="spacingAndGlyphs">0</text>
<line x1="31.5" y1="325.2" x2="31.5" y2="328.4" stroke="#111" stroke-width="1.1"/>
<text x="31.5" y="336.8" font-size="8.8" text-anchor="middle" textLength="4.3" lengthAdjust="spacingAndGlyphs">0</text>
<line x1="28.3" y1="295.59999999999997" x2="31.5" y2="295.59999999999997" stroke="#111" stroke-width="1.1"/>
<text x="25.9" y="298.29999999999995" font-size="8.8" text-anchor="end" textLength="4.3" lengthAdjust="spacingAndGlyphs">1</text>
<line x1="61.0" y1="325.2" x2="61.0" y2="328.4" stroke="#111" stroke-width="1.1"/>
<text x="61.0" y="336.8" font-size="8.8" text-anchor="middle" textLength="4.3" lengthAdjust="spacingAndGlyphs">1</text>
<line x1="28.3" y1="266.0" x2="31.5" y2="266.0" stroke="#111" stroke-width="1.1"/>
<text x="25.9" y="268.7" font-size="8.8" text-anchor="end" textLength="4.3" lengthAdjust="spacingAndGlyphs">2</text>
<line x1="90.5" y1="325.2" x2="90.5" y2="328.4" stroke="#111" stroke-width="1.1"/>
<text x="90.5" y="336.8" font-size="8.8" text-anchor="middle" textLength="4.3" lengthAdjust="spacingAndGlyphs">2</text>
<line x1="28.3" y1="236.39999999999998" x2="31.5" y2="236.39999999999998" stroke="#111" stroke-width="1.1"/>
<text x="25.9" y="239.09999999999997" font-size="8.8" text-anchor="end" textLength="4.3" lengthAdjust="spacingAndGlyphs">3</text>
<line x1="120.0" y1="325.2" x2="120.0" y2="328.4" stroke="#111" stroke-width="1.1"/>
<text x="120.0" y="336.8" font-size="8.8" text-anchor="middle" textLength="4.3" lengthAdjust="spacingAndGlyphs">3</text>
<line x1="28.3" y1="206.79999999999998" x2="31.5" y2="206.79999999999998" stroke="#111" stroke-width="1.1"/>
<text x="25.9" y="209.49999999999997" font-size="8.8" text-anchor="end" textLength="4.3" lengthAdjust="spacingAndGlyphs">4</text>
<line x1="149.5" y1="325.2" x2="149.5" y2="328.4" stroke="#111" stroke-width="1.1"/>
<text x="149.5" y="336.8" font-size="8.8" text-anchor="middle" textLength="4.3" lengthAdjust="spacingAndGlyphs">4</text>
<text x="92.3" y="347.6" font-size="10.3" text-anchor="middle" textLength="117.8" lengthAdjust="spacingAndGlyphs">Adult expression (log<tspan font-size="7.4" dy="2.3">10</tspan><tspan dy="-2.3"> FPKM)</tspan></text>
<text x="16.2" y="264.6" font-size="10.3" text-anchor="middle" textLength="113" lengthAdjust="spacingAndGlyphs" transform="rotate(-90 16.2 264.6)">Neo expression (log<tspan font-size="7.4" dy="2.3">10</tspan><tspan dy="-2.3"> FPKM)</tspan></text>
<rect x="0.5" y="0.5" width="519" height="364.6" fill="none" stroke="#000" stroke-width="1.2"/><line x1="0" y1="365.4" x2="520" y2="365.4" stroke="#000" stroke-width="1.2"/>
</svg></div>

</body></html>
